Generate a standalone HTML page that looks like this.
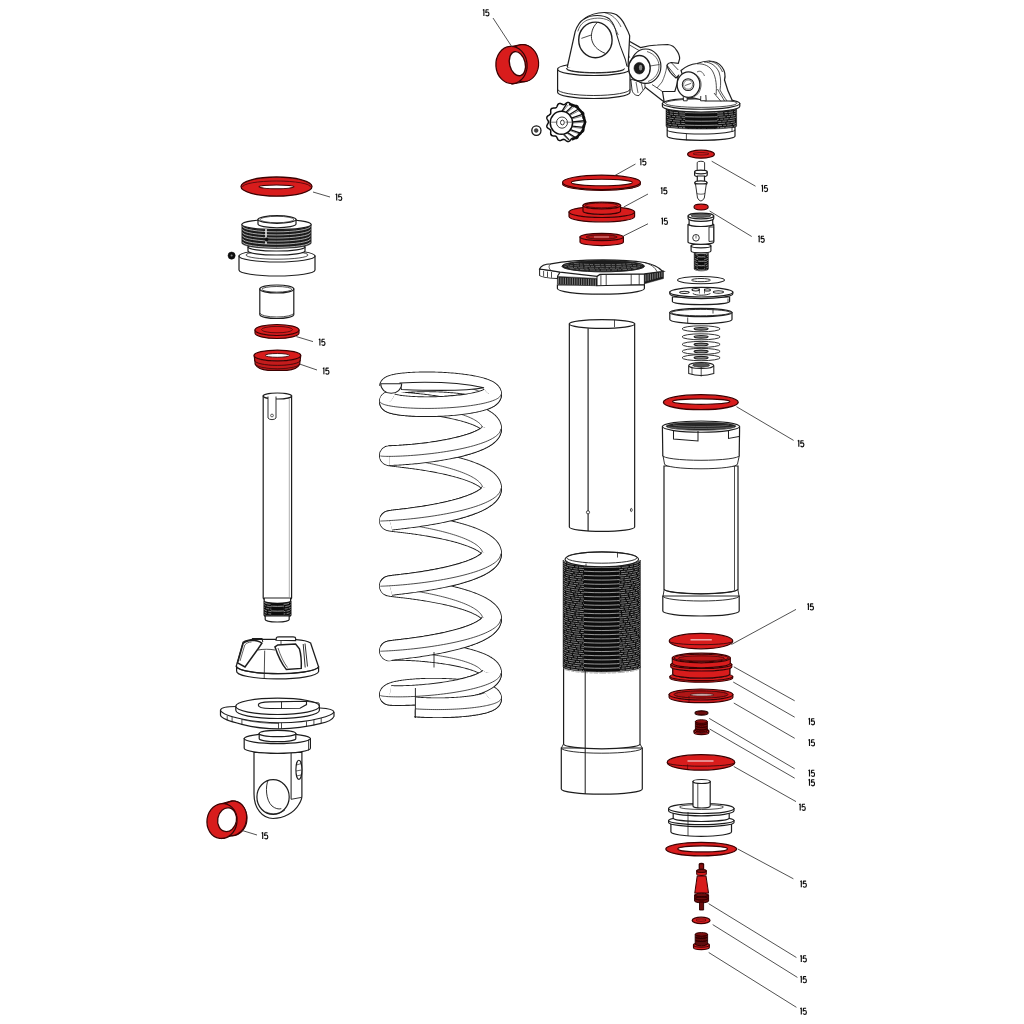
<!DOCTYPE html>
<html><head><meta charset="utf-8"><style>
html,body{margin:0;padding:0;background:#fff;font-family:"Liberation Sans",sans-serif;}
svg{display:block;}
</style></head><body>
<svg width="1024" height="1024" viewBox="0 0 1024 1024">
<defs><filter id="soft" x="0" y="0" width="1" height="1"><feGaussianBlur stdDeviation="0.32"/></filter></defs>
<rect width="1024" height="1024" fill="#fff"/>
<g filter="url(#soft)">
<ellipse cx="276.5" cy="186.6" rx="35.5" ry="9.6" fill="#d81c1f" stroke="#3c0606" stroke-width="1.3" />
<path d="M242.5 187 A34 6 0 0 1 310.5 187" fill="none" stroke="#3c0606" stroke-width="0.78" />
<ellipse cx="276.5" cy="186.8" rx="17.5" ry="1.9" fill="#fff" stroke="#3c0606" stroke-width="1.04" />
<line x1="313" y1="192" x2="330" y2="197" stroke="#333" stroke-width="0.85"/>
<path d="M0.9 1.1 L1.9 0.25 L1.9 6.95 M6.7 0.5 L4.1 0.5 L3.8 3.35 C4.3 2.95 4.8 2.8 5.3 2.8 C6.3 2.8 7.0 3.65 7.0 4.8 C7.0 6.1 6.3 6.9 5.3 6.9 C4.6 6.9 4.0 6.5 3.75 5.85" fill="none" stroke="#111" stroke-width="1.15" stroke-linejoin="round" transform="translate(334.8 193.8) scale(1 0.96)"/>
<path d="M239 256 L239 270 A38 6 0 0 0 315 270 L315 256 Z" fill="#fff" stroke="#1f1f1f" stroke-width="1.21" />
<ellipse cx="277" cy="256" rx="38" ry="6" fill="#fff" stroke="#1f1f1f" stroke-width="1.21" />
<ellipse cx="277" cy="255" rx="31" ry="4.2" fill="none" stroke="#1f1f1f" stroke-width="0.8" />
<path d="M248 247 L248 251 A28.5 4 0 0 0 305 251 L305 247 Z" fill="#fff" stroke="#1f1f1f" stroke-width="1.21" />
<ellipse cx="276.5" cy="247" rx="28.5" ry="4" fill="#fff" stroke="#1f1f1f" stroke-width="1.21" />
<path d="M241.8 224.5 L241.8 243 A34.7 5.5 0 0 0 311.2 243 L311.2 224.5 A34.7 5.5 0 0 1 241.8 224.5 Z" fill="#1a1a1a" stroke="#1a1a1a" stroke-width="0.5" />
<path d="M242.6 226.36 A33.9 5.5 0 0 0 310.4 226.36 M242.6 229.46 A33.9 5.5 0 0 0 310.4 229.46 M242.6 232.56 A33.9 5.5 0 0 0 310.4 232.56 M242.6 235.66 A33.9 5.5 0 0 0 310.4 235.66 M242.6 238.76 A33.9 5.5 0 0 0 310.4 238.76 M242.6 241.86 A33.9 5.5 0 0 0 310.4 241.86" fill="none" stroke="#c4c4c4" stroke-width="0.85" />
<ellipse cx="276.5" cy="224.5" rx="34.7" ry="5" fill="#fff" stroke="#1f1f1f" stroke-width="1.21" />
<path d="M258 219.5 L258 224 A19 3.8 0 0 0 296 224 L296 219.5 Z" fill="#fff" stroke="#1f1f1f" stroke-width="1.21" />
<ellipse cx="277" cy="219.5" rx="19" ry="3.8" fill="#fff" stroke="#1f1f1f" stroke-width="1.21" />
<ellipse cx="277" cy="219.5" rx="17" ry="3.2" fill="#fff" stroke="#1f1f1f" stroke-width="0.8" />
<path d="M266 229 L266 244" fill="none" stroke="#e8e8e8" stroke-width="1.6" />
<ellipse cx="266.5" cy="239.5" rx="1.8" ry="1.8" fill="#111" stroke="#111" stroke-width="0.5" />
<ellipse cx="231.6" cy="255.6" rx="3.6" ry="3.6" fill="#111" stroke="#111" stroke-width="0.5" />
<ellipse cx="231.6" cy="255.6" rx="1" ry="1" fill="#888" stroke="none" stroke-width="0" />
<path d="M259.8 289 L259.8 314.5 A17 4 0 0 0 293.8 314.5 L293.8 289 Z" fill="#fff" stroke="#1f1f1f" stroke-width="1.21" />
<ellipse cx="276.8" cy="289" rx="17" ry="4" fill="#fff" stroke="#1f1f1f" stroke-width="1.21" />
<ellipse cx="276.8" cy="289.3" rx="15" ry="2.8" fill="none" stroke="#1f1f1f" stroke-width="0.8" />
<path d="M259.8 313 A17 4 0 0 0 293.8 313" fill="none" stroke="#1f1f1f" stroke-width="0.8" />
<path d="M255 330 L255 333 A22 5.5 0 0 0 299 333 L299 330 Z" fill="#d81c1f" stroke="#3c0606" stroke-width="1.17" />
<ellipse cx="277" cy="330" rx="22" ry="5.5" fill="#d81c1f" stroke="#3c0606" stroke-width="1.17" />
<ellipse cx="277" cy="329.6" rx="15.5" ry="3.2" fill="none" stroke="#3c0606" stroke-width="0.78" />
<line x1="296.4" y1="336.6" x2="313" y2="341.6" stroke="#333" stroke-width="0.85"/>
<path d="M0.9 1.1 L1.9 0.25 L1.9 6.95 M6.7 0.5 L4.1 0.5 L3.8 3.35 C4.3 2.95 4.8 2.8 5.3 2.8 C6.3 2.8 7.0 3.65 7.0 4.8 C7.0 6.1 6.3 6.9 5.3 6.9 C4.6 6.9 4.0 6.5 3.75 5.85" fill="none" stroke="#111" stroke-width="1.15" stroke-linejoin="round" transform="translate(318 338.8) scale(1 0.96)"/>
<path d="M254.2 356 L255.3 364.5 C257 367.5 262 369.8 268 370.3 L287 370.3 C293 369.8 298 367.5 299.6 364.5 L300.7 356 Z" fill="#c41a1c" stroke="#3c0606" stroke-width="1.17" />
<path d="M254.4 360.2 A23 5.2 0 0 0 300.4 360.2" fill="none" stroke="#3c0606" stroke-width="0.91" />
<path d="M255.1 363.6 A22.3 5.2 0 0 0 299.7 363.6" fill="none" stroke="#3c0606" stroke-width="0.78" />
<ellipse cx="277.4" cy="355.5" rx="23.4" ry="5.4" fill="#d81c1f" stroke="#3c0606" stroke-width="1.17" />
<ellipse cx="277.3" cy="355.4" rx="12.2" ry="1.9" fill="#fff" stroke="#3c0606" stroke-width="0.91" />
<line x1="299.5" y1="364" x2="317" y2="370" stroke="#333" stroke-width="0.85"/>
<path d="M0.9 1.1 L1.9 0.25 L1.9 6.95 M6.7 0.5 L4.1 0.5 L3.8 3.35 C4.3 2.95 4.8 2.8 5.3 2.8 C6.3 2.8 7.0 3.65 7.0 4.8 C7.0 6.1 6.3 6.9 5.3 6.9 C4.6 6.9 4.0 6.5 3.75 5.85" fill="none" stroke="#111" stroke-width="1.15" stroke-linejoin="round" transform="translate(322 367.6) scale(1 0.96)"/>
<path d="M263.2 396 L263.2 598 A14.2 3 0 0 0 291.6 598 L291.6 396 Z" fill="#fff" stroke="#1f1f1f" stroke-width="1.21" />
<ellipse cx="277.4" cy="396" rx="14.2" ry="3" fill="#fff" stroke="#1f1f1f" stroke-width="1.21" />
<path d="M268 396.5 L268 418 A4.5 3 0 0 0 276 418 L276 396.5" fill="#fff" stroke="#1f1f1f" stroke-width="0.92" />
<ellipse cx="272" cy="415.5" rx="1.4" ry="1.4" fill="none" stroke="#1f1f1f" stroke-width="0.69" />
<line x1="289.3" y1="399" x2="289.3" y2="597" stroke="#777" stroke-width="0.6"/>
<path d="M264.2 598 L264.2 601 A13.2 2.4 0 0 0 290.6 601 L290.6 598 Z" fill="#fff" stroke="#1f1f1f" stroke-width="1.21" />
<path d="M263.8 601 L263.8 615.5 A13.7 2.5 0 0 0 291.2 615.5 L291.2 601 A13.7 2.5 0 0 1 263.8 601 Z" fill="#101010" stroke="#101010" stroke-width="0.5" />
<path d="M264.4 602.2 A13.1 2.5 0 0 0 290.6 602.2" fill="none" stroke="#9c9c9c" stroke-width="0.8" stroke-dasharray="4.5 1.2 7 1.5 3 1" stroke-dashoffset="5.83"/>
<path d="M264.4 604.6 A13.1 2.5 0 0 0 290.6 604.6" fill="none" stroke="#9c9c9c" stroke-width="0.8" stroke-dasharray="4.5 1.2 7 1.5 3 1" stroke-dashoffset="2.72"/>
<path d="M264.4 607 A13.1 2.5 0 0 0 290.6 607" fill="none" stroke="#9c9c9c" stroke-width="0.8" stroke-dasharray="4.5 1.2 7 1.5 3 1" stroke-dashoffset="11.72"/>
<path d="M264.4 609.4 A13.1 2.5 0 0 0 290.6 609.4" fill="none" stroke="#9c9c9c" stroke-width="0.8" stroke-dasharray="4.5 1.2 7 1.5 3 1" stroke-dashoffset="1.3"/>
<path d="M264.4 611.8 A13.1 2.5 0 0 0 290.6 611.8" fill="none" stroke="#9c9c9c" stroke-width="0.8" stroke-dasharray="4.5 1.2 7 1.5 3 1" stroke-dashoffset="9.65"/>
<path d="M264.4 614.2 A13.1 2.5 0 0 0 290.6 614.2" fill="none" stroke="#9c9c9c" stroke-width="0.8" stroke-dasharray="4.5 1.2 7 1.5 3 1" stroke-dashoffset="6.58"/>
<clipPath id="thc1"><rect x="271.2" y="601" width="12.6" height="17"/></clipPath>
<rect x="271.2" y="603.5" width="12.6" height="14" fill="#101010" clip-path="url(#thc1)"/>
<path d="M264.4 603.88 A13.1 2.5 0 0 0 290.6 603.88 M264.4 608.68 A13.1 2.5 0 0 0 290.6 608.68 M264.4 613.48 A13.1 2.5 0 0 0 290.6 613.48" fill="none" stroke="#c4c4c4" stroke-width="0.75" clip-path="url(#thc1)"/>
<path d="M265.2 615.8 L265.2 619.5 A12 2.5 0 0 0 289.2 619.5 L289.2 615.8 Z" fill="#fff" stroke="#1f1f1f" stroke-width="1.21" />
<path d="M236.6 665 L236.6 671 A41 7.7 0 0 0 318.6 671.5 L318.6 667 Z" fill="#fff" stroke="#1f1f1f" stroke-width="1.21" />
<path d="M236.6 665 L243.1 642.2 C246 640 250 639.5 255 639.3 L275 639.4 L296 639.6 C303 640 307.5 641 310.6 643 L318.6 667 A41 7.5 0 0 1 236.6 665 Z" fill="#fff" stroke="#1f1f1f" stroke-width="1.26" />
<path d="M236.6 665.5 A41 7.5 0 0 0 318.6 667" fill="none" stroke="#1f1f1f" stroke-width="1.15" />
<path d="M237.6 662.8 L245 667 C250 660 255 653 258.1 648.75 L261.9 643.1 C259 641 255 640.3 251.6 640.3 C247 641 244.5 642 243.1 643.5 Z" fill="#fff" stroke="#1f1f1f" stroke-width="1.49" />
<path d="M240 661 L244.8 645 C246.5 643 249 642 251.5 642" fill="none" stroke="#1f1f1f" stroke-width="0.69" />
<path d="M275 646.9 C278 656 282 664 286.25 669.4 L301.25 668.4 C301.5 661 301 654 299.4 648.75 L295.6 644 L277.8 645 Z" fill="#fff" stroke="#1f1f1f" stroke-width="1.49" />
<path d="M278 648 C280.5 656 284 663 287.5 667.5" fill="none" stroke="#1f1f1f" stroke-width="0.69" />
<path d="M303.2 644 L305.2 667.5 M305 643.5 L307.5 666.5" fill="none" stroke="#1f1f1f" stroke-width="0.92" />
<path d="M276 640.3 L276.5 637.5 C277 636.8 278 636.8 279 636.8 L293 636.8 C294.5 636.8 295.6 637.5 295.6 638.5 L295.6 640.6 Z" fill="#fff" stroke="#1f1f1f" stroke-width="1.15" />
<line x1="281" y1="640.5" x2="281" y2="644.5" stroke="#1f1f1f" stroke-width="0.8"/>
<path d="M251.6 640.3 L252.5 638.6 L262 638.6 L262.8 642" fill="none" stroke="#1f1f1f" stroke-width="1.03" />
<path d="M258 650 C263 649 270 649 275 650" fill="none" stroke="#1f1f1f" stroke-width="0.8" />
<line x1="264.7" y1="650.6" x2="264.2" y2="678.8" stroke="#1f1f1f" stroke-width="0.8"/>
<path d="M254 752.5 L254 794 C254 808.5 262.5 818.5 273 818.5 C284 818.5 294 812.5 298.5 805 C300.5 802 301.9 799 301.9 796 L301.9 752.5 Z" fill="#fff" stroke="#1f1f1f" stroke-width="1.21" />
<line x1="291.1" y1="753" x2="291.1" y2="799.3" stroke="#1f1f1f" stroke-width="1.03"/>
<line x1="291.1" y1="799.3" x2="301.5" y2="797.4" stroke="#1f1f1f" stroke-width="0.92"/>
<ellipse cx="273.05" cy="797" rx="16.15" ry="17.35" fill="#fff" stroke="#1f1f1f" stroke-width="1.21" />
<path d="M268 780.5 C265.5 786 265.5 800 272 806 C275 808.5 278.5 809.5 281.3 808.7" fill="none" stroke="#1f1f1f" stroke-width="0.92" />
<path d="M266 812 C272 815 280 814 285 810" fill="none" stroke="#1f1f1f" stroke-width="0.69" />
<ellipse cx="298.9" cy="769.8" rx="3" ry="9.6" fill="#fff" stroke="#1f1f1f" stroke-width="1.15" />
<path d="M296.5 765 L301.2 763.5 M296 771 L301.5 770 M296.5 776 L301 775" fill="none" stroke="#1f1f1f" stroke-width="0.69" />
<path d="M244.2 738.6 L244.2 748.3 A33.1 5 0 0 0 310.4 748.3 L310.4 738.6 Z" fill="#fff" stroke="#1f1f1f" stroke-width="1.21" />
<ellipse cx="277.3" cy="738.6" rx="33.1" ry="5" fill="#fff" stroke="#1f1f1f" stroke-width="1.21" />
<line x1="308.5" y1="739.5" x2="308.5" y2="750.5" stroke="#1f1f1f" stroke-width="0.8"/>
<path d="M259.2 733.5 L259.2 738.5 A18.3 3.2 0 0 0 295.8 738.5 L295.8 733.5 Z" fill="#fff" stroke="#1f1f1f" stroke-width="1.21" />
<ellipse cx="277.5" cy="733.5" rx="18.3" ry="3.2" fill="#fff" stroke="#1f1f1f" stroke-width="1.21" />
<path d="M220.5 710 C221 707.5 228 706.5 236 706.5 L320 708 C328 708.5 333.5 709.5 334 712 L334 716.4 C333 719 328 722 320 723.7 C305 727.5 292 728.8 279.7 728.8 C265 728.8 252 727 241.9 724.3 C230 721.5 221 718.5 220.5 715.2 Z" fill="#fff" stroke="#1f1f1f" stroke-width="1.21" />
<path d="M220.5 710.5 C222 713.5 230 716.5 241.9 719 C255 721.8 268 722.8 279.7 722.8 C295 722.8 310 721 320 718.3 C328 716.3 333 714.2 334 712" fill="none" stroke="#1f1f1f" stroke-width="1.03" />
<path d="M241.9 719 L241.9 724.3 M278.5 722.8 L278.5 728.8 M281.5 722.8 L281.5 728.8 M306.5 721.3 L306.5 726.8 M313.9 719.8 L313.9 725.5 M321.2 718 L321.2 723.5 M227.2 715.5 L227.2 720.5 M232.1 717 L232.1 722" fill="none" stroke="#1f1f1f" stroke-width="0.8" />
<path d="M241.9 719.5 C255 722.5 268 723.5 278.5 723.5" fill="none" stroke="#1f1f1f" stroke-width="0.69" />
<path d="M235.8 706.3 L235.8 710.3 A41.8 8.2 0 0 0 319.4 710.3 L319.4 706.3 Z" fill="#fff" stroke="#1f1f1f" stroke-width="1.21" />
<ellipse cx="277.6" cy="706.3" rx="41.8" ry="8.2" fill="#fff" stroke="#1f1f1f" stroke-width="1.21" />
<path d="M258.3 705 C258.3 703 262 701.8 270 701.8 L306.5 701.3 L306.5 704.6 L300 708.3 L270 708.5 C262 708.5 258.3 707 258.3 705 Z" fill="#fff" stroke="#1f1f1f" stroke-width="1.15" />
<path d="M281.5 701.8 L281.5 708.4 M306.5 701.3 L319 703 L319.4 706" fill="none" stroke="#1f1f1f" stroke-width="0.92" />
<path d="M222 803.5 L232 800.8 A15 17.5 0 0 1 232 835.8 L222 838.5 Z" fill="#d81c1f" stroke="#3c0606" stroke-width="1.17" />
<ellipse cx="232.5" cy="818.3" rx="14" ry="17.3" fill="#d81c1f" stroke="#3c0606" stroke-width="1.17" transform="rotate(8 232.5 818.3)"/>
<ellipse cx="222" cy="821" rx="15" ry="17.5" fill="#d81c1f" stroke="#3c0606" stroke-width="1.3" transform="rotate(8 222 821)"/>
<ellipse cx="227.1" cy="819.7" rx="9.4" ry="11.9" fill="#fff" stroke="#3c0606" stroke-width="1.3" transform="rotate(10 227.1 819.7)"/>
<line x1="242.5" y1="830.6" x2="257" y2="835" stroke="#333" stroke-width="0.85"/>
<path d="M0.9 1.1 L1.9 0.25 L1.9 6.95 M6.7 0.5 L4.1 0.5 L3.8 3.35 C4.3 2.95 4.8 2.8 5.3 2.8 C6.3 2.8 7.0 3.65 7.0 4.8 C7.0 6.1 6.3 6.9 5.3 6.9 C4.6 6.9 4.0 6.5 3.75 5.85" fill="none" stroke="#111" stroke-width="1.15" stroke-linejoin="round" transform="translate(260.8 832.3) scale(1 0.96)"/>
<path d="M389.3 387 L389.32 386.83 L389.37 386.67 L389.47 386.5 L389.59 386.34 L389.76 386.17 L389.96 386.01 L390.2 385.85 L390.48 385.68 L390.79 385.52 L391.13 385.37 L391.51 385.21 L391.93 385.05 L392.38 384.9 L392.87 384.75 L393.39 384.6 L393.95 384.45 L394.53 384.31 L395.16 384.17 L395.81 384.03 L396.5 383.89 L397.22 383.76 L397.96 383.63 L398.74 383.51 L399.55 383.38 L400.39 383.26 L401.26 383.15 L402.16 383.04 L403.08 382.93 L404.03 382.83 L405.01 382.73 L406.01 382.64 L407.04 382.55 L408.09 382.46 L409.17 382.38 L410.27 382.31 L411.39 382.24 L412.53 382.17 L413.69 382.11 L414.87 382.06 L416.06 382.01 L417.28 381.96 L418.51 381.92 L419.76 381.89 L421.02 381.86 L422.3 381.84 L423.59 381.83 L424.9 381.81 L426.21 381.81 L427.53 381.81 L428.87 381.82 L430.21 381.83 L431.56 381.85 L432.91 381.88 L434.27 381.91 L435.64 381.94 L437.01 381.99 L438.38 382.04 L439.75 382.09 L441.13 382.15 L442.5 382.22 L443.87 382.3 L445.24 382.38 L446.61 382.46 L447.97 382.55 L449.33 382.65 L450.68 382.76 L452.02 382.87 L453.35 382.98 L454.68 383.1 L455.99 383.23 L457.3 383.37 L458.59 383.51 L459.87 383.65 L461.13 383.8 L462.38 383.96 L463.62 384.12 L464.83 384.29 L466.03 384.46 L467.21 384.64 L468.38 384.82 L469.52 385.01 L470.64 385.21 L471.74 385.4 L472.82 385.61 L473.87 385.82 L474.9 386.03 L475.9 386.25 L476.88 386.47 L477.84 386.69 L478.76 386.93 L479.66 387.16 L480.53 387.4 L481.38 387.64 L482.19 387.89 L482.97 388.14 L483.72 388.39 L484.44 388.64 L485.13 388.9 L485.79 389.17 L486.41 389.43 L487.01 389.7 L487.56 389.97 L488.09 390.24 L488.58 390.52 L489.03 390.79 L489.45 391.07 L489.84 391.35 L490.19 391.64 L490.5 391.92 L490.78 392.21 L491.02 392.49 L491.22 392.78 L491.39 393.07 L491.52 393.36 L491.62 393.65 L491.68 393.94 L491.7 394.23 L491.68 394.52 L491.63 394.81 L491.54 395.09 L491.42 395.38 L491.26 395.67 L491.06 395.96 L490.82 396.25 L490.55 396.53 L490.24 396.82 L489.9 397.1 L489.52 397.38 L489.11 397.66 L488.66 397.94 L488.17 398.21 L487.65 398.49 L487.1 398.76 L486.52 399.02 L485.9 399.29 L485.25 399.55 L484.56 399.81 L483.85 400.07 L483.1 400.32 L482.32 400.57 L481.52 400.82 L480.68 401.06 L479.81 401.3 L478.92 401.54 L478 401.77 L477.05 401.99 L476.07 402.22 L475.07 402.43 L474.05 402.65 L473 402.86 L471.92 403.06 L470.83 403.26 L469.71 403.45 L468.57 403.64 L467.41 403.83 L466.23 404.01 L465.04 404.18 L463.82 404.35 L462.59 404.51 L461.35 404.67 L460.08 404.82 L458.81 404.97 L457.52 405.11 L456.22 405.24 L454.9 405.37 L453.58 405.5 L452.25 405.61 L450.91 405.73 L449.56 405.83 L448.2 405.93 L446.84 406.02 L445.48 406.11 L444.11 406.19 L442.74 406.27 L441.36 406.33 L439.99 406.4 L438.62 406.45 L437.24 406.5 L435.87 406.55 L434.51 406.59 L433.15 406.62 L431.79 406.65 L430.44 406.67 L429.09 406.68 L427.76 406.69 L426.43 406.69 L425.12 406.69 L423.81 406.68 L422.52 406.66 L421.24 406.64 L419.98 406.61 L418.72 406.58 L417.49 406.54 L416.27 406.5 L415.07 406.45 L413.89 406.4 L412.72 406.34 L411.58 406.27 L410.46 406.2 L409.35 406.13 L408.27 406.05 L407.22 405.97 L406.19 405.88 L405.18 405.79 L404.2 405.69 L403.24 405.59 L402.31 405.48 L401.41 405.37 L400.54 405.26 L399.7 405.14 L398.88 405.02 L398.09 404.89 L397.34 404.76 L396.62 404.63 L395.93 404.49 L395.27 404.36 L394.64 404.22 L394.04 404.07 L393.48 403.93 L392.96 403.78 L392.46 403.63 L392.01 403.47 L391.58 403.32 L391.19 403.16 L390.84 403 L390.53 402.84 L390.24 402.68 L390 402.52 L389.79 402.36 L389.62 402.19 L389.49 402.03 L389.39 401.86 L389.33 401.69 L389.3 401.53 L389.31 401.5 L389.36 401.51 L389.45 401.51 L389.57 401.51 L389.73 401.52 L389.93 401.52 L390.16 401.53 L390.43 401.54 L390.73 401.54 L391.07 401.55 L391.45 401.57 L391.86 401.58 L392.3 401.6 L392.78 401.61 L393.3 401.63 L393.85 401.65 L394.43 401.68 L395.05 401.71 L395.7 401.74 L396.38 401.77 L397.09 401.81 L397.83 401.84 L398.61 401.89 L399.41 401.93 L400.25 401.98 L401.11 402.04 L402 402.09 L402.92 402.16 L403.87 402.22 L404.84 402.29 L405.84 402.37 L406.86 402.45 L407.91 402.53 L408.98 402.62 L410.08 402.71 L411.19 402.81 L412.33 402.91 L413.49 403.02 L414.66 403.13 L415.86 403.25 L417.07 403.37 L418.3 403.5 L419.55 403.64 L420.81 403.78 L422.08 403.93 L423.37 404.08 L424.67 404.24 L425.98 404.4 L427.31 404.57 L428.64 404.74 L429.98 404.92 L431.33 405.11 L432.68 405.3 L434.04 405.5 L435.41 405.71 L436.78 405.92 L438.15 406.14 L439.52 406.36 L440.89 406.59 L442.27 406.83 L443.64 407.07 L445.01 407.32 L446.38 407.57 L447.74 407.83 L449.1 408.1 L450.45 408.37 L451.79 408.65 L453.13 408.93 L454.45 409.22 L455.77 409.52 L457.08 409.82 L458.37 410.13 L459.65 410.44 L460.92 410.76 L462.17 411.09 L463.41 411.42 L464.63 411.75 L465.83 412.09 L467.01 412.44 L468.18 412.79 L469.33 413.15 L470.45 413.51 L471.55 413.88 L472.63 414.25 L473.69 414.63 L474.73 415.01 L475.74 415.39 L476.72 415.78 L477.68 416.18 L478.61 416.58 L479.51 416.98 L480.39 417.39 L481.23 417.8 L482.05 418.21 L482.84 418.63 L483.6 419.05 L484.32 419.47 L485.02 419.9 L485.68 420.33 L486.31 420.77 L486.91 421.2 L487.47 421.64 L488 422.08 L488.5 422.53 L488.96 422.97 L489.38 423.42 L489.77 423.87 L490.13 424.32 L490.45 424.78 L490.73 425.23 L490.98 425.68 L491.19 426.14 L491.37 426.6 L491.5 427.06 L491.61 427.51 L491.67 427.97 L491.7 428.43 L491.69 428.89 L491.64 429.35 L491.56 429.81 L491.44 430.27 L491.29 430.73 L491.09 431.18 L490.86 431.64 L490.6 432.09 L490.3 432.55 L489.96 433 L489.59 433.45 L489.18 433.9 L488.74 434.34 L488.26 434.79 L487.75 435.23 L487.2 435.67 L486.62 436.11 L486.01 436.55 L485.36 436.98 L484.68 437.41 L483.97 437.83 L483.23 438.26 L482.46 438.68 L481.66 439.09 L480.82 439.5 L479.96 439.91 L479.07 440.32 L478.16 440.72 L477.21 441.12 L476.24 441.51 L475.24 441.9 L474.22 442.28 L473.18 442.66 L472.11 443.03 L471.02 443.4 L469.9 443.77 L468.77 444.13 L467.61 444.48 L466.44 444.83 L465.24 445.17 L464.03 445.51 L462.8 445.85 L461.56 446.17 L460.3 446.49 L459.03 446.81 L457.74 447.12 L456.44 447.43 L455.13 447.73 L453.81 448.02 L452.47 448.31 L451.13 448.59 L449.79 448.86 L448.43 449.13 L447.07 449.4 L445.71 449.65 L444.34 449.9 L442.97 450.15 L441.6 450.39 L440.22 450.62 L438.85 450.85 L437.48 451.07 L436.11 451.28 L434.74 451.49 L433.38 451.69 L432.02 451.89 L430.67 452.08 L429.32 452.26 L427.99 452.44 L426.66 452.62 L425.34 452.78 L424.04 452.94 L422.74 453.1 L421.46 453.25 L420.19 453.39 L418.94 453.53 L417.7 453.66 L416.48 453.79 L415.27 453.91 L414.09 454.02 L412.92 454.13 L411.77 454.24 L410.64 454.34 L409.54 454.44 L408.46 454.53 L407.4 454.61 L406.36 454.69 L405.35 454.77 L404.36 454.84 L403.4 454.91 L402.47 454.97 L401.56 455.03 L400.69 455.09 L399.84 455.14 L399.02 455.19 L398.23 455.23 L397.47 455.28 L396.74 455.31 L396.04 455.35 L395.38 455.38 L394.74 455.41 L394.14 455.43 L393.58 455.46 L393.04 455.48 L392.55 455.5 L392.08 455.51 L391.65 455.53 L391.26 455.54 L390.9 455.55 L390.58 455.56 L390.29 455.57 L390.04 455.57 L389.82 455.58 L389.65 455.58 L389.51 455.59 L389.4 455.59 L389.33 455.6 L389.3 455.6 L389.31 455.63 L389.35 455.68 L389.43 455.73 L389.55 455.79 L389.7 455.84 L389.89 455.89 L390.12 455.94 L390.38 456 L390.68 456.05 L391.01 456.11 L391.38 456.17 L391.79 456.23 L392.23 456.29 L392.7 456.36 L393.21 456.42 L393.75 456.49 L394.33 456.56 L394.94 456.64 L395.58 456.72 L396.26 456.8 L396.97 456.88 L397.71 456.96 L398.48 457.05 L399.27 457.15 L400.1 457.24 L400.96 457.34 L401.85 457.45 L402.76 457.56 L403.71 457.67 L404.68 457.79 L405.67 457.91 L406.69 458.03 L407.73 458.16 L408.8 458.3 L409.89 458.44 L411 458.58 L412.14 458.73 L413.29 458.89 L414.46 459.05 L415.65 459.21 L416.86 459.38 L418.09 459.56 L419.33 459.74 L420.59 459.92 L421.87 460.12 L423.15 460.32 L424.45 460.52 L425.76 460.73 L427.08 460.95 L428.41 461.17 L429.75 461.39 L431.1 461.63 L432.45 461.87 L433.81 462.11 L435.17 462.36 L436.54 462.62 L437.91 462.89 L439.29 463.16 L440.66 463.43 L442.03 463.71 L443.41 464 L444.78 464.3 L446.14 464.6 L447.51 464.9 L448.87 465.22 L450.22 465.54 L451.56 465.86 L452.9 466.19 L454.23 466.53 L455.55 466.87 L456.85 467.22 L458.15 467.57 L459.43 467.93 L460.7 468.3 L461.96 468.67 L463.2 469.05 L464.42 469.43 L465.63 469.82 L466.81 470.21 L467.98 470.61 L469.13 471.01 L470.26 471.42 L471.37 471.83 L472.45 472.25 L473.51 472.67 L474.55 473.1 L475.57 473.53 L476.55 473.97 L477.52 474.41 L478.45 474.86 L479.36 475.31 L480.24 475.76 L481.09 476.22 L481.91 476.68 L482.71 477.14 L483.47 477.61 L484.2 478.08 L484.9 478.56 L485.57 479.04 L486.2 479.52 L486.81 480 L487.38 480.49 L487.91 480.97 L488.41 481.47 L488.88 481.96 L489.31 482.45 L489.71 482.95 L490.07 483.45 L490.4 483.95 L490.69 484.45 L490.94 484.95 L491.16 485.46 L491.34 485.96 L491.48 486.47 L491.59 486.97 L491.66 487.48 L491.7 487.98 L491.69 488.49 L491.65 489 L491.58 489.5 L491.46 490.01 L491.31 490.51 L491.13 491.02 L490.91 491.52 L490.65 492.02 L490.35 492.53 L490.02 493.03 L489.65 493.52 L489.25 494.02 L488.81 494.51 L488.34 495.01 L487.83 495.5 L487.29 495.99 L486.72 496.47 L486.11 496.95 L485.47 497.43 L484.8 497.91 L484.09 498.39 L483.36 498.86 L482.59 499.32 L481.79 499.79 L480.97 500.25 L480.11 500.71 L479.23 501.16 L478.31 501.61 L477.37 502.05 L476.41 502.49 L475.42 502.93 L474.4 503.36 L473.36 503.79 L472.29 504.21 L471.2 504.63 L470.09 505.04 L468.96 505.45 L467.81 505.85 L466.64 506.25 L465.45 506.64 L464.24 507.03 L463.01 507.41 L461.77 507.79 L460.51 508.16 L459.24 508.52 L457.96 508.88 L456.66 509.23 L455.35 509.58 L454.03 509.92 L452.7 510.26 L451.36 510.59 L450.02 510.91 L448.66 511.23 L447.31 511.54 L445.94 511.85 L444.57 512.15 L443.2 512.44 L441.83 512.73 L440.46 513.01 L439.08 513.28 L437.71 513.55 L436.34 513.82 L434.97 514.07 L433.61 514.32 L432.25 514.57 L430.9 514.81 L429.55 515.04 L428.21 515.27 L426.88 515.49 L425.57 515.7 L424.26 515.91 L422.96 516.11 L421.68 516.31 L420.41 516.5 L419.15 516.69 L417.91 516.87 L416.68 517.04 L415.48 517.21 L414.29 517.38 L413.12 517.54 L411.97 517.69 L410.84 517.84 L409.73 517.98 L408.64 518.12 L407.58 518.26 L406.54 518.39 L405.52 518.51 L404.53 518.63 L403.57 518.75 L402.63 518.86 L401.72 518.97 L400.83 519.07 L399.98 519.17 L399.15 519.27 L398.36 519.36 L397.59 519.45 L396.86 519.53 L396.16 519.62 L395.49 519.7 L394.85 519.77 L394.24 519.85 L393.67 519.92 L393.13 519.99 L392.63 520.05 L392.16 520.12 L391.72 520.18 L391.32 520.24 L390.96 520.3 L390.63 520.35 L390.34 520.41 L390.08 520.46 L389.86 520.52 L389.67 520.57 L389.53 520.62 L389.42 520.67 L389.34 520.72 L389.3 520.77 L389.3 520.82 L389.34 520.88 L389.41 520.93 L389.52 520.98 L389.67 521.03 L389.85 521.08 L390.07 521.13 L390.33 521.19 L390.62 521.24 L390.95 521.3 L391.31 521.36 L391.71 521.42 L392.15 521.48 L392.62 521.55 L393.12 521.61 L393.66 521.68 L394.23 521.75 L394.83 521.83 L395.47 521.9 L396.14 521.98 L396.84 522.06 L397.58 522.15 L398.34 522.24 L399.14 522.33 L399.96 522.43 L400.81 522.53 L401.7 522.63 L402.61 522.74 L403.54 522.85 L404.51 522.97 L405.5 523.09 L406.51 523.21 L407.55 523.34 L408.62 523.47 L409.7 523.61 L410.81 523.76 L411.94 523.9 L413.09 524.06 L414.26 524.22 L415.45 524.38 L416.66 524.55 L417.88 524.73 L419.12 524.91 L420.38 525.09 L421.65 525.28 L422.93 525.48 L424.23 525.68 L425.54 525.89 L426.86 526.11 L428.18 526.33 L429.52 526.56 L430.87 526.79 L432.22 527.03 L433.58 527.27 L434.94 527.52 L436.31 527.78 L437.68 528.04 L439.05 528.31 L440.43 528.59 L441.8 528.87 L443.17 529.15 L444.54 529.45 L445.91 529.75 L447.28 530.05 L448.63 530.36 L449.99 530.68 L451.33 531.01 L452.67 531.33 L454 531.67 L455.32 532.01 L456.63 532.36 L457.93 532.71 L459.22 533.07 L460.49 533.44 L461.74 533.81 L462.99 534.18 L464.21 534.56 L465.42 534.95 L466.61 535.34 L467.78 535.74 L468.94 536.14 L470.07 536.55 L471.18 536.96 L472.27 537.38 L473.33 537.8 L474.38 538.23 L475.39 538.66 L476.39 539.1 L477.35 539.54 L478.29 539.98 L479.21 540.43 L480.09 540.88 L480.95 541.34 L481.78 541.8 L482.57 542.27 L483.34 542.73 L484.08 543.2 L484.78 543.68 L485.46 544.15 L486.1 544.64 L486.71 545.12 L487.28 545.6 L487.82 546.09 L488.33 546.58 L488.8 547.07 L489.24 547.57 L489.64 548.07 L490.01 548.56 L490.34 549.06 L490.64 549.56 L490.9 550.07 L491.12 550.57 L491.31 551.07 L491.46 551.58 L491.58 552.09 L491.65 552.59 L491.69 553.1 L491.7 553.6 L491.66 554.11 L491.59 554.62 L491.49 555.12 L491.34 555.63 L491.16 556.13 L490.95 556.64 L490.69 557.14 L490.4 557.64 L490.08 558.14 L489.72 558.64 L489.32 559.14 L488.89 559.63 L488.42 560.12 L487.92 560.61 L487.39 561.1 L486.82 561.59 L486.22 562.07 L485.58 562.55 L484.92 563.03 L484.22 563.51 L483.49 563.98 L482.72 564.45 L481.93 564.91 L481.11 565.37 L480.26 565.83 L479.38 566.28 L478.47 566.73 L477.54 567.18 L476.57 567.62 L475.59 568.06 L474.57 568.49 L473.54 568.92 L472.48 569.34 L471.39 569.76 L470.28 570.17 L469.16 570.58 L468.01 570.98 L466.84 571.38 L465.65 571.77 L464.45 572.16 L463.22 572.55 L461.98 572.92 L460.73 573.29 L459.46 573.66 L458.18 574.02 L456.88 574.37 L455.58 574.72 L454.26 575.06 L452.93 575.4 L451.59 575.73 L450.25 576.06 L448.9 576.38 L447.54 576.69 L446.17 577 L444.81 577.3 L443.44 577.59 L442.06 577.88 L440.69 578.16 L439.32 578.44 L437.94 578.71 L436.57 578.97 L435.2 579.23 L433.84 579.48 L432.48 579.73 L431.13 579.97 L429.78 580.2 L428.44 580.43 L427.11 580.65 L425.79 580.87 L424.48 581.08 L423.18 581.28 L421.89 581.48 L420.62 581.67 L419.36 581.86 L418.12 582.04 L416.89 582.22 L415.68 582.39 L414.49 582.55 L413.31 582.71 L412.16 582.87 L411.03 583.02 L409.91 583.16 L408.82 583.3 L407.76 583.43 L406.71 583.57 L405.69 583.69 L404.7 583.81 L403.73 583.93 L402.78 584.04 L401.87 584.15 L400.98 584.25 L400.12 584.35 L399.29 584.45 L398.49 584.54 L397.72 584.63 L396.98 584.72 L396.27 584.8 L395.6 584.88 L394.95 584.96 L394.34 585.03 L393.77 585.11 L393.22 585.17 L392.71 585.24 L392.24 585.31 L391.79 585.37 L391.39 585.43 L391.02 585.49 L390.68 585.54 L390.38 585.6 L390.12 585.66 L389.89 585.71 L389.7 585.76 L389.55 585.81 L389.43 585.86 L389.35 585.92 L389.31 585.97 L389.3 586.02 L389.33 586.07 L389.4 586.12 L389.5 586.17 L389.64 586.22 L389.82 586.27 L390.03 586.32 L390.28 586.37 L390.57 586.43 L390.89 586.48 L391.25 586.54 L391.64 586.6 L392.07 586.66 L392.53 586.72 L393.03 586.79 L393.56 586.86 L394.13 586.93 L394.73 587 L395.36 587.07 L396.03 587.15 L396.72 587.23 L397.45 587.32 L398.21 587.4 L399 587.49 L399.82 587.59 L400.67 587.69 L401.54 587.79 L402.45 587.9 L403.38 588.01 L404.34 588.12 L405.33 588.24 L406.34 588.36 L407.37 588.49 L408.43 588.62 L409.52 588.76 L410.62 588.9 L411.75 589.05 L412.89 589.2 L414.06 589.36 L415.25 589.52 L416.45 589.69 L417.67 589.86 L418.91 590.04 L420.16 590.22 L421.43 590.41 L422.71 590.61 L424.01 590.81 L425.31 591.02 L426.63 591.23 L427.96 591.45 L429.29 591.67 L430.64 591.9 L431.99 592.14 L433.35 592.38 L434.71 592.63 L436.08 592.89 L437.45 593.15 L438.82 593.41 L440.19 593.69 L441.57 593.97 L442.94 594.25 L444.31 594.54 L445.68 594.84 L447.04 595.15 L448.4 595.46 L449.76 595.77 L451.11 596.09 L452.45 596.42 L453.78 596.75 L455.1 597.09 L456.41 597.44 L457.71 597.79 L459 598.15 L460.27 598.51 L461.53 598.88 L462.78 599.25 L464.01 599.63 L465.22 600.02 L466.41 600.41 L467.59 600.8 L468.74 601.2 L469.88 601.61 L470.99 602.02 L472.08 602.44 L473.15 602.86 L474.2 603.28 L475.22 603.71 L476.22 604.15 L477.19 604.59 L478.14 605.03 L479.05 605.48 L479.94 605.93 L480.81 606.38 L481.64 606.84 L482.44 607.31 L483.21 607.77 L483.96 608.24 L484.67 608.71 L485.35 609.19 L485.99 609.67 L486.61 610.15 L487.19 610.63 L487.73 611.12 L488.25 611.61 L488.73 612.1 L489.17 612.59 L489.58 613.09 L489.95 613.59 L490.29 614.09 L490.59 614.59 L490.86 615.09 L491.09 615.59 L491.28 616.09 L491.44 616.6 L491.56 617.1 L491.64 617.61 L491.69 618.11 L491.7 618.62 L491.67 619.12 L491.61 619.63 L491.51 620.13 L491.37 620.64 L491.2 621.14 L490.99 621.65 L490.74 622.15 L490.46 622.65 L490.14 623.15 L489.78 623.65 L489.39 624.14 L488.97 624.64 L488.51 625.13 L488.01 625.62 L487.48 626.11 L486.92 626.59 L486.32 627.08 L485.69 627.56 L485.03 628.03 L484.34 628.51 L483.61 628.98 L482.86 629.45 L482.07 629.91 L481.25 630.37 L480.41 630.83 L479.53 631.28 L478.63 631.73 L477.7 632.18 L476.74 632.62 L475.76 633.06 L474.75 633.49 L473.71 633.92 L472.66 634.34 L471.58 634.76 L470.47 635.17 L469.35 635.58 L468.2 635.98 L467.04 636.38 L465.86 636.77 L464.65 637.16 L463.43 637.55 L462.2 637.92 L460.94 638.29 L459.68 638.66 L458.4 639.02 L457.1 639.37 L455.8 639.72 L454.48 640.07 L453.16 640.4 L451.82 640.73 L450.48 641.06 L449.13 641.38 L447.77 641.69 L446.41 642 L445.04 642.3 L443.67 642.59 L442.3 642.88 L440.92 643.16 L439.55 643.44 L438.18 643.71 L436.81 643.97 L435.44 644.23 L434.07 644.48 L432.71 644.73 L431.36 644.97 L430.01 645.2 L428.67 645.43 L427.34 645.65 L426.01 645.87 L424.7 646.08 L423.4 646.28 L422.11 646.48 L420.84 646.68 L419.58 646.86 L418.33 647.04 L417.1 647.22 L415.89 647.39 L414.69 647.56 L413.51 647.72 L412.36 647.87 L411.22 648.02 L410.1 648.17 L409.01 648.31 L407.94 648.44 L406.89 648.57 L405.86 648.7 L404.86 648.82 L403.89 648.93 L402.94 649.05 L402.02 649.15 L401.13 649.26 L400.27 649.36 L399.43 649.46 L398.63 649.55 L397.85 649.64 L397.11 649.72 L396.39 649.81 L395.71 649.89 L395.06 649.96 L394.45 650.04 L393.86 650.11 L393.31 650.18 L392.8 650.24 L392.31 650.31 L391.87 650.37 L391.46 650.43 L391.08 650.49 L390.74 650.54 L390.43 650.6 L390.16 650.65 L389.93 650.7 L389.73 650.76 L389.57 650.81 L389.45 650.86 L389.36 650.91 L389.31 650.96 L389.3 650.99 L389.32 650.95 L389.39 650.91 L389.48 650.87 L389.62 650.84 L389.79 650.8 L390 650.76 L390.24 650.72 L390.52 650.69 L390.83 650.65 L391.19 650.62 L391.57 650.59 L392 650.56 L392.45 650.53 L392.95 650.51 L393.47 650.49 L394.03 650.47 L394.62 650.45 L395.25 650.43 L395.91 650.42 L396.6 650.41 L397.32 650.41 L398.08 650.4 L398.86 650.4 L399.68 650.41 L400.52 650.42 L401.39 650.43 L402.29 650.44 L403.22 650.46 L404.18 650.49 L405.16 650.51 L406.16 650.55 L407.2 650.58 L408.25 650.63 L409.33 650.67 L410.43 650.72 L411.55 650.78 L412.7 650.84 L413.86 650.91 L415.04 650.98 L416.24 651.06 L417.46 651.14 L418.7 651.23 L419.95 651.32 L421.21 651.42 L422.49 651.53 L423.79 651.64 L425.09 651.75 L426.41 651.88 L427.73 652 L429.07 652.14 L430.41 652.28 L431.76 652.42 L433.12 652.58 L434.48 652.73 L435.84 652.9 L437.21 653.07 L438.59 653.24 L439.96 653.43 L441.33 653.61 L442.71 653.81 L444.08 654.01 L445.45 654.22 L446.81 654.43 L448.17 654.65 L449.53 654.87 L450.88 655.11 L452.22 655.34 L453.55 655.59 L454.87 655.83 L456.19 656.09 L457.49 656.35 L458.78 656.62 L460.06 656.89 L461.32 657.17 L462.57 657.45 L463.8 657.74 L465.01 658.03 L466.21 658.33 L467.39 658.64 L468.55 658.95 L469.69 659.26 L470.8 659.58 L471.9 659.91 L472.97 660.24 L474.02 660.57 L475.05 660.91 L476.05 661.26 L477.03 661.61 L477.98 661.96 L478.9 662.32 L479.79 662.68 L480.66 663.04 L481.5 663.41 L482.31 663.78 L483.08 664.16 L483.83 664.54 L484.55 664.92 L485.23 665.31 L485.88 665.7 L486.5 666.09 L487.09 666.48 L487.64 666.88 L488.16 667.28 L488.65 667.68 L489.1 668.08 L489.51 668.49 L489.89 668.89 L490.24 669.3 L490.54 669.71 L490.82 670.12 L491.05 670.54 L491.25 670.95 L491.41 671.36 L491.54 671.78 L491.63 672.19 L491.68 672.61 L491.7 673.03 L491.68 673.44 L491.62 673.86 L491.53 674.27 L491.4 674.69 L491.23 675.1 L491.02 675.52 L490.78 675.93 L490.51 676.34 L490.19 676.75 L489.84 677.16 L489.46 677.57 L489.04 677.97 L488.59 678.37 L488.1 678.77 L487.57 679.17 L487.02 679.57 L486.43 679.96 L485.8 680.35 L485.15 680.74 L484.46 681.13 L483.74 681.51 L482.99 681.89 L482.21 682.26 L481.39 682.64 L480.55 683 L479.68 683.37 L478.78 683.73 L477.86 684.09 L476.91 684.44 L475.93 684.79 L474.92 685.13 L473.89 685.47 L472.84 685.8 L471.76 686.13 L470.66 686.46 L469.54 686.78 L468.4 687.09 L467.24 687.4 L466.06 687.71 L464.86 688 L463.64 688.3 L462.41 688.59 L461.16 688.87 L459.89 689.15 L458.62 689.42 L457.33 689.68 L456.02 689.94 L454.71 690.2 L453.38 690.45 L452.05 690.69 L450.71 690.92 L449.36 691.15 L448 691.38 L446.64 691.6 L445.27 691.81 L443.9 692.02 L442.53 692.22 L441.16 692.41 L439.78 692.6 L438.41 692.78 L437.04 692.95 L435.67 693.12 L434.3 693.29 L432.94 693.44 L431.59 693.6 L430.24 693.74 L428.9 693.88 L427.56 694.01 L426.24 694.14 L424.92 694.26 L423.62 694.38 L422.33 694.49 L421.05 694.59 L419.79 694.69 L418.54 694.78 L417.31 694.87 L416.09 694.95 L414.89 695.03 L413.71 695.1 L412.55 695.17 L411.41 695.23 L410.29 695.28 L409.19 695.33 L408.12 695.38 L407.06 695.42 L406.04 695.46 L405.03 695.49 L404.05 695.52 L403.1 695.54 L402.18 695.56 L401.28 695.57 L400.41 695.59 L399.57 695.59 L398.76 695.6 L397.98 695.6 L397.23 695.59 L396.51 695.59 L395.83 695.58 L395.17 695.57 L394.55 695.55 L393.96 695.53 L393.4 695.51 L392.88 695.49 L392.39 695.46 L391.94 695.44 L391.52 695.41 L391.14 695.38 L390.79 695.34 L390.48 695.31 L390.21 695.27 L389.97 695.24 L389.76 695.2 L389.6 695.16 L389.47 695.12 L389.38 695.08 L389.32 695.04 L389.3 695 L389.32 694.81 L389.37 694.61 L389.46 694.41 L389.59 694.21 L389.76 694.02 L389.96 693.82 L390.19 693.63 L390.47 693.43 L390.78 693.24 L391.12 693.05 L391.51 692.86 L391.92 692.67 L392.37 692.49 L392.86 692.3 L393.38 692.12 L393.93 691.94 L394.52 691.77 L395.14 691.59 L395.8 691.42 L396.48 691.26 L397.2 691.09 L397.95 690.93 L398.73 690.77 L399.54 690.62 L400.37 690.47 L401.24 690.32 L402.14 690.18 L403.06 690.04 L404.01 689.9 L404.99 689.77 L405.99 689.65 L407.02 689.53 L408.07 689.41 L409.14 689.3 L410.24 689.19 L411.36 689.09 L412.5 688.99 L413.66 688.9 L414.84 688.81 L416.04 688.73 L417.25 688.65 L418.49 688.58 L419.73 688.52 L421 688.46 L422.27 688.4 L423.56 688.35 L424.87 688.31 L426.18 688.27 L427.5 688.24 L428.84 688.22 L430.18 688.2 L431.53 688.19 L432.88 688.18 L434.25 688.18 L435.61 688.18 L436.98 688.19 L438.35 688.21 L439.72 688.23 L441.1 688.26 L442.47 688.3 L443.84 688.34 L445.21 688.39 L446.58 688.44 L447.94 688.5 L449.3 688.57 L450.65 688.64 L451.99 688.72 L453.32 688.8 L454.65 688.89 L455.96 688.99 L457.27 689.09 L458.56 689.2 L459.84 689.31 L461.1 689.43 L462.35 689.55 L463.59 689.68 L464.81 689.82 L466.01 689.96 L467.19 690.11 L468.35 690.26 L469.49 690.41 L470.62 690.58 L471.72 690.74 L472.79 690.91 L473.85 691.09 L474.88 691.27 L475.88 691.46 L476.86 691.65 L477.82 691.84 L478.74 692.04 L479.64 692.24 L480.51 692.45 L481.36 692.66 L482.17 692.87 L482.95 693.09 L483.71 693.31 L484.43 693.53 L485.12 693.76 L485.78 693.99 L486.4 694.22 L486.99 694.46 L487.55 694.7 L488.08 694.94 L488.57 695.18 L489.02 695.43 L489.44 695.67 L489.83 695.92 L490.18 696.17 L490.49 696.42 L490.77 696.68 L491.01 696.93 L491.22 697.19 L491.39 697.44 L491.52 697.7 L491.62 697.96 L491.68 698.21 L491.7 698.47 L491.69 698.72 L491.63 698.96 L491.55 699.2 L491.42 699.44 L491.26 699.68 L491.06 699.91 L490.83 700.15 L490.56 700.39 L490.25 700.62 L489.91 700.86 L489.53 701.09 L489.12 701.32 L488.67 701.55 L488.18 701.77 L487.67 702 L487.11 702.22 L486.53 702.44 L485.91 702.66 L485.26 702.87 L484.58 703.08 L483.86 703.29 L483.12 703.49 L482.34 703.69 L481.53 703.89 L480.7 704.08 L479.83 704.27 L478.94 704.46 L478.02 704.64 L477.07 704.82 L476.09 704.99 L475.09 705.16 L474.07 705.33 L473.02 705.49 L471.95 705.64 L470.85 705.79 L469.74 705.94 L468.6 706.08 L467.44 706.21 L466.26 706.34 L465.06 706.47 L463.85 706.59 L462.62 706.7 L461.37 706.81 L460.11 706.91 L458.84 707.01 L457.55 707.1 L456.24 707.19 L454.93 707.27 L453.61 707.34 L452.28 707.41 L450.94 707.47 L449.59 707.53 L448.23 707.58 L446.87 707.62 L445.51 707.66 L444.14 707.69 L442.77 707.72 L441.39 707.74 L440.02 707.75 L438.65 707.76 L437.27 707.76 L435.9 707.76 L434.54 707.75 L433.17 707.73 L431.82 707.71 L430.47 707.68 L429.12 707.64 L427.79 707.6 L426.46 707.56 L425.15 707.5 L423.84 707.45 L422.55 707.38 L421.27 707.31 L420 707.24 L418.75 707.15 L417.52 707.07 L416.3 706.98 L415.1 706.88" fill="none" stroke="#1f1f1f" stroke-width="20.6" stroke-linejoin="round" stroke-linecap="butt"/>
<path d="M389.3 387 L389.32 386.83 L389.37 386.67 L389.47 386.5 L389.59 386.34 L389.76 386.17 L389.96 386.01 L390.2 385.85 L390.48 385.68 L390.79 385.52 L391.13 385.37 L391.51 385.21 L391.93 385.05 L392.38 384.9 L392.87 384.75 L393.39 384.6 L393.95 384.45 L394.53 384.31 L395.16 384.17 L395.81 384.03 L396.5 383.89 L397.22 383.76 L397.96 383.63 L398.74 383.51 L399.55 383.38 L400.39 383.26 L401.26 383.15 L402.16 383.04 L403.08 382.93 L404.03 382.83 L405.01 382.73 L406.01 382.64 L407.04 382.55 L408.09 382.46 L409.17 382.38 L410.27 382.31 L411.39 382.24 L412.53 382.17 L413.69 382.11 L414.87 382.06 L416.06 382.01 L417.28 381.96 L418.51 381.92 L419.76 381.89 L421.02 381.86 L422.3 381.84 L423.59 381.83 L424.9 381.81 L426.21 381.81 L427.53 381.81 L428.87 381.82 L430.21 381.83 L431.56 381.85 L432.91 381.88 L434.27 381.91 L435.64 381.94 L437.01 381.99 L438.38 382.04 L439.75 382.09 L441.13 382.15 L442.5 382.22 L443.87 382.3 L445.24 382.38 L446.61 382.46 L447.97 382.55 L449.33 382.65 L450.68 382.76 L452.02 382.87 L453.35 382.98 L454.68 383.1 L455.99 383.23 L457.3 383.37 L458.59 383.51 L459.87 383.65 L461.13 383.8 L462.38 383.96 L463.62 384.12 L464.83 384.29 L466.03 384.46 L467.21 384.64 L468.38 384.82 L469.52 385.01 L470.64 385.21 L471.74 385.4 L472.82 385.61 L473.87 385.82 L474.9 386.03 L475.9 386.25 L476.88 386.47 L477.84 386.69 L478.76 386.93 L479.66 387.16 L480.53 387.4 L481.38 387.64 L482.19 387.89 L482.97 388.14 L483.72 388.39 L484.44 388.64 L485.13 388.9 L485.79 389.17 L486.41 389.43 L487.01 389.7 L487.56 389.97 L488.09 390.24 L488.58 390.52 L489.03 390.79 L489.45 391.07 L489.84 391.35 L490.19 391.64 L490.5 391.92 L490.78 392.21 L491.02 392.49 L491.22 392.78 L491.39 393.07 L491.52 393.36 L491.62 393.65 L491.68 393.94 L491.7 394.23 L491.68 394.52 L491.63 394.81 L491.54 395.09 L491.42 395.38 L491.26 395.67 L491.06 395.96 L490.82 396.25 L490.55 396.53 L490.24 396.82 L489.9 397.1 L489.52 397.38 L489.11 397.66 L488.66 397.94 L488.17 398.21 L487.65 398.49 L487.1 398.76 L486.52 399.02 L485.9 399.29 L485.25 399.55 L484.56 399.81 L483.85 400.07 L483.1 400.32 L482.32 400.57 L481.52 400.82 L480.68 401.06 L479.81 401.3 L478.92 401.54 L478 401.77 L477.05 401.99 L476.07 402.22 L475.07 402.43 L474.05 402.65 L473 402.86 L471.92 403.06 L470.83 403.26 L469.71 403.45 L468.57 403.64 L467.41 403.83 L466.23 404.01 L465.04 404.18 L463.82 404.35 L462.59 404.51 L461.35 404.67 L460.08 404.82 L458.81 404.97 L457.52 405.11 L456.22 405.24 L454.9 405.37 L453.58 405.5 L452.25 405.61 L450.91 405.73 L449.56 405.83 L448.2 405.93 L446.84 406.02 L445.48 406.11 L444.11 406.19 L442.74 406.27 L441.36 406.33 L439.99 406.4 L438.62 406.45 L437.24 406.5 L435.87 406.55 L434.51 406.59 L433.15 406.62 L431.79 406.65 L430.44 406.67 L429.09 406.68 L427.76 406.69 L426.43 406.69 L425.12 406.69 L423.81 406.68 L422.52 406.66 L421.24 406.64 L419.98 406.61 L418.72 406.58 L417.49 406.54 L416.27 406.5 L415.07 406.45 L413.89 406.4 L412.72 406.34 L411.58 406.27 L410.46 406.2 L409.35 406.13 L408.27 406.05 L407.22 405.97 L406.19 405.88 L405.18 405.79 L404.2 405.69 L403.24 405.59 L402.31 405.48 L401.41 405.37 L400.54 405.26 L399.7 405.14 L398.88 405.02 L398.09 404.89 L397.34 404.76 L396.62 404.63 L395.93 404.49 L395.27 404.36 L394.64 404.22 L394.04 404.07 L393.48 403.93 L392.96 403.78 L392.46 403.63 L392.01 403.47 L391.58 403.32 L391.19 403.16 L390.84 403 L390.53 402.84 L390.24 402.68 L390 402.52 L389.79 402.36 L389.62 402.19 L389.49 402.03 L389.39 401.86 L389.33 401.69 L389.3 401.53 L389.31 401.5 L389.36 401.51 L389.45 401.51 L389.57 401.51 L389.73 401.52 L389.93 401.52 L390.16 401.53 L390.43 401.54 L390.73 401.54 L391.07 401.55 L391.45 401.57 L391.86 401.58 L392.3 401.6 L392.78 401.61 L393.3 401.63 L393.85 401.65 L394.43 401.68 L395.05 401.71 L395.7 401.74 L396.38 401.77 L397.09 401.81 L397.83 401.84 L398.61 401.89 L399.41 401.93 L400.25 401.98 L401.11 402.04 L402 402.09 L402.92 402.16 L403.87 402.22 L404.84 402.29 L405.84 402.37 L406.86 402.45 L407.91 402.53 L408.98 402.62 L410.08 402.71 L411.19 402.81 L412.33 402.91 L413.49 403.02 L414.66 403.13 L415.86 403.25 L417.07 403.37 L418.3 403.5 L419.55 403.64 L420.81 403.78 L422.08 403.93 L423.37 404.08 L424.67 404.24 L425.98 404.4 L427.31 404.57 L428.64 404.74 L429.98 404.92 L431.33 405.11 L432.68 405.3 L434.04 405.5 L435.41 405.71 L436.78 405.92 L438.15 406.14 L439.52 406.36 L440.89 406.59 L442.27 406.83 L443.64 407.07 L445.01 407.32 L446.38 407.57 L447.74 407.83 L449.1 408.1 L450.45 408.37 L451.79 408.65 L453.13 408.93 L454.45 409.22 L455.77 409.52 L457.08 409.82 L458.37 410.13 L459.65 410.44 L460.92 410.76 L462.17 411.09 L463.41 411.42 L464.63 411.75 L465.83 412.09 L467.01 412.44 L468.18 412.79 L469.33 413.15 L470.45 413.51 L471.55 413.88 L472.63 414.25 L473.69 414.63 L474.73 415.01 L475.74 415.39 L476.72 415.78 L477.68 416.18 L478.61 416.58 L479.51 416.98 L480.39 417.39 L481.23 417.8 L482.05 418.21 L482.84 418.63 L483.6 419.05 L484.32 419.47 L485.02 419.9 L485.68 420.33 L486.31 420.77 L486.91 421.2 L487.47 421.64 L488 422.08 L488.5 422.53 L488.96 422.97 L489.38 423.42 L489.77 423.87 L490.13 424.32 L490.45 424.78 L490.73 425.23 L490.98 425.68 L491.19 426.14 L491.37 426.6 L491.5 427.06 L491.61 427.51 L491.67 427.97 L491.7 428.43 L491.69 428.89 L491.64 429.35 L491.56 429.81 L491.44 430.27 L491.29 430.73 L491.09 431.18 L490.86 431.64 L490.6 432.09 L490.3 432.55 L489.96 433 L489.59 433.45 L489.18 433.9 L488.74 434.34 L488.26 434.79 L487.75 435.23 L487.2 435.67 L486.62 436.11 L486.01 436.55 L485.36 436.98 L484.68 437.41 L483.97 437.83 L483.23 438.26 L482.46 438.68 L481.66 439.09 L480.82 439.5 L479.96 439.91 L479.07 440.32 L478.16 440.72 L477.21 441.12 L476.24 441.51 L475.24 441.9 L474.22 442.28 L473.18 442.66 L472.11 443.03 L471.02 443.4 L469.9 443.77 L468.77 444.13 L467.61 444.48 L466.44 444.83 L465.24 445.17 L464.03 445.51 L462.8 445.85 L461.56 446.17 L460.3 446.49 L459.03 446.81 L457.74 447.12 L456.44 447.43 L455.13 447.73 L453.81 448.02 L452.47 448.31 L451.13 448.59 L449.79 448.86 L448.43 449.13 L447.07 449.4 L445.71 449.65 L444.34 449.9 L442.97 450.15 L441.6 450.39 L440.22 450.62 L438.85 450.85 L437.48 451.07 L436.11 451.28 L434.74 451.49 L433.38 451.69 L432.02 451.89 L430.67 452.08 L429.32 452.26 L427.99 452.44 L426.66 452.62 L425.34 452.78 L424.04 452.94 L422.74 453.1 L421.46 453.25 L420.19 453.39 L418.94 453.53 L417.7 453.66 L416.48 453.79 L415.27 453.91 L414.09 454.02 L412.92 454.13 L411.77 454.24 L410.64 454.34 L409.54 454.44 L408.46 454.53 L407.4 454.61 L406.36 454.69 L405.35 454.77 L404.36 454.84 L403.4 454.91 L402.47 454.97 L401.56 455.03 L400.69 455.09 L399.84 455.14 L399.02 455.19 L398.23 455.23 L397.47 455.28 L396.74 455.31 L396.04 455.35 L395.38 455.38 L394.74 455.41 L394.14 455.43 L393.58 455.46 L393.04 455.48 L392.55 455.5 L392.08 455.51 L391.65 455.53 L391.26 455.54 L390.9 455.55 L390.58 455.56 L390.29 455.57 L390.04 455.57 L389.82 455.58 L389.65 455.58 L389.51 455.59 L389.4 455.59 L389.33 455.6 L389.3 455.6 L389.31 455.63 L389.35 455.68 L389.43 455.73 L389.55 455.79 L389.7 455.84 L389.89 455.89 L390.12 455.94 L390.38 456 L390.68 456.05 L391.01 456.11 L391.38 456.17 L391.79 456.23 L392.23 456.29 L392.7 456.36 L393.21 456.42 L393.75 456.49 L394.33 456.56 L394.94 456.64 L395.58 456.72 L396.26 456.8 L396.97 456.88 L397.71 456.96 L398.48 457.05 L399.27 457.15 L400.1 457.24 L400.96 457.34 L401.85 457.45 L402.76 457.56 L403.71 457.67 L404.68 457.79 L405.67 457.91 L406.69 458.03 L407.73 458.16 L408.8 458.3 L409.89 458.44 L411 458.58 L412.14 458.73 L413.29 458.89 L414.46 459.05 L415.65 459.21 L416.86 459.38 L418.09 459.56 L419.33 459.74 L420.59 459.92 L421.87 460.12 L423.15 460.32 L424.45 460.52 L425.76 460.73 L427.08 460.95 L428.41 461.17 L429.75 461.39 L431.1 461.63 L432.45 461.87 L433.81 462.11 L435.17 462.36 L436.54 462.62 L437.91 462.89 L439.29 463.16 L440.66 463.43 L442.03 463.71 L443.41 464 L444.78 464.3 L446.14 464.6 L447.51 464.9 L448.87 465.22 L450.22 465.54 L451.56 465.86 L452.9 466.19 L454.23 466.53 L455.55 466.87 L456.85 467.22 L458.15 467.57 L459.43 467.93 L460.7 468.3 L461.96 468.67 L463.2 469.05 L464.42 469.43 L465.63 469.82 L466.81 470.21 L467.98 470.61 L469.13 471.01 L470.26 471.42 L471.37 471.83 L472.45 472.25 L473.51 472.67 L474.55 473.1 L475.57 473.53 L476.55 473.97 L477.52 474.41 L478.45 474.86 L479.36 475.31 L480.24 475.76 L481.09 476.22 L481.91 476.68 L482.71 477.14 L483.47 477.61 L484.2 478.08 L484.9 478.56 L485.57 479.04 L486.2 479.52 L486.81 480 L487.38 480.49 L487.91 480.97 L488.41 481.47 L488.88 481.96 L489.31 482.45 L489.71 482.95 L490.07 483.45 L490.4 483.95 L490.69 484.45 L490.94 484.95 L491.16 485.46 L491.34 485.96 L491.48 486.47 L491.59 486.97 L491.66 487.48 L491.7 487.98 L491.69 488.49 L491.65 489 L491.58 489.5 L491.46 490.01 L491.31 490.51 L491.13 491.02 L490.91 491.52 L490.65 492.02 L490.35 492.53 L490.02 493.03 L489.65 493.52 L489.25 494.02 L488.81 494.51 L488.34 495.01 L487.83 495.5 L487.29 495.99 L486.72 496.47 L486.11 496.95 L485.47 497.43 L484.8 497.91 L484.09 498.39 L483.36 498.86 L482.59 499.32 L481.79 499.79 L480.97 500.25 L480.11 500.71 L479.23 501.16 L478.31 501.61 L477.37 502.05 L476.41 502.49 L475.42 502.93 L474.4 503.36 L473.36 503.79 L472.29 504.21 L471.2 504.63 L470.09 505.04 L468.96 505.45 L467.81 505.85 L466.64 506.25 L465.45 506.64 L464.24 507.03 L463.01 507.41 L461.77 507.79 L460.51 508.16 L459.24 508.52 L457.96 508.88 L456.66 509.23 L455.35 509.58 L454.03 509.92 L452.7 510.26 L451.36 510.59 L450.02 510.91 L448.66 511.23 L447.31 511.54 L445.94 511.85 L444.57 512.15 L443.2 512.44 L441.83 512.73 L440.46 513.01 L439.08 513.28 L437.71 513.55 L436.34 513.82 L434.97 514.07 L433.61 514.32 L432.25 514.57 L430.9 514.81 L429.55 515.04 L428.21 515.27 L426.88 515.49 L425.57 515.7 L424.26 515.91 L422.96 516.11 L421.68 516.31 L420.41 516.5 L419.15 516.69 L417.91 516.87 L416.68 517.04 L415.48 517.21 L414.29 517.38 L413.12 517.54 L411.97 517.69 L410.84 517.84 L409.73 517.98 L408.64 518.12 L407.58 518.26 L406.54 518.39 L405.52 518.51 L404.53 518.63 L403.57 518.75 L402.63 518.86 L401.72 518.97 L400.83 519.07 L399.98 519.17 L399.15 519.27 L398.36 519.36 L397.59 519.45 L396.86 519.53 L396.16 519.62 L395.49 519.7 L394.85 519.77 L394.24 519.85 L393.67 519.92 L393.13 519.99 L392.63 520.05 L392.16 520.12 L391.72 520.18 L391.32 520.24 L390.96 520.3 L390.63 520.35 L390.34 520.41 L390.08 520.46 L389.86 520.52 L389.67 520.57 L389.53 520.62 L389.42 520.67 L389.34 520.72 L389.3 520.77 L389.3 520.82 L389.34 520.88 L389.41 520.93 L389.52 520.98 L389.67 521.03 L389.85 521.08 L390.07 521.13 L390.33 521.19 L390.62 521.24 L390.95 521.3 L391.31 521.36 L391.71 521.42 L392.15 521.48 L392.62 521.55 L393.12 521.61 L393.66 521.68 L394.23 521.75 L394.83 521.83 L395.47 521.9 L396.14 521.98 L396.84 522.06 L397.58 522.15 L398.34 522.24 L399.14 522.33 L399.96 522.43 L400.81 522.53 L401.7 522.63 L402.61 522.74 L403.54 522.85 L404.51 522.97 L405.5 523.09 L406.51 523.21 L407.55 523.34 L408.62 523.47 L409.7 523.61 L410.81 523.76 L411.94 523.9 L413.09 524.06 L414.26 524.22 L415.45 524.38 L416.66 524.55 L417.88 524.73 L419.12 524.91 L420.38 525.09 L421.65 525.28 L422.93 525.48 L424.23 525.68 L425.54 525.89 L426.86 526.11 L428.18 526.33 L429.52 526.56 L430.87 526.79 L432.22 527.03 L433.58 527.27 L434.94 527.52 L436.31 527.78 L437.68 528.04 L439.05 528.31 L440.43 528.59 L441.8 528.87 L443.17 529.15 L444.54 529.45 L445.91 529.75 L447.28 530.05 L448.63 530.36 L449.99 530.68 L451.33 531.01 L452.67 531.33 L454 531.67 L455.32 532.01 L456.63 532.36 L457.93 532.71 L459.22 533.07 L460.49 533.44 L461.74 533.81 L462.99 534.18 L464.21 534.56 L465.42 534.95 L466.61 535.34 L467.78 535.74 L468.94 536.14 L470.07 536.55 L471.18 536.96 L472.27 537.38 L473.33 537.8 L474.38 538.23 L475.39 538.66 L476.39 539.1 L477.35 539.54 L478.29 539.98 L479.21 540.43 L480.09 540.88 L480.95 541.34 L481.78 541.8 L482.57 542.27 L483.34 542.73 L484.08 543.2 L484.78 543.68 L485.46 544.15 L486.1 544.64 L486.71 545.12 L487.28 545.6 L487.82 546.09 L488.33 546.58 L488.8 547.07 L489.24 547.57 L489.64 548.07 L490.01 548.56 L490.34 549.06 L490.64 549.56 L490.9 550.07 L491.12 550.57 L491.31 551.07 L491.46 551.58 L491.58 552.09 L491.65 552.59 L491.69 553.1 L491.7 553.6 L491.66 554.11 L491.59 554.62 L491.49 555.12 L491.34 555.63 L491.16 556.13 L490.95 556.64 L490.69 557.14 L490.4 557.64 L490.08 558.14 L489.72 558.64 L489.32 559.14 L488.89 559.63 L488.42 560.12 L487.92 560.61 L487.39 561.1 L486.82 561.59 L486.22 562.07 L485.58 562.55 L484.92 563.03 L484.22 563.51 L483.49 563.98 L482.72 564.45 L481.93 564.91 L481.11 565.37 L480.26 565.83 L479.38 566.28 L478.47 566.73 L477.54 567.18 L476.57 567.62 L475.59 568.06 L474.57 568.49 L473.54 568.92 L472.48 569.34 L471.39 569.76 L470.28 570.17 L469.16 570.58 L468.01 570.98 L466.84 571.38 L465.65 571.77 L464.45 572.16 L463.22 572.55 L461.98 572.92 L460.73 573.29 L459.46 573.66 L458.18 574.02 L456.88 574.37 L455.58 574.72 L454.26 575.06 L452.93 575.4 L451.59 575.73 L450.25 576.06 L448.9 576.38 L447.54 576.69 L446.17 577 L444.81 577.3 L443.44 577.59 L442.06 577.88 L440.69 578.16 L439.32 578.44 L437.94 578.71 L436.57 578.97 L435.2 579.23 L433.84 579.48 L432.48 579.73 L431.13 579.97 L429.78 580.2 L428.44 580.43 L427.11 580.65 L425.79 580.87 L424.48 581.08 L423.18 581.28 L421.89 581.48 L420.62 581.67 L419.36 581.86 L418.12 582.04 L416.89 582.22 L415.68 582.39 L414.49 582.55 L413.31 582.71 L412.16 582.87 L411.03 583.02 L409.91 583.16 L408.82 583.3 L407.76 583.43 L406.71 583.57 L405.69 583.69 L404.7 583.81 L403.73 583.93 L402.78 584.04 L401.87 584.15 L400.98 584.25 L400.12 584.35 L399.29 584.45 L398.49 584.54 L397.72 584.63 L396.98 584.72 L396.27 584.8 L395.6 584.88 L394.95 584.96 L394.34 585.03 L393.77 585.11 L393.22 585.17 L392.71 585.24 L392.24 585.31 L391.79 585.37 L391.39 585.43 L391.02 585.49 L390.68 585.54 L390.38 585.6 L390.12 585.66 L389.89 585.71 L389.7 585.76 L389.55 585.81 L389.43 585.86 L389.35 585.92 L389.31 585.97 L389.3 586.02 L389.33 586.07 L389.4 586.12 L389.5 586.17 L389.64 586.22 L389.82 586.27 L390.03 586.32 L390.28 586.37 L390.57 586.43 L390.89 586.48 L391.25 586.54 L391.64 586.6 L392.07 586.66 L392.53 586.72 L393.03 586.79 L393.56 586.86 L394.13 586.93 L394.73 587 L395.36 587.07 L396.03 587.15 L396.72 587.23 L397.45 587.32 L398.21 587.4 L399 587.49 L399.82 587.59 L400.67 587.69 L401.54 587.79 L402.45 587.9 L403.38 588.01 L404.34 588.12 L405.33 588.24 L406.34 588.36 L407.37 588.49 L408.43 588.62 L409.52 588.76 L410.62 588.9 L411.75 589.05 L412.89 589.2 L414.06 589.36 L415.25 589.52 L416.45 589.69 L417.67 589.86 L418.91 590.04 L420.16 590.22 L421.43 590.41 L422.71 590.61 L424.01 590.81 L425.31 591.02 L426.63 591.23 L427.96 591.45 L429.29 591.67 L430.64 591.9 L431.99 592.14 L433.35 592.38 L434.71 592.63 L436.08 592.89 L437.45 593.15 L438.82 593.41 L440.19 593.69 L441.57 593.97 L442.94 594.25 L444.31 594.54 L445.68 594.84 L447.04 595.15 L448.4 595.46 L449.76 595.77 L451.11 596.09 L452.45 596.42 L453.78 596.75 L455.1 597.09 L456.41 597.44 L457.71 597.79 L459 598.15 L460.27 598.51 L461.53 598.88 L462.78 599.25 L464.01 599.63 L465.22 600.02 L466.41 600.41 L467.59 600.8 L468.74 601.2 L469.88 601.61 L470.99 602.02 L472.08 602.44 L473.15 602.86 L474.2 603.28 L475.22 603.71 L476.22 604.15 L477.19 604.59 L478.14 605.03 L479.05 605.48 L479.94 605.93 L480.81 606.38 L481.64 606.84 L482.44 607.31 L483.21 607.77 L483.96 608.24 L484.67 608.71 L485.35 609.19 L485.99 609.67 L486.61 610.15 L487.19 610.63 L487.73 611.12 L488.25 611.61 L488.73 612.1 L489.17 612.59 L489.58 613.09 L489.95 613.59 L490.29 614.09 L490.59 614.59 L490.86 615.09 L491.09 615.59 L491.28 616.09 L491.44 616.6 L491.56 617.1 L491.64 617.61 L491.69 618.11 L491.7 618.62 L491.67 619.12 L491.61 619.63 L491.51 620.13 L491.37 620.64 L491.2 621.14 L490.99 621.65 L490.74 622.15 L490.46 622.65 L490.14 623.15 L489.78 623.65 L489.39 624.14 L488.97 624.64 L488.51 625.13 L488.01 625.62 L487.48 626.11 L486.92 626.59 L486.32 627.08 L485.69 627.56 L485.03 628.03 L484.34 628.51 L483.61 628.98 L482.86 629.45 L482.07 629.91 L481.25 630.37 L480.41 630.83 L479.53 631.28 L478.63 631.73 L477.7 632.18 L476.74 632.62 L475.76 633.06 L474.75 633.49 L473.71 633.92 L472.66 634.34 L471.58 634.76 L470.47 635.17 L469.35 635.58 L468.2 635.98 L467.04 636.38 L465.86 636.77 L464.65 637.16 L463.43 637.55 L462.2 637.92 L460.94 638.29 L459.68 638.66 L458.4 639.02 L457.1 639.37 L455.8 639.72 L454.48 640.07 L453.16 640.4 L451.82 640.73 L450.48 641.06 L449.13 641.38 L447.77 641.69 L446.41 642 L445.04 642.3 L443.67 642.59 L442.3 642.88 L440.92 643.16 L439.55 643.44 L438.18 643.71 L436.81 643.97 L435.44 644.23 L434.07 644.48 L432.71 644.73 L431.36 644.97 L430.01 645.2 L428.67 645.43 L427.34 645.65 L426.01 645.87 L424.7 646.08 L423.4 646.28 L422.11 646.48 L420.84 646.68 L419.58 646.86 L418.33 647.04 L417.1 647.22 L415.89 647.39 L414.69 647.56 L413.51 647.72 L412.36 647.87 L411.22 648.02 L410.1 648.17 L409.01 648.31 L407.94 648.44 L406.89 648.57 L405.86 648.7 L404.86 648.82 L403.89 648.93 L402.94 649.05 L402.02 649.15 L401.13 649.26 L400.27 649.36 L399.43 649.46 L398.63 649.55 L397.85 649.64 L397.11 649.72 L396.39 649.81 L395.71 649.89 L395.06 649.96 L394.45 650.04 L393.86 650.11 L393.31 650.18 L392.8 650.24 L392.31 650.31 L391.87 650.37 L391.46 650.43 L391.08 650.49 L390.74 650.54 L390.43 650.6 L390.16 650.65 L389.93 650.7 L389.73 650.76 L389.57 650.81 L389.45 650.86 L389.36 650.91 L389.31 650.96 L389.3 650.99 L389.32 650.95 L389.39 650.91 L389.48 650.87 L389.62 650.84 L389.79 650.8 L390 650.76 L390.24 650.72 L390.52 650.69 L390.83 650.65 L391.19 650.62 L391.57 650.59 L392 650.56 L392.45 650.53 L392.95 650.51 L393.47 650.49 L394.03 650.47 L394.62 650.45 L395.25 650.43 L395.91 650.42 L396.6 650.41 L397.32 650.41 L398.08 650.4 L398.86 650.4 L399.68 650.41 L400.52 650.42 L401.39 650.43 L402.29 650.44 L403.22 650.46 L404.18 650.49 L405.16 650.51 L406.16 650.55 L407.2 650.58 L408.25 650.63 L409.33 650.67 L410.43 650.72 L411.55 650.78 L412.7 650.84 L413.86 650.91 L415.04 650.98 L416.24 651.06 L417.46 651.14 L418.7 651.23 L419.95 651.32 L421.21 651.42 L422.49 651.53 L423.79 651.64 L425.09 651.75 L426.41 651.88 L427.73 652 L429.07 652.14 L430.41 652.28 L431.76 652.42 L433.12 652.58 L434.48 652.73 L435.84 652.9 L437.21 653.07 L438.59 653.24 L439.96 653.43 L441.33 653.61 L442.71 653.81 L444.08 654.01 L445.45 654.22 L446.81 654.43 L448.17 654.65 L449.53 654.87 L450.88 655.11 L452.22 655.34 L453.55 655.59 L454.87 655.83 L456.19 656.09 L457.49 656.35 L458.78 656.62 L460.06 656.89 L461.32 657.17 L462.57 657.45 L463.8 657.74 L465.01 658.03 L466.21 658.33 L467.39 658.64 L468.55 658.95 L469.69 659.26 L470.8 659.58 L471.9 659.91 L472.97 660.24 L474.02 660.57 L475.05 660.91 L476.05 661.26 L477.03 661.61 L477.98 661.96 L478.9 662.32 L479.79 662.68 L480.66 663.04 L481.5 663.41 L482.31 663.78 L483.08 664.16 L483.83 664.54 L484.55 664.92 L485.23 665.31 L485.88 665.7 L486.5 666.09 L487.09 666.48 L487.64 666.88 L488.16 667.28 L488.65 667.68 L489.1 668.08 L489.51 668.49 L489.89 668.89 L490.24 669.3 L490.54 669.71 L490.82 670.12 L491.05 670.54 L491.25 670.95 L491.41 671.36 L491.54 671.78 L491.63 672.19 L491.68 672.61 L491.7 673.03 L491.68 673.44 L491.62 673.86 L491.53 674.27 L491.4 674.69 L491.23 675.1 L491.02 675.52 L490.78 675.93 L490.51 676.34 L490.19 676.75 L489.84 677.16 L489.46 677.57 L489.04 677.97 L488.59 678.37 L488.1 678.77 L487.57 679.17 L487.02 679.57 L486.43 679.96 L485.8 680.35 L485.15 680.74 L484.46 681.13 L483.74 681.51 L482.99 681.89 L482.21 682.26 L481.39 682.64 L480.55 683 L479.68 683.37 L478.78 683.73 L477.86 684.09 L476.91 684.44 L475.93 684.79 L474.92 685.13 L473.89 685.47 L472.84 685.8 L471.76 686.13 L470.66 686.46 L469.54 686.78 L468.4 687.09 L467.24 687.4 L466.06 687.71 L464.86 688 L463.64 688.3 L462.41 688.59 L461.16 688.87 L459.89 689.15 L458.62 689.42 L457.33 689.68 L456.02 689.94 L454.71 690.2 L453.38 690.45 L452.05 690.69 L450.71 690.92 L449.36 691.15 L448 691.38 L446.64 691.6 L445.27 691.81 L443.9 692.02 L442.53 692.22 L441.16 692.41 L439.78 692.6 L438.41 692.78 L437.04 692.95 L435.67 693.12 L434.3 693.29 L432.94 693.44 L431.59 693.6 L430.24 693.74 L428.9 693.88 L427.56 694.01 L426.24 694.14 L424.92 694.26 L423.62 694.38 L422.33 694.49 L421.05 694.59 L419.79 694.69 L418.54 694.78 L417.31 694.87 L416.09 694.95 L414.89 695.03 L413.71 695.1 L412.55 695.17 L411.41 695.23 L410.29 695.28 L409.19 695.33 L408.12 695.38 L407.06 695.42 L406.04 695.46 L405.03 695.49 L404.05 695.52 L403.1 695.54 L402.18 695.56 L401.28 695.57 L400.41 695.59 L399.57 695.59 L398.76 695.6 L397.98 695.6 L397.23 695.59 L396.51 695.59 L395.83 695.58 L395.17 695.57 L394.55 695.55 L393.96 695.53 L393.4 695.51 L392.88 695.49 L392.39 695.46 L391.94 695.44 L391.52 695.41 L391.14 695.38 L390.79 695.34 L390.48 695.31 L390.21 695.27 L389.97 695.24 L389.76 695.2 L389.6 695.16 L389.47 695.12 L389.38 695.08 L389.32 695.04 L389.3 695 L389.32 694.81 L389.37 694.61 L389.46 694.41 L389.59 694.21 L389.76 694.02 L389.96 693.82 L390.19 693.63 L390.47 693.43 L390.78 693.24 L391.12 693.05 L391.51 692.86 L391.92 692.67 L392.37 692.49 L392.86 692.3 L393.38 692.12 L393.93 691.94 L394.52 691.77 L395.14 691.59 L395.8 691.42 L396.48 691.26 L397.2 691.09 L397.95 690.93 L398.73 690.77 L399.54 690.62 L400.37 690.47 L401.24 690.32 L402.14 690.18 L403.06 690.04 L404.01 689.9 L404.99 689.77 L405.99 689.65 L407.02 689.53 L408.07 689.41 L409.14 689.3 L410.24 689.19 L411.36 689.09 L412.5 688.99 L413.66 688.9 L414.84 688.81 L416.04 688.73 L417.25 688.65 L418.49 688.58 L419.73 688.52 L421 688.46 L422.27 688.4 L423.56 688.35 L424.87 688.31 L426.18 688.27 L427.5 688.24 L428.84 688.22 L430.18 688.2 L431.53 688.19 L432.88 688.18 L434.25 688.18 L435.61 688.18 L436.98 688.19 L438.35 688.21 L439.72 688.23 L441.1 688.26 L442.47 688.3 L443.84 688.34 L445.21 688.39 L446.58 688.44 L447.94 688.5 L449.3 688.57 L450.65 688.64 L451.99 688.72 L453.32 688.8 L454.65 688.89 L455.96 688.99 L457.27 689.09 L458.56 689.2 L459.84 689.31 L461.1 689.43 L462.35 689.55 L463.59 689.68 L464.81 689.82 L466.01 689.96 L467.19 690.11 L468.35 690.26 L469.49 690.41 L470.62 690.58 L471.72 690.74 L472.79 690.91 L473.85 691.09 L474.88 691.27 L475.88 691.46 L476.86 691.65 L477.82 691.84 L478.74 692.04 L479.64 692.24 L480.51 692.45 L481.36 692.66 L482.17 692.87 L482.95 693.09 L483.71 693.31 L484.43 693.53 L485.12 693.76 L485.78 693.99 L486.4 694.22 L486.99 694.46 L487.55 694.7 L488.08 694.94 L488.57 695.18 L489.02 695.43 L489.44 695.67 L489.83 695.92 L490.18 696.17 L490.49 696.42 L490.77 696.68 L491.01 696.93 L491.22 697.19 L491.39 697.44 L491.52 697.7 L491.62 697.96 L491.68 698.21 L491.7 698.47 L491.69 698.72 L491.63 698.96 L491.55 699.2 L491.42 699.44 L491.26 699.68 L491.06 699.91 L490.83 700.15 L490.56 700.39 L490.25 700.62 L489.91 700.86 L489.53 701.09 L489.12 701.32 L488.67 701.55 L488.18 701.77 L487.67 702 L487.11 702.22 L486.53 702.44 L485.91 702.66 L485.26 702.87 L484.58 703.08 L483.86 703.29 L483.12 703.49 L482.34 703.69 L481.53 703.89 L480.7 704.08 L479.83 704.27 L478.94 704.46 L478.02 704.64 L477.07 704.82 L476.09 704.99 L475.09 705.16 L474.07 705.33 L473.02 705.49 L471.95 705.64 L470.85 705.79 L469.74 705.94 L468.6 706.08 L467.44 706.21 L466.26 706.34 L465.06 706.47 L463.85 706.59 L462.62 706.7 L461.37 706.81 L460.11 706.91 L458.84 707.01 L457.55 707.1 L456.24 707.19 L454.93 707.27 L453.61 707.34 L452.28 707.41 L450.94 707.47 L449.59 707.53 L448.23 707.58 L446.87 707.62 L445.51 707.66 L444.14 707.69 L442.77 707.72 L441.39 707.74 L440.02 707.75 L438.65 707.76 L437.27 707.76 L435.9 707.76 L434.54 707.75 L433.17 707.73 L431.82 707.71 L430.47 707.68 L429.12 707.64 L427.79 707.6 L426.46 707.56 L425.15 707.5 L423.84 707.45 L422.55 707.38 L421.27 707.31 L420 707.24 L418.75 707.15 L417.52 707.07 L416.3 706.98 L415.1 706.88" fill="none" stroke="#fff" stroke-width="18.8" stroke-linejoin="round" stroke-linecap="butt"/>
<path d="M398.1 388 L398.16 387.75 L398.33 387.51 L398.62 387.26 L399.03 387.02 L399.54 386.78 L400.18 386.55 L400.92 386.32 L401.77 386.1 L402.72 385.89 L403.78 385.69 L404.94 385.5 L406.2 385.31 L407.55 385.14 L408.99 384.98 L410.52 384.84 L412.13 384.7 L413.82 384.58 L415.58 384.48 L417.41 384.39 L419.3 384.32 L421.25 384.27 L423.25 384.23 L425.31 384.21 L427.4 384.21 L429.53 384.22 L431.68 384.26 L433.87 384.31 L436.07 384.38 L438.28 384.47 L440.5 384.59 L442.72 384.72 L444.93 384.87 L447.13 385.04 L449.32 385.22 L451.47 385.43 L453.6 385.66 L455.69 385.9 L457.75 386.16 L459.75 386.44 L461.7 386.74 L463.59 387.05 L465.42 387.38 L467.18 387.73 L468.87 388.09 L470.48 388.46 L472.01 388.85 L473.45 389.25 L474.8 389.66 L476.06 390.09 L477.22 390.52 L478.28 390.97 L479.23 391.42 L480.08 391.88 L480.82 392.35 L481.46 392.82 L481.97 393.3 L482.38 393.79 L482.67 394.27 L482.84 394.76 L482.9 395.25" fill="none" stroke="#2a2a2a" stroke-width="0.8"/>
<path d="M398.1 402.5 L398.16 402.58 L398.33 402.67 L398.62 402.75 L399.03 402.84 L399.54 402.93 L400.18 403.03 L400.92 403.13 L401.77 403.24 L402.72 403.36 L403.78 403.49 L404.94 403.63 L406.2 403.77 L407.55 403.93 L408.99 404.1 L410.52 404.29 L412.13 404.48 L413.82 404.69 L415.58 404.92 L417.41 405.16 L419.3 405.42 L421.25 405.7 L423.25 405.99 L425.31 406.3 L427.4 406.63 L429.53 406.97 L431.68 407.34 L433.87 407.72 L436.07 408.12 L438.28 408.54 L440.5 408.99 L442.72 409.45 L444.93 409.93 L447.13 410.43 L449.32 410.94 L451.47 411.48 L453.6 412.04 L455.69 412.61 L457.75 413.2 L459.75 413.81 L461.7 414.44 L463.59 415.08 L465.42 415.74 L467.18 416.42 L468.87 417.11 L470.48 417.81 L472.01 418.53 L473.45 419.26 L474.8 420 L476.06 420.76 L477.22 421.52 L478.28 422.3 L479.23 423.08 L480.08 423.87 L480.82 424.67 L481.46 425.47 L481.97 426.28 L482.38 427.1 L482.67 427.91 L482.84 428.73 L482.9 429.55" fill="none" stroke="#2a2a2a" stroke-width="0.8"/>
<path d="M398.1 456.6 L398.16 456.77 L398.33 456.95 L398.62 457.13 L399.03 457.31 L399.54 457.49 L400.18 457.68 L400.92 457.88 L401.77 458.08 L402.72 458.29 L403.78 458.51 L404.94 458.74 L406.2 458.98 L407.55 459.23 L408.99 459.5 L410.52 459.77 L412.13 460.06 L413.82 460.37 L415.58 460.69 L417.41 461.02 L419.3 461.37 L421.25 461.74 L423.25 462.12 L425.31 462.53 L427.4 462.95 L429.53 463.38 L431.68 463.84 L433.87 464.32 L436.07 464.81 L438.28 465.33 L440.5 465.86 L442.72 466.41 L444.93 466.99 L447.13 467.58 L449.32 468.19 L451.47 468.82 L453.6 469.47 L455.69 470.13 L457.75 470.82 L459.75 471.52 L461.7 472.24 L463.59 472.97 L465.42 473.73 L467.18 474.49 L468.87 475.28 L470.48 476.07 L472.01 476.88 L473.45 477.71 L474.8 478.54 L476.06 479.39 L477.22 480.25 L478.28 481.11 L479.23 481.99 L480.08 482.87 L480.82 483.76 L481.46 484.66 L481.97 485.56 L482.38 486.47 L482.67 487.38 L482.84 488.29 L482.9 489.2" fill="none" stroke="#2a2a2a" stroke-width="0.8"/>
<path d="M398.1 521.8 L398.16 521.97 L398.33 522.15 L398.62 522.33 L399.03 522.51 L399.54 522.69 L400.18 522.88 L400.92 523.08 L401.77 523.28 L402.72 523.49 L403.78 523.71 L404.94 523.94 L406.2 524.18 L407.55 524.43 L408.99 524.7 L410.52 524.97 L412.13 525.26 L413.82 525.57 L415.58 525.89 L417.41 526.22 L419.3 526.57 L421.25 526.94 L423.25 527.32 L425.31 527.73 L427.4 528.15 L429.53 528.58 L431.68 529.04 L433.87 529.52 L436.07 530.01 L438.28 530.53 L440.5 531.06 L442.72 531.61 L444.93 532.19 L447.13 532.78 L449.32 533.39 L451.47 534.02 L453.6 534.67 L455.69 535.33 L457.75 536.02 L459.75 536.72 L461.7 537.44 L463.59 538.17 L465.42 538.93 L467.18 539.69 L468.87 540.48 L470.48 541.27 L472.01 542.08 L473.45 542.91 L474.8 543.74 L476.06 544.59 L477.22 545.45 L478.28 546.31 L479.23 547.19 L480.08 548.07 L480.82 548.96 L481.46 549.86 L481.97 550.76 L482.38 551.67 L482.67 552.58 L482.84 553.49 L482.9 554.4" fill="none" stroke="#2a2a2a" stroke-width="0.8"/>
<path d="M398.1 587 L398.16 587.17 L398.33 587.35 L398.62 587.52 L399.03 587.7 L399.54 587.89 L400.18 588.07 L400.92 588.27 L401.77 588.47 L402.72 588.68 L403.78 588.9 L404.94 589.12 L406.2 589.36 L407.55 589.61 L408.99 589.87 L410.52 590.15 L412.13 590.44 L413.82 590.74 L415.58 591.06 L417.41 591.39 L419.3 591.74 L421.25 592.1 L423.25 592.49 L425.31 592.89 L427.4 593.31 L429.53 593.74 L431.68 594.2 L433.87 594.67 L436.07 595.17 L438.28 595.68 L440.5 596.21 L442.72 596.76 L444.93 597.33 L447.13 597.92 L449.32 598.53 L451.47 599.16 L453.6 599.81 L455.69 600.47 L457.75 601.15 L459.75 601.85 L461.7 602.57 L463.59 603.3 L465.42 604.06 L467.18 604.82 L468.87 605.6 L470.48 606.4 L472.01 607.21 L473.45 608.03 L474.8 608.86 L476.06 609.71 L477.22 610.56 L478.28 611.43 L479.23 612.3 L480.08 613.19 L480.82 614.07 L481.46 614.97 L481.97 615.87 L482.38 616.77 L482.67 617.68 L482.84 618.59 L482.9 619.5" fill="none" stroke="#2a2a2a" stroke-width="0.8"/>
<path d="M398.1 652 L398.16 652 L398.33 652 L398.62 652 L399.03 652 L399.54 652.01 L400.18 652.02 L400.92 652.04 L401.77 652.07 L402.72 652.1 L403.78 652.15 L404.94 652.2 L406.2 652.26 L407.55 652.34 L408.99 652.42 L410.52 652.52 L412.13 652.64 L413.82 652.76 L415.58 652.91 L417.41 653.06 L419.3 653.24 L421.25 653.43 L423.25 653.64 L425.31 653.86 L427.4 654.11 L429.53 654.37 L431.68 654.65 L433.87 654.95 L436.07 655.27 L438.28 655.6 L440.5 655.96 L442.72 656.34 L444.93 656.73 L447.13 657.15 L449.32 657.58 L451.47 658.03 L453.6 658.51 L455.69 659 L457.75 659.5 L459.75 660.03 L461.7 660.57 L463.59 661.13 L465.42 661.71 L467.18 662.3 L468.87 662.9 L470.48 663.52 L472.01 664.16 L473.45 664.8 L474.8 665.46 L476.06 666.13 L477.22 666.81 L478.28 667.5 L479.23 668.2 L480.08 668.91 L480.82 669.62 L481.46 670.34 L481.97 671.07 L482.38 671.8 L482.67 672.53 L482.84 673.26 L482.9 674" fill="none" stroke="#2a2a2a" stroke-width="0.8"/>
<path d="M398.1 696 L398.16 695.69 L398.33 695.38 L398.62 695.07 L399.03 694.77 L399.54 694.47 L400.18 694.17 L400.92 693.89 L401.77 693.6 L402.72 693.33 L403.78 693.06 L404.94 692.81 L406.2 692.56 L407.55 692.33 L408.99 692.11 L410.52 691.9 L412.13 691.7 L413.82 691.52 L415.58 691.36 L417.41 691.2 L419.3 691.07 L421.25 690.95 L423.25 690.85 L425.31 690.77 L427.4 690.71 L429.53 690.66 L431.68 690.63 L433.87 690.62 L436.07 690.63 L438.28 690.66 L440.5 690.71 L442.72 690.78 L444.93 690.87 L447.13 690.97 L449.32 691.1 L451.47 691.24 L453.6 691.41 L455.69 691.59 L457.75 691.79 L459.75 692 L461.7 692.24 L463.59 692.49 L465.42 692.76 L467.18 693.04 L468.87 693.34 L470.48 693.65 L472.01 693.97 L473.45 694.31 L474.8 694.66 L476.06 695.02 L477.22 695.4 L478.28 695.78 L479.23 696.17 L480.08 696.57 L480.82 696.97 L481.46 697.39 L481.97 697.8 L482.38 698.22 L482.67 698.65 L482.84 699.07 L482.9 699.5" fill="none" stroke="#2a2a2a" stroke-width="0.8"/>
<path d="M491.7 394.25 L491.66 394.67 L491.54 395.1 L491.35 395.52 L491.07 395.94 L490.72 396.36 L490.29 396.78 L489.78 397.19 L489.19 397.6 L488.54 398.01 L487.8 398.41 L487 398.81 L486.12 399.2 L485.17 399.58 L484.16 399.96 L483.07 400.33 L481.92 400.7 L480.71 401.05 L479.43 401.4 L478.1 401.74 L476.7 402.07 L475.25 402.39 L473.75 402.71 L472.2 403.01 L470.59 403.3 L468.95 403.58 L467.25 403.85 L465.52 404.11 L463.74 404.36 L461.94 404.6 L460.09 404.82 L458.22 405.03 L456.32 405.23 L454.4 405.42 L452.45 405.6 L450.49 405.76 L448.51 405.91 L446.52 406.04 L444.52 406.17 L442.51 406.28 L440.5 406.38 L438.49 406.46 L436.48 406.53 L434.48 406.59 L432.49 406.63 L430.51 406.66 L428.55 406.68 L426.6 406.69 L424.68 406.68 L422.78 406.67 L420.91 406.63 L419.06 406.59 L417.26 406.54 L415.48 406.47 L413.75 406.39 L412.05 406.3 L410.41 406.2 L408.8 406.09 L407.25 405.97 L405.75 405.84 L404.3 405.7 L402.9 405.55 L401.57 405.39 L400.29 405.22 L399.08 405.05 L397.93 404.86 L396.84 404.67 L395.83 404.48 L394.88 404.27 L394 404.06 L393.2 403.85 L392.46 403.63 L391.81 403.4 L391.22 403.17 L390.71 402.94 L390.28 402.71 L389.93 402.47 L389.65 402.23 L389.46 401.99 L389.34 401.74 L389.3 401.5" fill="none" stroke="#1f1f1f" stroke-width="20.6" stroke-linejoin="round" stroke-linecap="butt"/>
<path d="M491.54 393.39 L491.66 393.83 L491.7 394.28 L491.65 394.72 L491.51 395.17 L491.29 395.61 L490.98 396.05 L490.59 396.49 L490.11 396.93 L489.54 397.36 L488.89 397.79 L488.16 398.22 L487.35 398.64 L486.46 399.05 L485.49 399.46 L484.44 399.86 L483.32 400.25 L482.12 400.63 L480.86 401.01 L479.52 401.38 L478.12 401.74 L476.66 402.08 L475.13 402.42 L473.55 402.75 L471.9 403.06 L470.21 403.37 L468.46 403.66 L466.67 403.94 L464.83 404.21 L462.95 404.47 L461.04 404.71 L459.08 404.94 L457.1 405.15 L455.09 405.36 L453.05 405.54 L450.99 405.72 L448.91 405.88 L446.82 406.02 L444.72 406.16 L442.61 406.27 L440.5 406.38 L438.39 406.46 L436.28 406.54 L434.18 406.6 L432.09 406.64 L430.01 406.67 L427.95 406.69 L425.91 406.69 L423.9 406.68 L421.92 406.65 L419.96 406.61 L418.05 406.56 L416.17 406.5 L414.33 406.42 L412.54 406.33 L410.79 406.23 L409.1 406.11 L407.45 405.99 L405.87 405.85 L404.34 405.7 L402.88 405.55 L401.48 405.38 L400.14 405.2 L398.88 405.02 L397.68 404.82 L396.56 404.62 L395.51 404.41 L394.54 404.19 L393.65 403.97 L392.84 403.74 L392.11 403.51 L391.46 403.27 L390.89 403.03 L390.41 402.78 L390.02 402.53 L389.71 402.28 L389.49 402.03 L389.35 401.77 L389.3 401.52 L389.34 401.5 L389.46 401.51" fill="none" stroke="#fff" stroke-width="18.8" stroke-linejoin="round" stroke-linecap="butt"/>
<path d="M500.7 394.55 L500.62 395.19 L500.37 395.84 L499.96 396.48 L499.38 397.11 L498.65 397.74 L497.75 398.36 L496.7 398.98 L495.5 399.58 L494.14 400.17 L492.63 400.76 L490.99 401.32 L489.2 401.87 L487.28 402.41 L485.24 402.93 L483.07 403.43 L480.78 403.91 L478.39 404.37 L475.88 404.81 L473.29 405.23 L470.6 405.62 L467.83 405.99 L464.99 406.34 L462.07 406.66 L459.1 406.95 L456.08 407.22 L453.02 407.47 L449.92 407.68 L446.79 407.87 L443.65 408.03 L440.5 408.17 L437.35 408.28 L434.21 408.36 L431.08 408.41 L427.98 408.43 L424.92 408.43 L421.9 408.4 L418.93 408.35 L416.01 408.27 L413.17 408.17 L410.4 408.04 L407.71 407.89 L405.12 407.71 L402.61 407.51 L400.22 407.29 L397.93 407.05 L395.76 406.8 L393.72 406.52 L391.8 406.22 L390.01 405.91 L388.37 405.59 L386.86 405.25 L385.5 404.9 L384.3 404.54 L383.25 404.16 L382.35 403.78 L381.62 403.39 L381.04 403 L380.63 402.6 L380.38 402.2 L380.3 401.8" fill="none" stroke="#2a2a2a" stroke-width="0.85"/>
<path d="M491.7 428.55 L491.66 429.22 L491.54 429.89 L491.35 430.56 L491.07 431.23 L490.72 431.9 L490.29 432.56 L489.78 433.22 L489.19 433.88 L488.54 434.54 L487.8 435.18 L487 435.83 L486.12 436.47 L485.17 437.1 L484.16 437.72 L483.07 438.34 L481.92 438.96 L480.71 439.56 L479.43 440.16 L478.1 440.74 L476.7 441.32 L475.25 441.89 L473.75 442.45 L472.2 443 L470.59 443.54 L468.95 444.07 L467.25 444.59 L465.52 445.1 L463.74 445.59 L461.94 446.07 L460.09 446.55 L458.22 447.01 L456.32 447.45 L454.4 447.89 L452.45 448.31 L450.49 448.72 L448.51 449.12 L446.52 449.5 L444.52 449.87 L442.51 450.23 L440.5 450.58 L438.49 450.91 L436.48 451.23 L434.48 451.53 L432.49 451.82 L430.51 452.1 L428.55 452.37 L426.6 452.62 L424.68 452.86 L422.78 453.09 L420.91 453.31 L419.06 453.51 L417.26 453.71 L415.48 453.89 L413.75 454.06 L412.05 454.21 L410.41 454.36 L408.8 454.5 L407.25 454.62 L405.75 454.74 L404.3 454.85 L402.9 454.95 L401.57 455.03 L400.29 455.11 L399.08 455.19 L397.93 455.25 L396.84 455.31 L395.83 455.36 L394.88 455.4 L394 455.44 L393.2 455.47 L392.46 455.5 L391.81 455.52 L391.22 455.54 L390.71 455.56 L390.28 455.57 L389.93 455.58 L389.65 455.58 L389.46 455.59 L389.34 455.6 L389.3 455.6" fill="none" stroke="#1f1f1f" stroke-width="20.6" stroke-linejoin="round" stroke-linecap="butt"/>
<path d="M491.54 427.18 L491.66 427.89 L491.7 428.59 L491.65 429.3 L491.51 430 L491.29 430.71 L490.98 431.41 L490.59 432.11 L490.11 432.81 L489.54 433.5 L488.89 434.19 L488.16 434.88 L487.35 435.55 L486.46 436.23 L485.49 436.89 L484.44 437.55 L483.32 438.21 L482.12 438.85 L480.86 439.49 L479.52 440.12 L478.12 440.73 L476.66 441.34 L475.13 441.94 L473.55 442.53 L471.9 443.1 L470.21 443.67 L468.46 444.22 L466.67 444.76 L464.83 445.29 L462.95 445.81 L461.04 446.31 L459.08 446.8 L457.1 447.27 L455.09 447.74 L453.05 448.18 L450.99 448.62 L448.91 449.04 L446.82 449.44 L444.72 449.84 L442.61 450.21 L440.5 450.58 L438.39 450.92 L436.28 451.26 L434.18 451.58 L432.09 451.88 L430.01 452.17 L427.95 452.45 L425.91 452.71 L423.9 452.96 L421.92 453.19 L419.96 453.41 L418.05 453.62 L416.17 453.82 L414.33 454 L412.54 454.17 L410.79 454.33 L409.1 454.47 L407.45 454.61 L405.87 454.73 L404.34 454.84 L402.88 454.95 L401.48 455.04 L400.14 455.12 L398.88 455.2 L397.68 455.26 L396.56 455.32 L395.51 455.37 L394.54 455.42 L393.65 455.45 L392.84 455.49 L392.11 455.51 L391.46 455.53 L390.89 455.55 L390.41 455.56 L390.02 455.57 L389.71 455.58 L389.49 455.59 L389.35 455.6 L389.3 455.6 L389.34 455.67 L389.46 455.75" fill="none" stroke="#fff" stroke-width="18.8" stroke-linejoin="round" stroke-linecap="butt"/>
<path d="M500.7 428.85 L500.62 429.82 L500.37 430.8 L499.96 431.77 L499.38 432.73 L498.65 433.69 L497.75 434.64 L496.7 435.59 L495.5 436.52 L494.14 437.44 L492.63 438.36 L490.99 439.25 L489.2 440.13 L487.28 441 L485.24 441.85 L483.07 442.68 L480.78 443.49 L478.39 444.28 L475.88 445.05 L473.29 445.8 L470.6 446.52 L467.83 447.22 L464.99 447.9 L462.07 448.55 L459.1 449.17 L456.08 449.77 L453.02 450.35 L449.92 450.89 L446.79 451.41 L443.65 451.9 L440.5 452.37 L437.35 452.81 L434.21 453.22 L431.08 453.6 L427.98 453.95 L424.92 454.28 L421.9 454.58 L418.93 454.86 L416.01 455.11 L413.17 455.34 L410.4 455.54 L407.71 455.72 L405.12 455.87 L402.61 456 L400.22 456.11 L397.93 456.2 L395.76 456.28 L393.72 456.33 L391.8 456.36 L390.01 456.38 L388.37 456.39 L386.86 456.38 L385.5 456.36 L384.3 456.33 L383.25 456.28 L382.35 456.23 L381.62 456.17 L381.04 456.11 L380.63 456.04 L380.38 455.97 L380.3 455.9" fill="none" stroke="#2a2a2a" stroke-width="0.85"/>
<path d="M491.7 488.2 L491.66 488.94 L491.54 489.68 L491.35 490.42 L491.07 491.16 L490.72 491.9 L490.29 492.63 L489.78 493.36 L489.19 494.09 L488.54 494.81 L487.8 495.53 L487 496.24 L486.12 496.95 L485.17 497.65 L484.16 498.35 L483.07 499.03 L481.92 499.72 L480.71 500.39 L479.43 501.06 L478.1 501.71 L476.7 502.36 L475.25 503 L473.75 503.63 L472.2 504.25 L470.59 504.86 L468.95 505.45 L467.25 506.04 L465.52 506.62 L463.74 507.18 L461.94 507.74 L460.09 508.28 L458.22 508.81 L456.32 509.32 L454.4 509.83 L452.45 510.32 L450.49 510.8 L448.51 511.27 L446.52 511.72 L444.52 512.16 L442.51 512.59 L440.5 513 L438.49 513.4 L436.48 513.79 L434.48 514.16 L432.49 514.53 L430.51 514.87 L428.55 515.21 L426.6 515.53 L424.68 515.84 L422.78 516.14 L420.91 516.43 L419.06 516.7 L417.26 516.96 L415.48 517.21 L413.75 517.45 L412.05 517.68 L410.41 517.9 L408.8 518.1 L407.25 518.3 L405.75 518.48 L404.3 518.66 L402.9 518.83 L401.57 518.99 L400.29 519.13 L399.08 519.28 L397.93 519.41 L396.84 519.54 L395.83 519.66 L394.88 519.77 L394 519.88 L393.2 519.98 L392.46 520.07 L391.81 520.17 L391.22 520.25 L390.71 520.34 L390.28 520.42 L389.93 520.5 L389.65 520.58 L389.46 520.65 L389.34 520.73 L389.3 520.8" fill="none" stroke="#1f1f1f" stroke-width="20.6" stroke-linejoin="round" stroke-linecap="butt"/>
<path d="M491.54 486.69 L491.66 487.47 L491.7 488.25 L491.65 489.03 L491.51 489.81 L491.29 490.58 L490.98 491.36 L490.59 492.13 L490.11 492.9 L489.54 493.67 L488.89 494.43 L488.16 495.19 L487.35 495.94 L486.46 496.68 L485.49 497.42 L484.44 498.16 L483.32 498.88 L482.12 499.6 L480.86 500.31 L479.52 501.01 L478.12 501.7 L476.66 502.38 L475.13 503.05 L473.55 503.71 L471.9 504.36 L470.21 505 L468.46 505.62 L466.67 506.24 L464.83 506.84 L462.95 507.43 L461.04 508 L459.08 508.57 L457.1 509.11 L455.09 509.65 L453.05 510.17 L450.99 510.68 L448.91 511.17 L446.82 511.65 L444.72 512.11 L442.61 512.56 L440.5 513 L438.39 513.42 L436.28 513.83 L434.18 514.22 L432.09 514.6 L430.01 514.96 L427.95 515.31 L425.91 515.65 L423.9 515.97 L421.92 516.27 L419.96 516.57 L418.05 516.85 L416.17 517.12 L414.33 517.37 L412.54 517.62 L410.79 517.85 L409.1 518.07 L407.45 518.27 L405.87 518.47 L404.34 518.65 L402.88 518.83 L401.48 519 L400.14 519.15 L398.88 519.3 L397.68 519.44 L396.56 519.57 L395.51 519.69 L394.54 519.81 L393.65 519.92 L392.84 520.02 L392.11 520.12 L391.46 520.22 L390.89 520.31 L390.41 520.4 L390.02 520.48 L389.71 520.56 L389.49 520.64 L389.35 520.72 L389.3 520.8 L389.34 520.87 L389.46 520.95" fill="none" stroke="#fff" stroke-width="18.8" stroke-linejoin="round" stroke-linecap="butt"/>
<path d="M500.7 488.5 L500.62 489.57 L500.37 490.63 L499.96 491.69 L499.38 492.75 L498.65 493.8 L497.75 494.85 L496.7 495.88 L495.5 496.91 L494.14 497.93 L492.63 498.93 L490.99 499.92 L489.2 500.89 L487.28 501.85 L485.24 502.79 L483.07 503.72 L480.78 504.62 L478.39 505.5 L475.88 506.37 L473.29 507.21 L470.6 508.02 L467.83 508.81 L464.99 509.58 L462.07 510.33 L459.1 511.04 L456.08 511.74 L453.02 512.4 L449.92 513.04 L446.79 513.65 L443.65 514.24 L440.5 514.79 L437.35 515.32 L434.21 515.83 L431.08 516.3 L427.98 516.75 L424.92 517.17 L421.9 517.56 L418.93 517.93 L416.01 518.28 L413.17 518.59 L410.4 518.89 L407.71 519.16 L405.12 519.41 L402.61 519.63 L400.22 519.83 L397.93 520.02 L395.76 520.18 L393.72 520.33 L391.8 520.45 L390.01 520.57 L388.37 520.66 L386.86 520.75 L385.5 520.82 L384.3 520.88 L383.25 520.93 L382.35 520.97 L381.62 521 L381.04 521.03 L380.63 521.06 L380.38 521.08 L380.3 521.1" fill="none" stroke="#2a2a2a" stroke-width="0.85"/>
<path d="M491.7 553.4 L491.66 554.14 L491.54 554.88 L491.35 555.62 L491.07 556.36 L490.72 557.1 L490.29 557.83 L489.78 558.56 L489.19 559.29 L488.54 560.01 L487.8 560.73 L487 561.44 L486.12 562.15 L485.17 562.85 L484.16 563.55 L483.07 564.23 L481.92 564.92 L480.71 565.59 L479.43 566.26 L478.1 566.91 L476.7 567.56 L475.25 568.2 L473.75 568.83 L472.2 569.45 L470.59 570.06 L468.95 570.65 L467.25 571.24 L465.52 571.82 L463.74 572.38 L461.94 572.94 L460.09 573.48 L458.22 574.01 L456.32 574.52 L454.4 575.03 L452.45 575.52 L450.49 576 L448.51 576.47 L446.52 576.92 L444.52 577.36 L442.51 577.79 L440.5 578.2 L438.49 578.6 L436.48 578.99 L434.48 579.36 L432.49 579.73 L430.51 580.07 L428.55 580.41 L426.6 580.73 L424.68 581.04 L422.78 581.34 L420.91 581.63 L419.06 581.9 L417.26 582.16 L415.48 582.41 L413.75 582.65 L412.05 582.88 L410.41 583.1 L408.8 583.3 L407.25 583.5 L405.75 583.68 L404.3 583.86 L402.9 584.03 L401.57 584.19 L400.29 584.33 L399.08 584.48 L397.93 584.61 L396.84 584.74 L395.83 584.86 L394.88 584.97 L394 585.08 L393.2 585.18 L392.46 585.27 L391.81 585.37 L391.22 585.45 L390.71 585.54 L390.28 585.62 L389.93 585.7 L389.65 585.78 L389.46 585.85 L389.34 585.93 L389.3 586" fill="none" stroke="#1f1f1f" stroke-width="20.6" stroke-linejoin="round" stroke-linecap="butt"/>
<path d="M491.54 551.89 L491.66 552.67 L491.7 553.45 L491.65 554.23 L491.51 555.01 L491.29 555.78 L490.98 556.56 L490.59 557.33 L490.11 558.1 L489.54 558.87 L488.89 559.63 L488.16 560.39 L487.35 561.14 L486.46 561.88 L485.49 562.62 L484.44 563.36 L483.32 564.08 L482.12 564.8 L480.86 565.51 L479.52 566.21 L478.12 566.9 L476.66 567.58 L475.13 568.25 L473.55 568.91 L471.9 569.56 L470.21 570.2 L468.46 570.82 L466.67 571.44 L464.83 572.04 L462.95 572.63 L461.04 573.2 L459.08 573.77 L457.1 574.31 L455.09 574.85 L453.05 575.37 L450.99 575.88 L448.91 576.37 L446.82 576.85 L444.72 577.31 L442.61 577.76 L440.5 578.2 L438.39 578.62 L436.28 579.03 L434.18 579.42 L432.09 579.8 L430.01 580.16 L427.95 580.51 L425.91 580.85 L423.9 581.17 L421.92 581.47 L419.96 581.77 L418.05 582.05 L416.17 582.32 L414.33 582.57 L412.54 582.82 L410.79 583.05 L409.1 583.27 L407.45 583.47 L405.87 583.67 L404.34 583.85 L402.88 584.03 L401.48 584.2 L400.14 584.35 L398.88 584.5 L397.68 584.64 L396.56 584.77 L395.51 584.89 L394.54 585.01 L393.65 585.12 L392.84 585.22 L392.11 585.32 L391.46 585.42 L390.89 585.51 L390.41 585.6 L390.02 585.68 L389.71 585.76 L389.49 585.84 L389.35 585.92 L389.3 586 L389.34 586.07 L389.46 586.15" fill="none" stroke="#fff" stroke-width="18.8" stroke-linejoin="round" stroke-linecap="butt"/>
<path d="M500.7 553.7 L500.62 554.77 L500.37 555.83 L499.96 556.89 L499.38 557.95 L498.65 559 L497.75 560.05 L496.7 561.08 L495.5 562.11 L494.14 563.13 L492.63 564.13 L490.99 565.12 L489.2 566.09 L487.28 567.05 L485.24 567.99 L483.07 568.92 L480.78 569.82 L478.39 570.7 L475.88 571.57 L473.29 572.41 L470.6 573.22 L467.83 574.01 L464.99 574.78 L462.07 575.53 L459.1 576.24 L456.08 576.94 L453.02 577.6 L449.92 578.24 L446.79 578.85 L443.65 579.44 L440.5 579.99 L437.35 580.52 L434.21 581.03 L431.08 581.5 L427.98 581.95 L424.92 582.37 L421.9 582.76 L418.93 583.13 L416.01 583.48 L413.17 583.79 L410.4 584.09 L407.71 584.36 L405.12 584.61 L402.61 584.83 L400.22 585.03 L397.93 585.22 L395.76 585.38 L393.72 585.53 L391.8 585.65 L390.01 585.77 L388.37 585.86 L386.86 585.95 L385.5 586.02 L384.3 586.08 L383.25 586.13 L382.35 586.17 L381.62 586.2 L381.04 586.23 L380.63 586.26 L380.38 586.28 L380.3 586.3" fill="none" stroke="#2a2a2a" stroke-width="0.85"/>
<path d="M491.7 618.5 L491.66 619.24 L491.54 619.98 L491.35 620.72 L491.07 621.45 L490.72 622.19 L490.29 622.92 L489.78 623.65 L489.19 624.38 L488.54 625.1 L487.8 625.82 L487 626.53 L486.12 627.23 L485.17 627.93 L484.16 628.63 L483.07 629.32 L481.92 630 L480.71 630.67 L479.43 631.33 L478.1 631.99 L476.7 632.64 L475.25 633.27 L473.75 633.9 L472.2 634.52 L470.59 635.13 L468.95 635.72 L467.25 636.31 L465.52 636.88 L463.74 637.45 L461.94 638 L460.09 638.54 L458.22 639.07 L456.32 639.58 L454.4 640.09 L452.45 640.58 L450.49 641.06 L448.51 641.52 L446.52 641.97 L444.52 642.41 L442.51 642.84 L440.5 643.25 L438.49 643.65 L436.48 644.04 L434.48 644.41 L432.49 644.77 L430.51 645.12 L428.55 645.45 L426.6 645.77 L424.68 646.08 L422.78 646.38 L420.91 646.67 L419.06 646.94 L417.26 647.2 L415.48 647.45 L413.75 647.68 L412.05 647.91 L410.41 648.13 L408.8 648.33 L407.25 648.53 L405.75 648.71 L404.3 648.89 L402.9 649.05 L401.57 649.21 L400.29 649.36 L399.08 649.5 L397.93 649.63 L396.84 649.75 L395.83 649.87 L394.88 649.98 L394 650.09 L393.2 650.19 L392.46 650.29 L391.81 650.38 L391.22 650.46 L390.71 650.55 L390.28 650.63 L389.93 650.7 L389.65 650.78 L389.46 650.85 L389.34 650.93 L389.3 651" fill="none" stroke="#1f1f1f" stroke-width="20.6" stroke-linejoin="round" stroke-linecap="butt"/>
<path d="M491.54 616.99 L491.66 617.77 L491.7 618.55 L491.65 619.33 L491.51 620.1 L491.29 620.88 L490.98 621.65 L490.59 622.42 L490.11 623.19 L489.54 623.96 L488.89 624.72 L488.16 625.47 L487.35 626.22 L486.46 626.97 L485.49 627.71 L484.44 628.44 L483.32 629.16 L482.12 629.88 L480.86 630.59 L479.52 631.29 L478.12 631.98 L476.66 632.66 L475.13 633.33 L473.55 633.98 L471.9 634.63 L470.21 635.27 L468.46 635.89 L466.67 636.51 L464.83 637.11 L462.95 637.69 L461.04 638.27 L459.08 638.83 L457.1 639.38 L455.09 639.91 L453.05 640.43 L450.99 640.93 L448.91 641.43 L446.82 641.9 L444.72 642.37 L442.61 642.82 L440.5 643.25 L438.39 643.67 L436.28 644.07 L434.18 644.47 L432.09 644.84 L430.01 645.2 L427.95 645.55 L425.91 645.89 L423.9 646.21 L421.92 646.51 L419.96 646.81 L418.05 647.09 L416.17 647.35 L414.33 647.61 L412.54 647.85 L410.79 648.08 L409.1 648.29 L407.45 648.5 L405.87 648.7 L404.34 648.88 L402.88 649.05 L401.48 649.22 L400.14 649.37 L398.88 649.52 L397.68 649.66 L396.56 649.79 L395.51 649.91 L394.54 650.02 L393.65 650.13 L392.84 650.24 L392.11 650.33 L391.46 650.43 L390.89 650.52 L390.41 650.6 L390.02 650.68 L389.71 650.76 L389.49 650.84 L389.35 650.92 L389.3 651 L389.34 650.94 L389.46 650.88" fill="none" stroke="#fff" stroke-width="18.8" stroke-linejoin="round" stroke-linecap="butt"/>
<path d="M500.7 618.8 L500.62 619.86 L500.37 620.93 L499.96 621.99 L499.38 623.04 L498.65 624.1 L497.75 625.14 L496.7 626.17 L495.5 627.2 L494.14 628.21 L492.63 629.21 L490.99 630.2 L489.2 631.17 L487.28 632.13 L485.24 633.07 L483.07 633.99 L480.78 634.89 L478.39 635.78 L475.88 636.64 L473.29 637.47 L470.6 638.29 L467.83 639.08 L464.99 639.85 L462.07 640.59 L459.1 641.3 L456.08 642 L453.02 642.66 L449.92 643.3 L446.79 643.91 L443.65 644.49 L440.5 645.04 L437.35 645.57 L434.21 646.07 L431.08 646.55 L427.98 646.99 L424.92 647.41 L421.9 647.8 L418.93 648.17 L416.01 648.51 L413.17 648.83 L410.4 649.12 L407.71 649.39 L405.12 649.64 L402.61 649.86 L400.22 650.06 L397.93 650.24 L395.76 650.4 L393.72 650.55 L391.8 650.67 L390.01 650.78 L388.37 650.88 L386.86 650.96 L385.5 651.03 L384.3 651.09 L383.25 651.14 L382.35 651.18 L381.62 651.21 L381.04 651.24 L380.63 651.26 L380.38 651.28 L380.3 651.3" fill="none" stroke="#2a2a2a" stroke-width="0.85"/>
<path d="M491.7 673 L491.66 673.61 L491.54 674.22 L491.35 674.82 L491.07 675.43 L490.72 676.03 L490.29 676.63 L489.78 677.23 L489.19 677.83 L488.54 678.42 L487.8 679 L487 679.58 L486.12 680.16 L485.17 680.73 L484.16 681.29 L483.07 681.85 L481.92 682.4 L480.71 682.94 L479.43 683.47 L478.1 683.99 L476.7 684.51 L475.25 685.02 L473.75 685.51 L472.2 686 L470.59 686.48 L468.95 686.94 L467.25 687.4 L465.52 687.84 L463.74 688.27 L461.94 688.69 L460.09 689.1 L458.22 689.5 L456.32 689.88 L454.4 690.26 L452.45 690.62 L450.49 690.96 L448.51 691.3 L446.52 691.62 L444.52 691.92 L442.51 692.22 L440.5 692.5 L438.49 692.77 L436.48 693.02 L434.48 693.27 L432.49 693.5 L430.51 693.71 L428.55 693.92 L426.6 694.11 L424.68 694.28 L422.78 694.45 L420.91 694.6 L419.06 694.74 L417.26 694.87 L415.48 694.99 L413.75 695.1 L412.05 695.19 L410.41 695.28 L408.8 695.35 L407.25 695.41 L405.75 695.47 L404.3 695.51 L402.9 695.54 L401.57 695.57 L400.29 695.59 L399.08 695.6 L397.93 695.6 L396.84 695.59 L395.83 695.58 L394.88 695.56 L394 695.53 L393.2 695.5 L392.46 695.47 L391.81 695.43 L391.22 695.38 L390.71 695.33 L390.28 695.28 L389.93 695.23 L389.65 695.17 L389.46 695.12 L389.34 695.06 L389.3 695" fill="none" stroke="#1f1f1f" stroke-width="20.6" stroke-linejoin="round" stroke-linecap="butt"/>
<path d="M491.54 671.76 L491.66 672.4 L491.7 673.04 L491.65 673.68 L491.51 674.32 L491.29 674.96 L490.98 675.59 L490.59 676.23 L490.11 676.86 L489.54 677.48 L488.89 678.11 L488.16 678.72 L487.35 679.34 L486.46 679.94 L485.49 680.54 L484.44 681.14 L483.32 681.72 L482.12 682.3 L480.86 682.87 L479.52 683.43 L478.12 683.99 L476.66 684.53 L475.13 685.06 L473.55 685.58 L471.9 686.09 L470.21 686.59 L468.46 687.07 L466.67 687.55 L464.83 688.01 L462.95 688.46 L461.04 688.9 L459.08 689.32 L457.1 689.73 L455.09 690.12 L453.05 690.51 L450.99 690.87 L448.91 691.23 L446.82 691.57 L444.72 691.89 L442.61 692.2 L440.5 692.5 L438.39 692.78 L436.28 693.05 L434.18 693.3 L432.09 693.54 L430.01 693.76 L427.95 693.97 L425.91 694.17 L423.9 694.35 L421.92 694.52 L419.96 694.68 L418.05 694.82 L416.17 694.95 L414.33 695.06 L412.54 695.17 L410.79 695.26 L409.1 695.34 L407.45 695.41 L405.87 695.46 L404.34 695.51 L402.88 695.55 L401.48 695.57 L400.14 695.59 L398.88 695.6 L397.68 695.6 L396.56 695.59 L395.51 695.57 L394.54 695.55 L393.65 695.52 L392.84 695.49 L392.11 695.45 L391.46 695.4 L390.89 695.35 L390.41 695.3 L390.02 695.24 L389.71 695.19 L389.49 695.13 L389.35 695.07 L389.3 695 L389.34 694.71 L389.46 694.41" fill="none" stroke="#fff" stroke-width="18.8" stroke-linejoin="round" stroke-linecap="butt"/>
<path d="M500.7 673.3 L500.62 674.19 L500.37 675.08 L499.96 675.96 L499.38 676.84 L498.65 677.72 L497.75 678.59 L496.7 679.45 L495.5 680.3 L494.14 681.14 L492.63 681.96 L490.99 682.78 L489.2 683.57 L487.28 684.36 L485.24 685.12 L483.07 685.87 L480.78 686.59 L478.39 687.3 L475.88 687.99 L473.29 688.65 L470.6 689.29 L467.83 689.9 L464.99 690.5 L462.07 691.06 L459.1 691.6 L456.08 692.12 L453.02 692.61 L449.92 693.07 L446.79 693.51 L443.65 693.91 L440.5 694.29 L437.35 694.65 L434.21 694.97 L431.08 695.27 L427.98 695.54 L424.92 695.79 L421.9 696 L418.93 696.2 L416.01 696.36 L413.17 696.5 L410.4 696.62 L407.71 696.72 L405.12 696.79 L402.61 696.83 L400.22 696.86 L397.93 696.87 L395.76 696.85 L393.72 696.82 L391.8 696.77 L390.01 696.71 L388.37 696.63 L386.86 696.54 L385.5 696.43 L384.3 696.31 L383.25 696.19 L382.35 696.05 L381.62 695.91 L381.04 695.76 L380.63 695.61 L380.38 695.46 L380.3 695.3" fill="none" stroke="#2a2a2a" stroke-width="0.85"/>
<path d="M491.7 698.5 L491.68 698.73 L491.63 698.97 L491.54 699.2 L491.42 699.44 L491.26 699.67 L491.07 699.9 L490.85 700.13 L490.59 700.36 L490.29 700.59 L489.96 700.82 L489.6 701.05 L489.2 701.27 L488.78 701.49 L488.31 701.71 L487.82 701.93 L487.29 702.15 L486.73 702.36 L486.14 702.58 L485.52 702.79 L484.87 702.99 L484.19 703.19 L483.47 703.4 L482.73 703.59 L481.96 703.79 L481.16 703.98 L480.34 704.16 L479.48 704.35 L478.6 704.53 L477.7 704.7 L476.76 704.87 L475.81 705.04 L474.83 705.21 L473.82 705.37 L472.8 705.52 L471.75 705.67 L470.68 705.82 L469.59 705.96 L468.48 706.09 L467.35 706.22 L466.2 706.35 L465.03 706.47 L463.85 706.59 L462.65 706.7 L461.44 706.81 L460.21 706.91 L458.97 707 L457.72 707.09 L456.45 707.18 L455.17 707.25 L453.89 707.33 L452.59 707.4 L451.29 707.46 L449.98 707.51 L448.66 707.56 L447.34 707.61 L446.01 707.65 L444.68 707.68 L443.34 707.71 L442.01 707.73 L440.67 707.75 L439.33 707.76 L437.99 707.76 L436.66 707.76 L435.33 707.75 L434 707.74 L432.67 707.72 L431.35 707.7 L430.04 707.67 L428.74 707.63 L427.44 707.59 L426.15 707.54 L424.87 707.49 L423.6 707.43 L422.35 707.37 L421.1 707.3 L419.87 707.23 L418.65 707.15 L417.45 707.06 L416.26 706.97 L415.1 706.88" fill="none" stroke="#1f1f1f" stroke-width="20.6" stroke-linejoin="round" stroke-linecap="butt"/>
<path d="M491.54 697.73 L491.63 697.99 L491.68 698.25 L491.7 698.51 L491.68 698.76 L491.62 699 L491.52 699.24 L491.39 699.48 L491.22 699.73 L491.01 699.97 L490.77 700.21 L490.48 700.45 L490.16 700.68 L489.81 700.92 L489.42 701.15 L488.99 701.39 L488.53 701.62 L488.03 701.84 L487.49 702.07 L486.92 702.29 L486.32 702.51 L485.68 702.73 L485.01 702.95 L484.31 703.16 L483.58 703.37 L482.81 703.57 L482.01 703.77 L481.19 703.97 L480.33 704.17 L479.44 704.36 L478.52 704.54 L477.58 704.72 L476.61 704.9 L475.61 705.08 L474.59 705.24 L473.54 705.41 L472.47 705.57 L471.37 705.72 L470.25 705.87 L469.11 706.02 L467.95 706.16 L466.77 706.29 L465.56 706.42 L464.34 706.54 L463.11 706.66 L461.85 706.77 L460.58 706.88 L459.3 706.98 L458 707.07 L456.69 707.16 L455.36 707.24 L454.03 707.32 L452.69 707.39 L451.33 707.46 L449.97 707.51 L448.6 707.57 L447.23 707.61 L445.85 707.65 L444.47 707.69 L443.08 707.72 L441.69 707.74 L440.3 707.75 L438.92 707.76 L437.53 707.76 L436.14 707.76 L434.76 707.75 L433.38 707.73 L432.01 707.71 L430.64 707.68 L429.29 707.65 L427.93 707.61 L426.59 707.56 L425.26 707.51 L423.94 707.45 L422.63 707.39 L421.34 707.32 L420.06 707.24 L418.79 707.16 L417.54 707.07 L416.31 706.98 L415.1 706.88" fill="none" stroke="#fff" stroke-width="18.8" stroke-linejoin="round" stroke-linecap="butt"/>
<path d="M500.7 698.8 L500.67 699.15 L500.57 699.5 L500.4 699.85 L500.17 700.19 L499.87 700.54 L499.5 700.88 L499.07 701.22 L498.57 701.56 L498.01 701.9 L497.39 702.23 L496.7 702.56 L495.95 702.88 L495.14 703.2 L494.26 703.52 L493.33 703.83 L492.34 704.14 L491.29 704.44 L490.19 704.73 L489.02 705.02 L487.81 705.3 L486.54 705.57 L485.23 705.84 L483.86 706.1 L482.44 706.35 L480.98 706.6 L479.47 706.83 L477.92 707.06 L476.33 707.28 L474.7 707.49 L473.03 707.69 L471.32 707.88 L469.58 708.06 L467.81 708.23 L466 708.39 L464.17 708.55 L462.31 708.69 L460.43 708.82 L458.53 708.94 L456.6 709.05 L454.66 709.15 L452.7 709.24 L450.73 709.32 L448.75 709.38 L446.76 709.44 L444.76 709.49 L442.75 709.52 L440.75 709.54 L438.74 709.55 L436.74 709.55 L434.74 709.54 L432.74 709.52 L430.76 709.49 L428.78 709.45 L426.82 709.39 L424.88 709.33 L422.95 709.25 L421.04 709.16 L419.15 709.07 L417.29 708.96 L415.45 708.84" fill="none" stroke="#2a2a2a" stroke-width="0.85"/>
<path d="M400 383 C430 381.5 462 383 484 387.8 C470 390.5 440 391 401.5 389.5 Z" fill="#fff" stroke="#1f1f1f" stroke-width="1.03" />
<path d="M380.7 383.8 A10.5 9.5 0 0 0 401.7 383.8 Z" fill="#fff" stroke="#1f1f1f" stroke-width="1.03" />
<line x1="415.4" y1="688" x2="415.4" y2="718" stroke="#222" stroke-width="0.95"/>
<line x1="434" y1="652" x2="434" y2="667.5" stroke="#222" stroke-width="0.9"/>
<ellipse cx="601.5" cy="184" rx="39" ry="6.5" fill="#b01414" stroke="#3c0606" stroke-width="1.04" />
<ellipse cx="601.5" cy="182.3" rx="39" ry="7.2" fill="#d81c1f" stroke="#3c0606" stroke-width="1.17" />
<ellipse cx="601.8" cy="182.5" rx="30.5" ry="3.2" fill="#fff" stroke="#3c0606" stroke-width="1.04" />
<line x1="614.4" y1="175.8" x2="635.5" y2="164" stroke="#333" stroke-width="0.85"/>
<path d="M0.9 1.1 L1.9 0.25 L1.9 6.95 M6.7 0.5 L4.1 0.5 L3.8 3.35 C4.3 2.95 4.8 2.8 5.3 2.8 C6.3 2.8 7.0 3.65 7.0 4.8 C7.0 6.1 6.3 6.9 5.3 6.9 C4.6 6.9 4.0 6.5 3.75 5.85" fill="none" stroke="#111" stroke-width="1.15" stroke-linejoin="round" transform="translate(639 158.5) scale(1 0.96)"/>
<path d="M569 212 L569 216.5 A32.8 5.5 0 0 0 634.6 216.5 L634.6 212 Z" fill="#d81c1f" stroke="#3c0606" stroke-width="1.17" />
<ellipse cx="601.8" cy="212" rx="32.8" ry="5.5" fill="#d81c1f" stroke="#3c0606" stroke-width="1.17" />
<path d="M583 205.5 L583 211 A18.8 3.3 0 0 0 620.6 211 L620.6 205.5 Z" fill="#d81c1f" stroke="#3c0606" stroke-width="1.17" />
<ellipse cx="601.8" cy="205.5" rx="18.8" ry="3.3" fill="#d81c1f" stroke="#3c0606" stroke-width="1.17" />
<ellipse cx="601.5" cy="205.4" rx="16" ry="2.4" fill="none" stroke="#3c0606" stroke-width="0.78" />
<line x1="623.75" y1="207" x2="648" y2="194" stroke="#333" stroke-width="0.85"/>
<path d="M0.9 1.1 L1.9 0.25 L1.9 6.95 M6.7 0.5 L4.1 0.5 L3.8 3.35 C4.3 2.95 4.8 2.8 5.3 2.8 C6.3 2.8 7.0 3.65 7.0 4.8 C7.0 6.1 6.3 6.9 5.3 6.9 C4.6 6.9 4.0 6.5 3.75 5.85" fill="none" stroke="#111" stroke-width="1.15" stroke-linejoin="round" transform="translate(660 187.4) scale(1 0.96)"/>
<path d="M580 237 L580 241.9 A21.7 3.7 0 0 0 623.4 241.9 L623.4 237 Z" fill="#d81c1f" stroke="#3c0606" stroke-width="1.17" />
<ellipse cx="601.7" cy="237" rx="21.7" ry="3.7" fill="#d81c1f" stroke="#3c0606" stroke-width="1.17" />
<ellipse cx="601.7" cy="237" rx="15.5" ry="2.2" fill="#a81414" stroke="#3c0606" stroke-width="0.78" />
<line x1="594" y1="237" x2="609" y2="237" stroke="#e8a8a8" stroke-width="0.9"/>
<line x1="623.4" y1="236" x2="648" y2="223.75" stroke="#333" stroke-width="0.85"/>
<path d="M0.9 1.1 L1.9 0.25 L1.9 6.95 M6.7 0.5 L4.1 0.5 L3.8 3.35 C4.3 2.95 4.8 2.8 5.3 2.8 C6.3 2.8 7.0 3.65 7.0 4.8 C7.0 6.1 6.3 6.9 5.3 6.9 C4.6 6.9 4.0 6.5 3.75 5.85" fill="none" stroke="#111" stroke-width="1.15" stroke-linejoin="round" transform="translate(660.5 217.8) scale(1 0.96)"/>
<path d="M557.4 285 L557.4 288.5 A43.5 5.7 0 0 0 644.4 288.5 L644.4 285 Z" fill="#fff" stroke="#1f1f1f" stroke-width="1.21" />
<path d="M557.4 276.4 L597 278.4 L597 285.8 L557.4 284.3 Z" fill="#1c1c1c" stroke="#1c1c1c" stroke-width="0.5" />
<line x1="558.6" y1="277.46" x2="558.6" y2="283.86" stroke="#9a9a9a" stroke-width="0.8"/>
<line x1="560.9" y1="277.57" x2="560.9" y2="283.97" stroke="#9a9a9a" stroke-width="0.8"/>
<line x1="563.2" y1="277.69" x2="563.2" y2="284.09" stroke="#9a9a9a" stroke-width="0.8"/>
<line x1="565.5" y1="277.8" x2="565.5" y2="284.2" stroke="#9a9a9a" stroke-width="0.8"/>
<line x1="567.8" y1="277.92" x2="567.8" y2="284.32" stroke="#9a9a9a" stroke-width="0.8"/>
<line x1="570.1" y1="278.03" x2="570.1" y2="284.43" stroke="#9a9a9a" stroke-width="0.8"/>
<line x1="572.4" y1="278.15" x2="572.4" y2="284.55" stroke="#9a9a9a" stroke-width="0.8"/>
<line x1="574.7" y1="278.26" x2="574.7" y2="284.66" stroke="#9a9a9a" stroke-width="0.8"/>
<line x1="577" y1="278.38" x2="577" y2="284.78" stroke="#9a9a9a" stroke-width="0.8"/>
<line x1="579.3" y1="278.5" x2="579.3" y2="284.89" stroke="#9a9a9a" stroke-width="0.8"/>
<line x1="581.6" y1="278.61" x2="581.6" y2="285.01" stroke="#9a9a9a" stroke-width="0.8"/>
<line x1="583.9" y1="278.72" x2="583.9" y2="285.12" stroke="#9a9a9a" stroke-width="0.8"/>
<line x1="586.2" y1="278.84" x2="586.2" y2="285.24" stroke="#9a9a9a" stroke-width="0.8"/>
<line x1="588.5" y1="278.95" x2="588.5" y2="285.35" stroke="#9a9a9a" stroke-width="0.8"/>
<line x1="590.8" y1="279.07" x2="590.8" y2="285.47" stroke="#9a9a9a" stroke-width="0.8"/>
<line x1="593.1" y1="279.19" x2="593.1" y2="285.58" stroke="#9a9a9a" stroke-width="0.8"/>
<line x1="595.4" y1="279.3" x2="595.4" y2="285.7" stroke="#9a9a9a" stroke-width="0.8"/>
<path d="M644.4 273.8 L663.5 271 L663.5 278.5 L644.4 283.8 Z" fill="#1c1c1c" stroke="#1c1c1c" stroke-width="0.5" />
<line x1="645.8" y1="274.39" x2="645.8" y2="281.41" stroke="#9a9a9a" stroke-width="0.8"/>
<line x1="648.1" y1="274.05" x2="648.1" y2="280.76" stroke="#9a9a9a" stroke-width="0.8"/>
<line x1="650.4" y1="273.7" x2="650.4" y2="280.12" stroke="#9a9a9a" stroke-width="0.8"/>
<line x1="652.7" y1="273.36" x2="652.7" y2="279.48" stroke="#9a9a9a" stroke-width="0.8"/>
<line x1="655" y1="273.01" x2="655" y2="278.83" stroke="#9a9a9a" stroke-width="0.8"/>
<line x1="657.3" y1="272.67" x2="657.3" y2="278.19" stroke="#9a9a9a" stroke-width="0.8"/>
<line x1="659.6" y1="272.32" x2="659.6" y2="277.54" stroke="#9a9a9a" stroke-width="0.8"/>
<line x1="661.9" y1="271.98" x2="661.9" y2="276.9" stroke="#9a9a9a" stroke-width="0.8"/>
<path d="M597 274.4 L644.4 273.8 L644.4 284.6 L597 285.8 Z" fill="#fff" stroke="#1f1f1f" stroke-width="1.03" />
<path d="M600.9 274.4 L600.9 285.7 M606.2 274.3 L606.2 285.6 M631.2 274 L631.2 285 M639.2 273.9 L639.2 284.8" fill="none" stroke="#1f1f1f" stroke-width="0.8" />
<path d="M539.6 269 L539.6 275.5 C541 277 548 278 557.4 278.6 L557.6 276 C558.5 274.5 559.5 273.5 560 272 L551 270.5 Z" fill="#fff" stroke="#1f1f1f" stroke-width="1.03" />
<path d="M543.6 271 L543.6 276.5 M547.5 271.5 L547.5 277.2 M551.5 272 L551.5 277.8" fill="none" stroke="#1f1f1f" stroke-width="0.8" />
<path d="M539.6 269 C541 265.5 546 264 550.8 263.9 C565 261 585 259.8 603 259.8 C622 259.8 636 261 644.4 262.5 C652 264 658 266.5 661.6 270.5 L663.5 271.3 L644.4 273.8 L600 274.4 L597 276.3 L560 272.2 L551 270.6 Z" fill="#fff" stroke="#1f1f1f" stroke-width="1.21" />
<path d="M550.8 263.9 C548 266 549 268.5 551 270.6 M644.4 262.5 C651 264.5 655 267 657 271.8" fill="none" stroke="#1f1f1f" stroke-width="0.8" />
<ellipse cx="603.2" cy="266.2" rx="41.2" ry="5.6" fill="#1e1e1e" stroke="#1e1e1e" stroke-width="0.5" />
<path d="M570.2 262.2 A33 2.5 0 0 0 636.2 262.2" fill="none" stroke="#7a7a7a" stroke-width="0.8" stroke-dasharray="3 1.5 5 1" stroke-dashoffset="0.52"/>
<path d="M564.2 264 A39 2.5 0 0 0 642.2 264" fill="none" stroke="#7a7a7a" stroke-width="0.8" stroke-dasharray="3 1.5 5 1" stroke-dashoffset="4.57"/>
<path d="M564.2 265.8 A39 2.5 0 0 0 642.2 265.8" fill="none" stroke="#7a7a7a" stroke-width="0.8" stroke-dasharray="3 1.5 5 1" stroke-dashoffset="0.34"/>
<path d="M569.2 267.6 A34 2.5 0 0 0 637.2 267.6" fill="none" stroke="#7a7a7a" stroke-width="0.8" stroke-dasharray="3 1.5 5 1" stroke-dashoffset="3.9"/>
<ellipse cx="603.2" cy="266.2" rx="41.2" ry="5.6" fill="none" stroke="#1f1f1f" stroke-width="0.92" />
<path d="M569.35 324 L569.35 527 A32.65 4.4 0 0 0 634.65 527 L634.65 324 Z" fill="#fff" stroke="#1f1f1f" stroke-width="1.21" />
<ellipse cx="602" cy="324" rx="32.65" ry="4.4" fill="#fff" stroke="#1f1f1f" stroke-width="1.26" />
<line x1="588.1" y1="328.3" x2="588.1" y2="531" stroke="#1f1f1f" stroke-width="1.15"/>
<line x1="614.5" y1="319.8" x2="614.5" y2="327.2" stroke="#1f1f1f" stroke-width="0.8"/>
<ellipse cx="588" cy="512.3" rx="1.6" ry="1.6" fill="#fff" stroke="#1f1f1f" stroke-width="0.8" />
<ellipse cx="631.3" cy="510" rx="0.9" ry="1.6" fill="#fff" stroke="#1f1f1f" stroke-width="0.8" />
<path d="M561.3 748 L561.3 789 A40.5 5.2 0 0 0 642.3 789 L642.3 748 Z" fill="#fff" stroke="#1f1f1f" stroke-width="1.21" />
<path d="M561.3 748 A40.5 5.2 0 0 0 642.3 748" fill="none" stroke="#1f1f1f" stroke-width="0.92" />
<path d="M563.5 744 L561.4 748 M640 744 L642.2 748" fill="none" stroke="#1f1f1f" stroke-width="0.92" />
<path d="M563.6 667 L563.6 744 A38.2 4.8 0 0 0 640 744 L640 667 Z" fill="#fff" stroke="#1f1f1f" stroke-width="1.21" />
<path d="M563.1 560 L563.1 667 A38.65 5 0 0 0 640.4 667 L640.4 560 A38.65 5 0 0 1 563.1 560 Z" fill="#101010" stroke="#101010" stroke-width="0.5" />
<path d="M563.7 561.05 A38.05 5 0 0 0 639.8 561.05" fill="none" stroke="#9c9c9c" stroke-width="0.8" stroke-dasharray="4.5 1.2 7 1.5 3 1" stroke-dashoffset="1.26"/>
<path d="M563.7 563.15 A38.05 5 0 0 0 639.8 563.15" fill="none" stroke="#9c9c9c" stroke-width="0.8" stroke-dasharray="4.5 1.2 7 1.5 3 1" stroke-dashoffset="1.63"/>
<path d="M563.7 565.25 A38.05 5 0 0 0 639.8 565.25" fill="none" stroke="#9c9c9c" stroke-width="0.8" stroke-dasharray="4.5 1.2 7 1.5 3 1" stroke-dashoffset="7.64"/>
<path d="M563.7 567.35 A38.05 5 0 0 0 639.8 567.35" fill="none" stroke="#9c9c9c" stroke-width="0.8" stroke-dasharray="4.5 1.2 7 1.5 3 1" stroke-dashoffset="14.88"/>
<path d="M563.7 569.45 A38.05 5 0 0 0 639.8 569.45" fill="none" stroke="#9c9c9c" stroke-width="0.8" stroke-dasharray="4.5 1.2 7 1.5 3 1" stroke-dashoffset="2.23"/>
<path d="M563.7 571.55 A38.05 5 0 0 0 639.8 571.55" fill="none" stroke="#9c9c9c" stroke-width="0.8" stroke-dasharray="4.5 1.2 7 1.5 3 1" stroke-dashoffset="4.02"/>
<path d="M563.7 573.65 A38.05 5 0 0 0 639.8 573.65" fill="none" stroke="#9c9c9c" stroke-width="0.8" stroke-dasharray="4.5 1.2 7 1.5 3 1" stroke-dashoffset="11.29"/>
<path d="M563.7 575.75 A38.05 5 0 0 0 639.8 575.75" fill="none" stroke="#9c9c9c" stroke-width="0.8" stroke-dasharray="4.5 1.2 7 1.5 3 1" stroke-dashoffset="17.06"/>
<path d="M563.7 577.85 A38.05 5 0 0 0 639.8 577.85" fill="none" stroke="#9c9c9c" stroke-width="0.8" stroke-dasharray="4.5 1.2 7 1.5 3 1" stroke-dashoffset="10.39"/>
<path d="M563.7 579.95 A38.05 5 0 0 0 639.8 579.95" fill="none" stroke="#9c9c9c" stroke-width="0.8" stroke-dasharray="4.5 1.2 7 1.5 3 1" stroke-dashoffset="7.14"/>
<path d="M563.7 582.05 A38.05 5 0 0 0 639.8 582.05" fill="none" stroke="#9c9c9c" stroke-width="0.8" stroke-dasharray="4.5 1.2 7 1.5 3 1" stroke-dashoffset="17.57"/>
<path d="M563.7 584.15 A38.05 5 0 0 0 639.8 584.15" fill="none" stroke="#9c9c9c" stroke-width="0.8" stroke-dasharray="4.5 1.2 7 1.5 3 1" stroke-dashoffset="0.84"/>
<path d="M563.7 586.25 A38.05 5 0 0 0 639.8 586.25" fill="none" stroke="#9c9c9c" stroke-width="0.8" stroke-dasharray="4.5 1.2 7 1.5 3 1" stroke-dashoffset="15.45"/>
<path d="M563.7 588.35 A38.05 5 0 0 0 639.8 588.35" fill="none" stroke="#9c9c9c" stroke-width="0.8" stroke-dasharray="4.5 1.2 7 1.5 3 1" stroke-dashoffset="5.21"/>
<path d="M563.7 590.45 A38.05 5 0 0 0 639.8 590.45" fill="none" stroke="#9c9c9c" stroke-width="0.8" stroke-dasharray="4.5 1.2 7 1.5 3 1" stroke-dashoffset="2.6"/>
<path d="M563.7 592.55 A38.05 5 0 0 0 639.8 592.55" fill="none" stroke="#9c9c9c" stroke-width="0.8" stroke-dasharray="4.5 1.2 7 1.5 3 1" stroke-dashoffset="2.12"/>
<path d="M563.7 594.65 A38.05 5 0 0 0 639.8 594.65" fill="none" stroke="#9c9c9c" stroke-width="0.8" stroke-dasharray="4.5 1.2 7 1.5 3 1" stroke-dashoffset="5.55"/>
<path d="M563.7 596.75 A38.05 5 0 0 0 639.8 596.75" fill="none" stroke="#9c9c9c" stroke-width="0.8" stroke-dasharray="4.5 1.2 7 1.5 3 1" stroke-dashoffset="14.69"/>
<path d="M563.7 598.85 A38.05 5 0 0 0 639.8 598.85" fill="none" stroke="#9c9c9c" stroke-width="0.8" stroke-dasharray="4.5 1.2 7 1.5 3 1" stroke-dashoffset="3.25"/>
<path d="M563.7 600.95 A38.05 5 0 0 0 639.8 600.95" fill="none" stroke="#9c9c9c" stroke-width="0.8" stroke-dasharray="4.5 1.2 7 1.5 3 1" stroke-dashoffset="10.47"/>
<path d="M563.7 603.05 A38.05 5 0 0 0 639.8 603.05" fill="none" stroke="#9c9c9c" stroke-width="0.8" stroke-dasharray="4.5 1.2 7 1.5 3 1" stroke-dashoffset="11.5"/>
<path d="M563.7 605.15 A38.05 5 0 0 0 639.8 605.15" fill="none" stroke="#9c9c9c" stroke-width="0.8" stroke-dasharray="4.5 1.2 7 1.5 3 1" stroke-dashoffset="6.7"/>
<path d="M563.7 607.25 A38.05 5 0 0 0 639.8 607.25" fill="none" stroke="#9c9c9c" stroke-width="0.8" stroke-dasharray="4.5 1.2 7 1.5 3 1" stroke-dashoffset="9.86"/>
<path d="M563.7 609.35 A38.05 5 0 0 0 639.8 609.35" fill="none" stroke="#9c9c9c" stroke-width="0.8" stroke-dasharray="4.5 1.2 7 1.5 3 1" stroke-dashoffset="1.13"/>
<path d="M563.7 611.45 A38.05 5 0 0 0 639.8 611.45" fill="none" stroke="#9c9c9c" stroke-width="0.8" stroke-dasharray="4.5 1.2 7 1.5 3 1" stroke-dashoffset="1.07"/>
<path d="M563.7 613.55 A38.05 5 0 0 0 639.8 613.55" fill="none" stroke="#9c9c9c" stroke-width="0.8" stroke-dasharray="4.5 1.2 7 1.5 3 1" stroke-dashoffset="3.71"/>
<path d="M563.7 615.65 A38.05 5 0 0 0 639.8 615.65" fill="none" stroke="#9c9c9c" stroke-width="0.8" stroke-dasharray="4.5 1.2 7 1.5 3 1" stroke-dashoffset="12.25"/>
<path d="M563.7 617.75 A38.05 5 0 0 0 639.8 617.75" fill="none" stroke="#9c9c9c" stroke-width="0.8" stroke-dasharray="4.5 1.2 7 1.5 3 1" stroke-dashoffset="7.7"/>
<path d="M563.7 619.85 A38.05 5 0 0 0 639.8 619.85" fill="none" stroke="#9c9c9c" stroke-width="0.8" stroke-dasharray="4.5 1.2 7 1.5 3 1" stroke-dashoffset="5.65"/>
<path d="M563.7 621.95 A38.05 5 0 0 0 639.8 621.95" fill="none" stroke="#9c9c9c" stroke-width="0.8" stroke-dasharray="4.5 1.2 7 1.5 3 1" stroke-dashoffset="10.54"/>
<path d="M563.7 624.05 A38.05 5 0 0 0 639.8 624.05" fill="none" stroke="#9c9c9c" stroke-width="0.8" stroke-dasharray="4.5 1.2 7 1.5 3 1" stroke-dashoffset="8.16"/>
<path d="M563.7 626.15 A38.05 5 0 0 0 639.8 626.15" fill="none" stroke="#9c9c9c" stroke-width="0.8" stroke-dasharray="4.5 1.2 7 1.5 3 1" stroke-dashoffset="5.4"/>
<path d="M563.7 628.25 A38.05 5 0 0 0 639.8 628.25" fill="none" stroke="#9c9c9c" stroke-width="0.8" stroke-dasharray="4.5 1.2 7 1.5 3 1" stroke-dashoffset="14.3"/>
<path d="M563.7 630.35 A38.05 5 0 0 0 639.8 630.35" fill="none" stroke="#9c9c9c" stroke-width="0.8" stroke-dasharray="4.5 1.2 7 1.5 3 1" stroke-dashoffset="12.58"/>
<path d="M563.7 632.45 A38.05 5 0 0 0 639.8 632.45" fill="none" stroke="#9c9c9c" stroke-width="0.8" stroke-dasharray="4.5 1.2 7 1.5 3 1" stroke-dashoffset="4.39"/>
<path d="M563.7 634.55 A38.05 5 0 0 0 639.8 634.55" fill="none" stroke="#9c9c9c" stroke-width="0.8" stroke-dasharray="4.5 1.2 7 1.5 3 1" stroke-dashoffset="10.34"/>
<path d="M563.7 636.65 A38.05 5 0 0 0 639.8 636.65" fill="none" stroke="#9c9c9c" stroke-width="0.8" stroke-dasharray="4.5 1.2 7 1.5 3 1" stroke-dashoffset="9.45"/>
<path d="M563.7 638.75 A38.05 5 0 0 0 639.8 638.75" fill="none" stroke="#9c9c9c" stroke-width="0.8" stroke-dasharray="4.5 1.2 7 1.5 3 1" stroke-dashoffset="15.75"/>
<path d="M563.7 640.85 A38.05 5 0 0 0 639.8 640.85" fill="none" stroke="#9c9c9c" stroke-width="0.8" stroke-dasharray="4.5 1.2 7 1.5 3 1" stroke-dashoffset="13.13"/>
<path d="M563.7 642.95 A38.05 5 0 0 0 639.8 642.95" fill="none" stroke="#9c9c9c" stroke-width="0.8" stroke-dasharray="4.5 1.2 7 1.5 3 1" stroke-dashoffset="5.18"/>
<path d="M563.7 645.05 A38.05 5 0 0 0 639.8 645.05" fill="none" stroke="#9c9c9c" stroke-width="0.8" stroke-dasharray="4.5 1.2 7 1.5 3 1" stroke-dashoffset="17.64"/>
<path d="M563.7 647.15 A38.05 5 0 0 0 639.8 647.15" fill="none" stroke="#9c9c9c" stroke-width="0.8" stroke-dasharray="4.5 1.2 7 1.5 3 1" stroke-dashoffset="2.13"/>
<path d="M563.7 649.25 A38.05 5 0 0 0 639.8 649.25" fill="none" stroke="#9c9c9c" stroke-width="0.8" stroke-dasharray="4.5 1.2 7 1.5 3 1" stroke-dashoffset="7.53"/>
<path d="M563.7 651.35 A38.05 5 0 0 0 639.8 651.35" fill="none" stroke="#9c9c9c" stroke-width="0.8" stroke-dasharray="4.5 1.2 7 1.5 3 1" stroke-dashoffset="13.63"/>
<path d="M563.7 653.45 A38.05 5 0 0 0 639.8 653.45" fill="none" stroke="#9c9c9c" stroke-width="0.8" stroke-dasharray="4.5 1.2 7 1.5 3 1" stroke-dashoffset="2.74"/>
<path d="M563.7 655.55 A38.05 5 0 0 0 639.8 655.55" fill="none" stroke="#9c9c9c" stroke-width="0.8" stroke-dasharray="4.5 1.2 7 1.5 3 1" stroke-dashoffset="8.8"/>
<path d="M563.7 657.65 A38.05 5 0 0 0 639.8 657.65" fill="none" stroke="#9c9c9c" stroke-width="0.8" stroke-dasharray="4.5 1.2 7 1.5 3 1" stroke-dashoffset="0.71"/>
<path d="M563.7 659.75 A38.05 5 0 0 0 639.8 659.75" fill="none" stroke="#9c9c9c" stroke-width="0.8" stroke-dasharray="4.5 1.2 7 1.5 3 1" stroke-dashoffset="12.03"/>
<path d="M563.7 661.85 A38.05 5 0 0 0 639.8 661.85" fill="none" stroke="#9c9c9c" stroke-width="0.8" stroke-dasharray="4.5 1.2 7 1.5 3 1" stroke-dashoffset="13.76"/>
<path d="M563.7 663.95 A38.05 5 0 0 0 639.8 663.95" fill="none" stroke="#9c9c9c" stroke-width="0.8" stroke-dasharray="4.5 1.2 7 1.5 3 1" stroke-dashoffset="10.31"/>
<path d="M563.7 666.05 A38.05 5 0 0 0 639.8 666.05" fill="none" stroke="#9c9c9c" stroke-width="0.8" stroke-dasharray="4.5 1.2 7 1.5 3 1" stroke-dashoffset="15.76"/>
<path d="M563.7 668.15 A38.05 5 0 0 0 639.8 668.15" fill="none" stroke="#9c9c9c" stroke-width="0.8" stroke-dasharray="4.5 1.2 7 1.5 3 1" stroke-dashoffset="5.65"/>
<clipPath id="thc2"><rect x="583.97" y="560" width="35.56" height="112"/></clipPath>
<rect x="583.97" y="565" width="35.56" height="106.5" fill="#101010" clip-path="url(#thc2)"/>
<path d="M563.7 562.52 A38.05 5 0 0 0 639.8 562.52 M563.7 566.72 A38.05 5 0 0 0 639.8 566.72 M563.7 570.92 A38.05 5 0 0 0 639.8 570.92 M563.7 575.12 A38.05 5 0 0 0 639.8 575.12 M563.7 579.32 A38.05 5 0 0 0 639.8 579.32 M563.7 583.52 A38.05 5 0 0 0 639.8 583.52 M563.7 587.72 A38.05 5 0 0 0 639.8 587.72 M563.7 591.92 A38.05 5 0 0 0 639.8 591.92 M563.7 596.12 A38.05 5 0 0 0 639.8 596.12 M563.7 600.32 A38.05 5 0 0 0 639.8 600.32 M563.7 604.52 A38.05 5 0 0 0 639.8 604.52 M563.7 608.72 A38.05 5 0 0 0 639.8 608.72 M563.7 612.92 A38.05 5 0 0 0 639.8 612.92 M563.7 617.12 A38.05 5 0 0 0 639.8 617.12 M563.7 621.32 A38.05 5 0 0 0 639.8 621.32 M563.7 625.52 A38.05 5 0 0 0 639.8 625.52 M563.7 629.72 A38.05 5 0 0 0 639.8 629.72 M563.7 633.92 A38.05 5 0 0 0 639.8 633.92 M563.7 638.12 A38.05 5 0 0 0 639.8 638.12 M563.7 642.32 A38.05 5 0 0 0 639.8 642.32 M563.7 646.52 A38.05 5 0 0 0 639.8 646.52 M563.7 650.72 A38.05 5 0 0 0 639.8 650.72 M563.7 654.92 A38.05 5 0 0 0 639.8 654.92 M563.7 659.12 A38.05 5 0 0 0 639.8 659.12 M563.7 663.32 A38.05 5 0 0 0 639.8 663.32 M563.7 667.52 A38.05 5 0 0 0 639.8 667.52" fill="none" stroke="#c4c4c4" stroke-width="0.75" clip-path="url(#thc2)"/>
<ellipse cx="601.8" cy="559.3" rx="36.8" ry="7.5" fill="#fff" stroke="#1f1f1f" stroke-width="1.15" />
<ellipse cx="601.8" cy="557.6" rx="35.2" ry="5.6" fill="none" stroke="#1f1f1f" stroke-width="0.92" />
<line x1="585.2" y1="669.5" x2="585.2" y2="794" stroke="#1f1f1f" stroke-width="1.03"/>
<line x1="586" y1="563.5" x2="586" y2="566.5" stroke="#1f1f1f" stroke-width="0.8"/>
<line x1="617.5" y1="551.8" x2="617.5" y2="557.5" stroke="#1f1f1f" stroke-width="0.8"/>
<path d="M509 47 L521 44.6 A15.5 18.3 0 0 1 523 82 L512 84 Z" fill="#d81c1f" stroke="#3c0606" stroke-width="1.17" />
<ellipse cx="523" cy="63.2" rx="15.6" ry="18.5" fill="#d81c1f" stroke="#3c0606" stroke-width="1.17" transform="rotate(-4 523 63.2)"/>
<ellipse cx="511.5" cy="65" rx="15.6" ry="18.6" fill="#d81c1f" stroke="#3c0606" stroke-width="1.3" transform="rotate(-4 511.5 65)"/>
<ellipse cx="517.4" cy="63.7" rx="7.8" ry="12.3" fill="#fff" stroke="#3c0606" stroke-width="1.43" transform="rotate(-14 517.4 63.7)"/>
<line x1="493" y1="18" x2="512" y2="47" stroke="#333" stroke-width="0.85"/>
<path d="M0.9 1.1 L1.9 0.25 L1.9 6.95 M6.7 0.5 L4.1 0.5 L3.8 3.35 C4.3 2.95 4.8 2.8 5.3 2.8 C6.3 2.8 7.0 3.65 7.0 4.8 C7.0 6.1 6.3 6.9 5.3 6.9 C4.6 6.9 4.0 6.5 3.75 5.85" fill="none" stroke="#111" stroke-width="1.15" stroke-linejoin="round" transform="translate(482 9.3) scale(1 0.96)"/>
<path d="M667.2 127 L667.2 136.3 A33.9 4 0 0 0 735 136.3 L735 127 Z" fill="#fff" stroke="#1f1f1f" stroke-width="1.21" />
<path d="M667.1 129.8 A34 4.2 0 0 0 735.1 129.8" fill="none" stroke="#1f1f1f" stroke-width="1.03" />
<line x1="686.4" y1="133.8" x2="686.4" y2="140.3" stroke="#1f1f1f" stroke-width="0.8"/>
<line x1="732" y1="127" x2="732" y2="131.5" stroke="#1f1f1f" stroke-width="0.8"/>
<path d="M666 107.5 L666 126.3 A35.3 2.8 0 0 0 736.6 126.3 L736.6 107.5 A35.3 2.8 0 0 1 666 107.5 Z" fill="#101010" stroke="#101010" stroke-width="0.5" />
<path d="M666.6 108.55 A34.7 2.8 0 0 0 736 108.55" fill="none" stroke="#9c9c9c" stroke-width="0.8" stroke-dasharray="4.5 1.2 7 1.5 3 1" stroke-dashoffset="12.52"/>
<path d="M666.6 110.65 A34.7 2.8 0 0 0 736 110.65" fill="none" stroke="#9c9c9c" stroke-width="0.8" stroke-dasharray="4.5 1.2 7 1.5 3 1" stroke-dashoffset="10.7"/>
<path d="M666.6 112.75 A34.7 2.8 0 0 0 736 112.75" fill="none" stroke="#9c9c9c" stroke-width="0.8" stroke-dasharray="4.5 1.2 7 1.5 3 1" stroke-dashoffset="10.44"/>
<path d="M666.6 114.85 A34.7 2.8 0 0 0 736 114.85" fill="none" stroke="#9c9c9c" stroke-width="0.8" stroke-dasharray="4.5 1.2 7 1.5 3 1" stroke-dashoffset="8.21"/>
<path d="M666.6 116.95 A34.7 2.8 0 0 0 736 116.95" fill="none" stroke="#9c9c9c" stroke-width="0.8" stroke-dasharray="4.5 1.2 7 1.5 3 1" stroke-dashoffset="15.12"/>
<path d="M666.6 119.05 A34.7 2.8 0 0 0 736 119.05" fill="none" stroke="#9c9c9c" stroke-width="0.8" stroke-dasharray="4.5 1.2 7 1.5 3 1" stroke-dashoffset="17"/>
<path d="M666.6 121.15 A34.7 2.8 0 0 0 736 121.15" fill="none" stroke="#9c9c9c" stroke-width="0.8" stroke-dasharray="4.5 1.2 7 1.5 3 1" stroke-dashoffset="8.53"/>
<path d="M666.6 123.25 A34.7 2.8 0 0 0 736 123.25" fill="none" stroke="#9c9c9c" stroke-width="0.8" stroke-dasharray="4.5 1.2 7 1.5 3 1" stroke-dashoffset="11.95"/>
<path d="M666.6 125.35 A34.7 2.8 0 0 0 736 125.35" fill="none" stroke="#9c9c9c" stroke-width="0.8" stroke-dasharray="4.5 1.2 7 1.5 3 1" stroke-dashoffset="1.09"/>
<clipPath id="thc3"><rect x="685.06" y="107.5" width="32.48" height="21.6"/></clipPath>
<rect x="685.06" y="110.3" width="32.48" height="18.3" fill="#101010" clip-path="url(#thc3)"/>
<path d="M666.6 110.02 A34.7 2.8 0 0 0 736 110.02 M666.6 114.22 A34.7 2.8 0 0 0 736 114.22 M666.6 118.42 A34.7 2.8 0 0 0 736 118.42 M666.6 122.62 A34.7 2.8 0 0 0 736 122.62 M666.6 126.82 A34.7 2.8 0 0 0 736 126.82" fill="none" stroke="#c4c4c4" stroke-width="0.75" clip-path="url(#thc3)"/>
<path d="M662.4 103.6 L662.4 106.2 A38.7 5.8 0 0 0 739.8 106.2 L739.8 103.6 Z" fill="#fff" stroke="#1f1f1f" stroke-width="1.21" />
<ellipse cx="701.1" cy="103.6" rx="38.7" ry="5.6" fill="#fff" stroke="#1f1f1f" stroke-width="1.15" />
<ellipse cx="701.1" cy="103.2" rx="35.8" ry="4.2" fill="none" stroke="#1f1f1f" stroke-width="0.8" />
<path d="M681 70.5 C686 66 692 64 697 63.5 C701 62 705 61 709 61 C714 61 719 63 722 67 C725 71 725.5 76 724.5 80 C726 86 729 94 732.5 101 L706 101 L690 97 Z" fill="#fff" stroke="#1f1f1f" stroke-width="1.21" />
<path d="M697 63.8 C704 63.5 710 66 713 72 C716 78 717 86 716 95" fill="none" stroke="#1f1f1f" stroke-width="0.8" />
<path d="M704 62 C711 62 716 66 719 72 C721 78 721 84 720 90 C722 94 725 98 727 101" fill="none" stroke="#1f1f1f" stroke-width="0.8" />
<path d="M709 61.2 C716 62 720 66 722.5 72 M717.5 89 C720 94 723 98 724.5 101 M714 93 C717 97 720 100 721 101.5" fill="none" stroke="#1f1f1f" stroke-width="0.8" />
<path d="M697 72 C700 70 703 72 704.5 76" fill="none" stroke="#1f1f1f" stroke-width="0.69" />
<path d="M683.2 95.5 L683.5 100.8 L687.2 100.8 L687 96.5" fill="#fff" stroke="#1f1f1f" stroke-width="0.92" />
<path d="M700.8 96 L700.6 100.8 L706.2 100.8 L705.8 95" fill="#fff" stroke="#1f1f1f" stroke-width="0.92" />
<ellipse cx="688.5" cy="84.6" rx="11.4" ry="12.8" fill="#fff" stroke="#1f1f1f" stroke-width="1.26" />
<path d="M694 73.8 C699.5 76 701.5 81 701 86 C700.6 91 698 95 694 96.6" fill="none" stroke="#1f1f1f" stroke-width="0.69" />
<ellipse cx="688.1" cy="84.6" rx="5.8" ry="5.9" fill="#fff" stroke="#1f1f1f" stroke-width="1.03" />
<ellipse cx="688.1" cy="84.6" rx="4.5" ry="4.6" fill="none" stroke="#1f1f1f" stroke-width="0.57" />
<line x1="685" y1="85.5" x2="691" y2="83.4" stroke="#1f1f1f" stroke-width="0.69"/>
<path d="M616.5 34 L640.5 47.6 C648 45.5 653 45 657.2 45 L667.7 44.5 C672 45 675 47.5 676.5 50.2 C678.5 53 679.8 56 679.6 59 L678.3 63.4 L671.2 62.5 C669 62.8 667.5 63.8 666.9 65.2 C668 70 672 75 676 78 L678.3 75.7 L676.5 86 L674.8 91.5 L662.5 91.5 L664.2 102 L644 86.2 L630 80 L625 66 L620 45.4 Z" fill="#fff" stroke="#1f1f1f" stroke-width="1.21" />
<path d="M652 84.5 L662.5 91.5 M666.9 65.2 L676 76.5 M671.2 62.5 L678.3 70" fill="none" stroke="#1f1f1f" stroke-width="0.8" />
<path d="M657 88 L662 82 C664 78 666 72 666.9 66" fill="none" stroke="#1f1f1f" stroke-width="0.69" />
<path d="M618.3 38.4 L639 50.5 M615.6 34.9 L625.3 61.2 M618.3 34.5 L629.7 57.7" fill="none" stroke="#1f1f1f" stroke-width="0.8" />
<path d="M557.6 69.2 L557.6 92.2 A36.2 6.3 0 0 0 630 92.2 L630 69.2 Z" fill="#fff" stroke="#1f1f1f" stroke-width="1.21" />
<ellipse cx="593.8" cy="69.2" rx="36.2" ry="6.3" fill="#fff" stroke="#1f1f1f" stroke-width="1.21" />
<path d="M557.6 89.2 A36.2 6.3 0 0 0 630 89.2" fill="none" stroke="#1f1f1f" stroke-width="0.92" />
<ellipse cx="595.5" cy="68.8" rx="29" ry="4.2" fill="none" stroke="#1f1f1f" stroke-width="0.92" />
<path d="M567.3 67 L575.2 31.4 C577.5 25 581 20.8 584 19 C590 14.5 598 12.5 604.2 12.5 C610 12.5 614 13.5 616.5 14.7 C620 17.5 623 21 624.4 24.3 L628 31.4 L629.7 35.8 L628 68 C620 71 580 71 567.3 67 Z" fill="#fff" stroke="none" stroke-width="0" />
<path d="M567.3 67 L575.2 31.4 C577.5 25 581 20.8 584 19 C590 14.5 598 12.5 604.2 12.5 C610 12.5 614 13.5 616.5 14.7 C620 17.5 623 21 624.4 24.3 L628 31.4 L629.7 35.8 L628 67" fill="none" stroke="#1f1f1f" stroke-width="1.21" />
<path d="M584 19 C588 16.5 593 15.5 597.2 15.5 C603 15.5 607 17 609.5 19 C613 22.5 615.5 28 616.5 34 L620 45.4 L625.3 59.5 L627 66.5" fill="none" stroke="#1f1f1f" stroke-width="1.03" />
<path d="M577.8 31.4 C580 24 584 21.8 587 20.2 C592 18.3 597 18 600 18.2 C605 18.6 609 20 611.3 22.6 C614 26 616 30 618.3 35" fill="none" stroke="#1f1f1f" stroke-width="0.69" />
<path d="M604.2 12.5 C612 14 618 20 621 27" fill="none" stroke="#1f1f1f" stroke-width="0.69" />
<ellipse cx="595.4" cy="39.9" rx="16.7" ry="17.8" fill="#fff" stroke="#1f1f1f" stroke-width="1.38" />
<path d="M597.2 22.6 C592.5 27 591 33 591.5 38.4 C592.5 45 597 50 605 53.3" fill="none" stroke="#1f1f1f" stroke-width="0.92" />
<line x1="581.4" y1="38.4" x2="591.5" y2="34.9" stroke="#1f1f1f" stroke-width="0.8"/>
<path d="M566.5 68.4 A29 4.2 0 0 0 624.5 68.4" fill="none" stroke="#1f1f1f" stroke-width="0.92" />
<path d="M630.8 79.2 L632 90 C633 94 636 96 639 95.5 L645 88 L644.9 83 Z" fill="#fff" stroke="#1f1f1f" stroke-width="0.92" />
<path d="M636 82 L638 93 M641 82.5 L643 90" fill="none" stroke="#1f1f1f" stroke-width="0.69" />
<ellipse cx="645.7" cy="66.2" rx="15.2" ry="17.2" fill="#fff" stroke="#1f1f1f" stroke-width="1.15" />
<path d="M647 51.5 C655 54 659 60 659 66 C659 73 655 79 648 81.5" fill="none" stroke="#1f1f1f" stroke-width="0.69" />
<line x1="650" y1="66" x2="659.5" y2="64.5" stroke="#1f1f1f" stroke-width="0.69"/>
<ellipse cx="639.4" cy="68.2" rx="10.8" ry="12.7" fill="#fff" stroke="#1f1f1f" stroke-width="1.38" />
<ellipse cx="639.3" cy="68.2" rx="5.3" ry="5.8" fill="#1a1a1a" stroke="#111" stroke-width="0.6" />
<ellipse cx="640.6" cy="67.6" rx="1.7" ry="2.8" fill="#8a8a8a" stroke="none" stroke-width="0" />
<path d="M585.7 122 L585.63 122.51 L585.43 123.02 L585.12 123.5 L584.73 123.97 L584.3 124.41 L583.88 124.83 L583.5 125.24 L583.21 125.66 L583.02 126.09 L582.94 126.54 L582.96 127.03 L583.07 127.55 L583.24 128.1 L583.42 128.69 L583.57 129.28 L583.66 129.86 L583.66 130.42 L583.54 130.94 L583.3 131.39 L582.93 131.78 L582.47 132.09 L581.93 132.34 L581.35 132.55 L580.77 132.73 L580.23 132.92 L579.74 133.12 L579.33 133.39 L579.01 133.71 L578.77 134.12 L578.6 134.6 L578.48 135.15 L578.37 135.74 L578.25 136.34 L578.08 136.92 L577.85 137.45 L577.55 137.89 L577.16 138.23 L576.69 138.46 L576.16 138.57 L575.58 138.58 L574.97 138.52 L574.37 138.42 L573.78 138.31 L573.23 138.25 L572.73 138.25 L572.27 138.34 L571.86 138.54 L571.47 138.84 L571.11 139.24 L570.74 139.69 L570.36 140.17 L569.96 140.63 L569.53 141.03 L569.06 141.34 L568.57 141.52 L568.06 141.57 L567.53 141.48 L567.01 141.27 L566.5 140.96 L566 140.6 L565.52 140.23 L565.06 139.88 L564.61 139.61 L564.17 139.43 L563.71 139.36 L563.24 139.4 L562.75 139.54 L562.23 139.76 L561.68 140 L561.11 140.24 L560.54 140.43 L559.98 140.54 L559.44 140.53 L558.94 140.39 L558.49 140.12 L558.1 139.74 L557.77 139.26 L557.48 138.73 L557.22 138.17 L556.98 137.63 L556.72 137.15 L556.43 136.74 L556.09 136.42 L555.68 136.2 L555.21 136.06 L554.67 135.99 L554.09 135.95 L553.48 135.91 L552.87 135.84 L552.3 135.7 L551.79 135.49 L551.36 135.18 L551.04 134.77 L550.83 134.29 L550.71 133.73 L550.68 133.13 L550.69 132.52 L550.73 131.92 L550.75 131.35 L550.72 130.82 L550.6 130.36 L550.4 129.95 L550.08 129.59 L549.68 129.27 L549.2 128.96 L548.69 128.65 L548.17 128.31 L547.7 127.95 L547.3 127.54 L547.01 127.09 L546.85 126.6 L546.82 126.08 L546.93 125.53 L547.14 124.99 L547.42 124.45 L547.73 123.92 L548.03 123.41 L548.28 122.93 L548.44 122.46 L548.5 122 L548.44 121.54 L548.28 121.07 L548.03 120.59 L547.73 120.08 L547.42 119.55 L547.14 119.01 L546.93 118.47 L546.82 117.92 L546.85 117.4 L547.01 116.91 L547.3 116.46 L547.7 116.05 L548.17 115.69 L548.69 115.35 L549.2 115.04 L549.68 114.73 L550.08 114.41 L550.4 114.05 L550.6 113.64 L550.72 113.18 L550.75 112.65 L550.73 112.08 L550.69 111.48 L550.68 110.87 L550.71 110.27 L550.83 109.71 L551.04 109.23 L551.36 108.82 L551.79 108.51 L552.3 108.3 L552.87 108.16 L553.48 108.09 L554.09 108.05 L554.67 108.01 L555.21 107.94 L555.68 107.8 L556.09 107.58 L556.43 107.26 L556.72 106.85 L556.98 106.37 L557.22 105.83 L557.48 105.27 L557.77 104.74 L558.1 104.26 L558.49 103.88 L558.94 103.61 L559.44 103.47 L559.98 103.46 L560.54 103.57 L561.11 103.76 L561.68 104 L562.23 104.24 L562.75 104.46 L563.24 104.6 L563.71 104.64 L564.17 104.57 L564.61 104.39 L565.06 104.12 L565.52 103.77 L566 103.4 L566.5 103.04 L567.01 102.73 L567.53 102.52 L568.06 102.43 L568.57 102.48 L569.06 102.66 L569.53 102.97 L569.96 103.37 L570.36 103.83 L570.74 104.31 L571.11 104.76 L571.47 105.16 L571.86 105.46 L572.27 105.66 L572.73 105.75 L573.23 105.75 L573.78 105.69 L574.37 105.58 L574.97 105.48 L575.58 105.42 L576.16 105.43 L576.69 105.54 L577.16 105.77 L577.55 106.11 L577.85 106.55 L578.08 107.08 L578.25 107.66 L578.37 108.26 L578.48 108.85 L578.6 109.4 L578.77 109.88 L579.01 110.29 L579.33 110.61 L579.74 110.88 L580.23 111.08 L580.77 111.27 L581.35 111.45 L581.93 111.66 L582.47 111.91 L582.93 112.22 L583.3 112.61 L583.54 113.06 L583.66 113.58 L583.66 114.14 L583.57 114.72 L583.42 115.31 L583.24 115.9 L583.07 116.45 L582.96 116.97 L582.94 117.46 L583.02 117.91 L583.21 118.34 L583.5 118.76 L583.88 119.17 L584.3 119.59 L584.73 120.03 L585.12 120.5 L585.43 120.98 L585.63 121.49 L585.7 122 Z" fill="#fff" stroke="#111" stroke-width="1.5" />
<line x1="561.79" y1="111.61" x2="566.63" y2="103.91" stroke="#111" stroke-width="1.3"/>
<line x1="562.76" y1="111.68" x2="568.08" y2="105.03" stroke="#555" stroke-width="0.7"/>
<line x1="565.78" y1="112.49" x2="573.07" y2="105.34" stroke="#111" stroke-width="1.3"/>
<line x1="566.66" y1="112.91" x2="574.03" y2="106.9" stroke="#555" stroke-width="0.7"/>
<line x1="569.18" y1="114.74" x2="578.57" y2="108.98" stroke="#111" stroke-width="1.3"/>
<line x1="569.85" y1="115.45" x2="578.91" y2="110.78" stroke="#555" stroke-width="0.7"/>
<line x1="571.55" y1="118.07" x2="582.4" y2="114.35" stroke="#111" stroke-width="1.3"/>
<line x1="571.92" y1="118.97" x2="582.07" y2="116.15" stroke="#555" stroke-width="0.7"/>
<line x1="572.57" y1="122.02" x2="584.06" y2="120.74" stroke="#111" stroke-width="1.3"/>
<line x1="572.6" y1="123" x2="583.1" y2="122.3" stroke="#555" stroke-width="0.7"/>
<line x1="572.11" y1="126.07" x2="583.31" y2="127.29" stroke="#111" stroke-width="1.3"/>
<line x1="571.78" y1="127" x2="581.85" y2="128.41" stroke="#555" stroke-width="0.7"/>
<line x1="570.23" y1="129.7" x2="580.26" y2="133.14" stroke="#111" stroke-width="1.3"/>
<line x1="569.59" y1="130.44" x2="578.51" y2="133.66" stroke="#555" stroke-width="0.7"/>
<line x1="567.17" y1="132.4" x2="575.32" y2="137.51" stroke="#111" stroke-width="1.3"/>
<line x1="566.31" y1="132.87" x2="573.5" y2="137.37" stroke="#555" stroke-width="0.7"/>
<line x1="563.34" y1="133.83" x2="569.14" y2="139.83" stroke="#111" stroke-width="1.3"/>
<line x1="562.38" y1="133.96" x2="567.49" y2="139.03" stroke="#555" stroke-width="0.7"/>
<path d="M569 104 A18.6 18.6 0 0 1 584.6 124 A18.6 18.6 0 0 1 572 139.5" fill="none" stroke="#111" stroke-width="2.4" />
<ellipse cx="561.4" cy="122.8" rx="11.2" ry="11.5" fill="#fff" stroke="#111" stroke-width="1.5" />
<ellipse cx="562" cy="122.6" rx="5.5" ry="5.6" fill="#fff" stroke="#222" stroke-width="0.9" />
<ellipse cx="562.4" cy="122.5" rx="1.9" ry="2.4" fill="#fff" stroke="#222" stroke-width="0.9" />
<line x1="550.8" y1="122.2" x2="557.5" y2="122.2" stroke="#444" stroke-width="0.7"/>
<line x1="565.5" y1="122.2" x2="572.3" y2="122.2" stroke="#444" stroke-width="0.7"/>
<ellipse cx="536.4" cy="130.6" rx="4.6" ry="4.8" fill="#fff" stroke="#111" stroke-width="1.3" />
<ellipse cx="536.2" cy="130.5" rx="1.9" ry="1.9" fill="#444" stroke="#222" stroke-width="0.5" />
<ellipse cx="701" cy="154.2" rx="13.4" ry="4" fill="#d81c1f" stroke="#3c0606" stroke-width="1.17" />
<ellipse cx="701" cy="153.8" rx="8" ry="1.2" fill="none" stroke="#3c0606" stroke-width="0.65" />
<line x1="711.7" y1="161.2" x2="755.5" y2="186.2" stroke="#333" stroke-width="0.85"/>
<path d="M0.9 1.1 L1.9 0.25 L1.9 6.95 M6.7 0.5 L4.1 0.5 L3.8 3.35 C4.3 2.95 4.8 2.8 5.3 2.8 C6.3 2.8 7.0 3.65 7.0 4.8 C7.0 6.1 6.3 6.9 5.3 6.9 C4.6 6.9 4.0 6.5 3.75 5.85" fill="none" stroke="#111" stroke-width="1.15" stroke-linejoin="round" transform="translate(760.6 185) scale(1 0.96)"/>
<path d="M697.2 170.5 L697.2 162.5 A3.8 1.6 0 0 1 704.6 162.5 L704.6 170.5 Z" fill="#fff" stroke="#1f1f1f" stroke-width="0.92" />
<path d="M694.6 172 L694.6 175 A6.3 1.8 0 0 0 707.2 175 L707.2 172 Z" fill="#fff" stroke="#1f1f1f" stroke-width="1.21" />
<ellipse cx="700.9" cy="172" rx="6.3" ry="1.8" fill="#fff" stroke="#1f1f1f" stroke-width="1.21" />
<path d="M697.3 176 L697.3 181 A3.6 1.2 0 0 0 704.5 181 L704.5 176 Z" fill="#fff" stroke="#1f1f1f" stroke-width="1.21" />
<path d="M694.9 182.5 L694.9 183.5 A6 1.6 0 0 0 706.9 183.5 L706.9 182.5 Z" fill="#fff" stroke="#1f1f1f" stroke-width="1.21" />
<ellipse cx="700.9" cy="182.5" rx="6" ry="1.6" fill="#fff" stroke="#1f1f1f" stroke-width="1.21" />
<path d="M695.5 184 L697.5 198 Q700.9 204 704.3 198 L706.3 184 Z" fill="#fff" stroke="#1f1f1f" stroke-width="0.92" />
<path d="M696.7 193 A4.2 1.2 0 0 0 705.1 193" fill="none" stroke="#1f1f1f" stroke-width="0.69" />
<ellipse cx="701.1" cy="207.1" rx="7.1" ry="2.9" fill="#d81c1f" stroke="#3c0606" stroke-width="1.17" />
<line x1="709.6" y1="211" x2="751.7" y2="236.5" stroke="#333" stroke-width="0.85"/>
<path d="M0.9 1.1 L1.9 0.25 L1.9 6.95 M6.7 0.5 L4.1 0.5 L3.8 3.35 C4.3 2.95 4.8 2.8 5.3 2.8 C6.3 2.8 7.0 3.65 7.0 4.8 C7.0 6.1 6.3 6.9 5.3 6.9 C4.6 6.9 4.0 6.5 3.75 5.85" fill="none" stroke="#111" stroke-width="1.15" stroke-linejoin="round" transform="translate(757.3 235.7) scale(1 0.96)"/>
<path d="M694.2 252.5 L694.2 269 A7.1 1.8 0 0 0 708.4 269 L708.4 252.5 A7.1 1.8 0 0 1 694.2 252.5 Z" fill="#101010" stroke="#101010" stroke-width="0.5" />
<path d="M694.8 253.6 A6.5 1.8 0 0 0 707.8 253.6" fill="none" stroke="#9c9c9c" stroke-width="0.8" stroke-dasharray="4.5 1.2 7 1.5 3 1" stroke-dashoffset="12.63"/>
<path d="M694.8 255.8 A6.5 1.8 0 0 0 707.8 255.8" fill="none" stroke="#9c9c9c" stroke-width="0.8" stroke-dasharray="4.5 1.2 7 1.5 3 1" stroke-dashoffset="11.65"/>
<path d="M694.8 258 A6.5 1.8 0 0 0 707.8 258" fill="none" stroke="#9c9c9c" stroke-width="0.8" stroke-dasharray="4.5 1.2 7 1.5 3 1" stroke-dashoffset="17.88"/>
<path d="M694.8 260.2 A6.5 1.8 0 0 0 707.8 260.2" fill="none" stroke="#9c9c9c" stroke-width="0.8" stroke-dasharray="4.5 1.2 7 1.5 3 1" stroke-dashoffset="14.79"/>
<path d="M694.8 262.4 A6.5 1.8 0 0 0 707.8 262.4" fill="none" stroke="#9c9c9c" stroke-width="0.8" stroke-dasharray="4.5 1.2 7 1.5 3 1" stroke-dashoffset="5.12"/>
<path d="M694.8 264.6 A6.5 1.8 0 0 0 707.8 264.6" fill="none" stroke="#9c9c9c" stroke-width="0.8" stroke-dasharray="4.5 1.2 7 1.5 3 1" stroke-dashoffset="6.94"/>
<path d="M694.8 266.8 A6.5 1.8 0 0 0 707.8 266.8" fill="none" stroke="#9c9c9c" stroke-width="0.8" stroke-dasharray="4.5 1.2 7 1.5 3 1" stroke-dashoffset="12.04"/>
<path d="M694.8 269 A6.5 1.8 0 0 0 707.8 269" fill="none" stroke="#9c9c9c" stroke-width="0.8" stroke-dasharray="4.5 1.2 7 1.5 3 1" stroke-dashoffset="0.41"/>
<clipPath id="thc4"><rect x="698.03" y="252.5" width="6.53" height="18.3"/></clipPath>
<rect x="698.03" y="254.3" width="6.53" height="16" fill="#101010" clip-path="url(#thc4)"/>
<path d="M694.8 255.14 A6.5 1.8 0 0 0 707.8 255.14 M694.8 259.54 A6.5 1.8 0 0 0 707.8 259.54 M694.8 263.94 A6.5 1.8 0 0 0 707.8 263.94 M694.8 268.34 A6.5 1.8 0 0 0 707.8 268.34" fill="none" stroke="#c4c4c4" stroke-width="0.75" clip-path="url(#thc4)"/>
<path d="M691.1 246 L691.1 251 A9.9 1.8 0 0 0 710.9 251 L710.9 246 Z" fill="#fff" stroke="#1f1f1f" stroke-width="1.21" />
<ellipse cx="701" cy="246" rx="9.9" ry="1.8" fill="#fff" stroke="#1f1f1f" stroke-width="1.21" />
<path d="M688 225 L688 242 A12.9 2.4 0 0 0 713.8 242 L713.8 225 Z" fill="#fff" stroke="#1f1f1f" stroke-width="1.21" />
<path d="M688 225 A12.9 2.4 0 0 1 713.8 225" fill="none" stroke="#1f1f1f" stroke-width="1.21" />
<path d="M709 227 L713.6 227 L713.6 241 L709 241.5 Z" fill="#fff" stroke="#1f1f1f" stroke-width="0.92" />
<ellipse cx="696" cy="237.8" rx="3.3" ry="3.3" fill="#fff" stroke="#1f1f1f" stroke-width="0.92" />
<line x1="696" y1="235.5" x2="696" y2="238.5" stroke="#1f1f1f" stroke-width="0.69"/>
<path d="M689.1 218.5 L689.1 224.5 A11.8 2 0 0 0 712.7 224.5 L712.7 218.5 Z" fill="#fff" stroke="#1f1f1f" stroke-width="1.21" />
<path d="M688.1 216 L688.1 218.5 A12.8 2.8 0 0 0 713.7 218.5 L713.7 216 Z" fill="#fff" stroke="#1f1f1f" stroke-width="1.21" />
<ellipse cx="700.9" cy="216" rx="12.8" ry="2.8" fill="#fff" stroke="#1f1f1f" stroke-width="1.21" />
<ellipse cx="700.9" cy="215.6" rx="10" ry="1.8" fill="#666" stroke="#1f1f1f" stroke-width="0.69" />
<ellipse cx="701" cy="280.1" rx="23.5" ry="3.7" fill="#fff" stroke="#1f1f1f" stroke-width="1.03" />
<ellipse cx="701" cy="280.1" rx="9.4" ry="1.6" fill="#fff" stroke="#1f1f1f" stroke-width="0.92" />
<path d="M672.4 297 L672.4 301.5 A28.6 3.1 0 0 0 729.6 301.5 L729.6 297 Z" fill="#fff" stroke="#1f1f1f" stroke-width="1.21" />
<line x1="728" y1="298.5" x2="728" y2="302.5" stroke="#1f1f1f" stroke-width="0.8"/>
<path d="M669.8 292.2 L669.8 293.8 A31.5 4.8 0 0 0 732.8 293.8 L732.8 292.2 Z" fill="#fff" stroke="#1f1f1f" stroke-width="1.21" />
<ellipse cx="701.3" cy="292.2" rx="31.5" ry="4.8" fill="#fff" stroke="#1f1f1f" stroke-width="1.21" />
<ellipse cx="684.4" cy="292.3" rx="4.8" ry="1.1" fill="#fff" stroke="#1f1f1f" stroke-width="1.03" />
<ellipse cx="695.7" cy="289.8" rx="3.7" ry="1.2" fill="#fff" stroke="#1f1f1f" stroke-width="1.03" />
<ellipse cx="707.4" cy="289.9" rx="3" ry="1.2" fill="#fff" stroke="#1f1f1f" stroke-width="1.03" />
<ellipse cx="718.4" cy="292" rx="5.1" ry="1.2" fill="#fff" stroke="#1f1f1f" stroke-width="1.03" />
<path d="M692.8 293.5 C696 295.8 706 295.8 710.4 293.5" fill="none" stroke="#1f1f1f" stroke-width="0.92" />
<path d="M699.4 288.5 L699.4 293.5 M704.5 288.8 L704.5 293.5" fill="none" stroke="#1f1f1f" stroke-width="0.69" />
<path d="M669.8 312.5 L669.8 319.4 A31.1 4.2 0 0 0 732 319.4 L732 312.5 Z" fill="#fff" stroke="#1f1f1f" stroke-width="1.21" />
<ellipse cx="700.9" cy="312.5" rx="31.1" ry="4.2" fill="#fff" stroke="#1f1f1f" stroke-width="1.21" />
<ellipse cx="700.9" cy="312.6" rx="29.4" ry="3.2" fill="none" stroke="#1f1f1f" stroke-width="0.92" />
<line x1="713" y1="308.6" x2="713" y2="313.5" stroke="#1f1f1f" stroke-width="0.8"/>
<line x1="687.7" y1="317.5" x2="687.7" y2="323.3" stroke="#1f1f1f" stroke-width="0.8"/>
<ellipse cx="701.1" cy="328.8" rx="19" ry="3" fill="#fff" stroke="#1f1f1f" stroke-width="0.92" />
<ellipse cx="701.1" cy="328.8" rx="7" ry="1.3" fill="#8a8a8a" stroke="#1f1f1f" stroke-width="1.15" />
<ellipse cx="701.1" cy="336.8" rx="19" ry="3" fill="#fff" stroke="#1f1f1f" stroke-width="0.92" />
<ellipse cx="701.1" cy="336.8" rx="7" ry="1.3" fill="#8a8a8a" stroke="#1f1f1f" stroke-width="1.15" />
<ellipse cx="701.1" cy="344.4" rx="19" ry="3" fill="#fff" stroke="#1f1f1f" stroke-width="0.92" />
<ellipse cx="701.1" cy="344.4" rx="7" ry="1.3" fill="#8a8a8a" stroke="#1f1f1f" stroke-width="1.15" />
<ellipse cx="701.1" cy="351.4" rx="19" ry="3" fill="#fff" stroke="#1f1f1f" stroke-width="0.92" />
<ellipse cx="701.1" cy="351.4" rx="7" ry="1.3" fill="#8a8a8a" stroke="#1f1f1f" stroke-width="1.15" />
<ellipse cx="701.1" cy="357.7" rx="19" ry="3" fill="#fff" stroke="#1f1f1f" stroke-width="0.92" />
<ellipse cx="701.1" cy="357.7" rx="7" ry="1.3" fill="#8a8a8a" stroke="#1f1f1f" stroke-width="1.15" />
<path d="M688.7 366 L688.7 373.5 Q701 377.5 713.8 373.5 L713.8 366 Z" fill="#fff" stroke="#1f1f1f" stroke-width="1.03" />
<ellipse cx="701.2" cy="365.6" rx="12.5" ry="3" fill="#fff" stroke="#1f1f1f" stroke-width="1.03" />
<ellipse cx="701.2" cy="365.2" rx="8.5" ry="2" fill="#555" stroke="#1f1f1f" stroke-width="0.69" />
<line x1="701.2" y1="367" x2="701.2" y2="376.5" stroke="#1f1f1f" stroke-width="0.8"/>
<line x1="692" y1="366.5" x2="692" y2="374.5" stroke="#1f1f1f" stroke-width="0.69"/>
<ellipse cx="700.8" cy="402.2" rx="37.4" ry="7.5" fill="#d81c1f" stroke="#3c0606" stroke-width="1.3" />
<ellipse cx="701.2" cy="401.6" rx="28.7" ry="2.7" fill="#fff" stroke="#3c0606" stroke-width="1.17" />
<line x1="736.5" y1="406.7" x2="793.6" y2="440.4" stroke="#333" stroke-width="0.85"/>
<path d="M0.9 1.1 L1.9 0.25 L1.9 6.95 M6.7 0.5 L4.1 0.5 L3.8 3.35 C4.3 2.95 4.8 2.8 5.3 2.8 C6.3 2.8 7.0 3.65 7.0 4.8 C7.0 6.1 6.3 6.9 5.3 6.9 C4.6 6.9 4.0 6.5 3.75 5.85" fill="none" stroke="#111" stroke-width="1.15" stroke-linejoin="round" transform="translate(796.9 440.2) scale(1 0.96)"/>
<path d="M662.8 596 L662.8 611 A38.2 5 0 0 0 739.2 611 L739.2 596 Z" fill="#fff" stroke="#1f1f1f" stroke-width="1.21" />
<path d="M662.8 596 A38.2 5 0 0 0 739.2 596" fill="none" stroke="#1f1f1f" stroke-width="0.92" />
<path d="M664.2 589 L663.1 596 M737.8 589 L739 596" fill="none" stroke="#1f1f1f" stroke-width="0.92" />
<path d="M664 466 L664 589 A37 4.8 0 0 0 738 589 L738 466 Z" fill="#fff" stroke="#1f1f1f" stroke-width="1.21" />
<path d="M664 589 A37 4.8 0 0 0 738 589" fill="none" stroke="#1f1f1f" stroke-width="0.92" />
<line x1="734.5" y1="466" x2="734.5" y2="590" stroke="#1f1f1f" stroke-width="0.8"/>
<path d="M662.4 427 L662.8 455.5 A38.2 4.8 0 0 0 739.2 455.5 L739.6 427 Z" fill="#fff" stroke="#1f1f1f" stroke-width="1.21" />
<path d="M663 455.5 L664.5 464 A36.5 4.8 0 0 0 737.5 464 L739.3 455.5" fill="#fff" stroke="#1f1f1f" stroke-width="0.92" />
<path d="M662.6 455.5 A38.4 4.8 0 0 0 739.4 455.5" fill="none" stroke="#1f1f1f" stroke-width="0.92" />
<ellipse cx="701" cy="426.6" rx="38.6" ry="5.6" fill="#fff" stroke="#1f1f1f" stroke-width="1.15" />
<ellipse cx="701" cy="426.2" rx="35" ry="4" fill="#262626" stroke="#262626" stroke-width="0.5" />
<path d="M673 424.5 A28 2 0 0 0 729 424.5" fill="none" stroke="#8a8a8a" stroke-width="0.6" />
<path d="M668 426.5 A33 2 0 0 0 734 426.5" fill="none" stroke="#8a8a8a" stroke-width="0.6" />
<path d="M675 428.5 A26 2 0 0 0 727 428.5" fill="none" stroke="#8a8a8a" stroke-width="0.6" />
<path d="M673.5 430 L673.5 439 L698 441 L698 431" fill="none" stroke="#1f1f1f" stroke-width="1.03" />
<path d="M728.5 430 L728.5 438.5 L739 436.5" fill="none" stroke="#1f1f1f" stroke-width="1.03" />
<ellipse cx="701" cy="641.1" rx="31.8" ry="7.7" fill="#d81c1f" stroke="#3c0606" stroke-width="1.17" />
<path d="M669.4 641.3 A31.6 3.4 0 0 0 732.6 641.3" fill="none" stroke="#3c0606" stroke-width="0.91" />
<line x1="690.5" y1="639.8" x2="711.8" y2="639.8" stroke="#f0c8c8" stroke-width="1.3"/>
<line x1="731.4" y1="644.5" x2="796" y2="609.4" stroke="#333" stroke-width="0.85"/>
<path d="M0.9 1.1 L1.9 0.25 L1.9 6.95 M6.7 0.5 L4.1 0.5 L3.8 3.35 C4.3 2.95 4.8 2.8 5.3 2.8 C6.3 2.8 7.0 3.65 7.0 4.8 C7.0 6.1 6.3 6.9 5.3 6.9 C4.6 6.9 4.0 6.5 3.75 5.85" fill="none" stroke="#111" stroke-width="1.15" stroke-linejoin="round" transform="translate(806.5 603.4) scale(1 0.96)"/>
<path d="M669.9 676.5 L669.9 678 A31.4 4.2 0 0 0 732.7 678 L732.7 676.5 Z" fill="#d81c1f" stroke="#3c0606" stroke-width="1.17" />
<ellipse cx="701.3" cy="676.5" rx="31.4" ry="4.2" fill="#d81c1f" stroke="#3c0606" stroke-width="1.17" />
<path d="M672.8 667 L672.8 674 A28.5 4 0 0 0 729.8 674 L729.8 667 Z" fill="#fff" stroke="#1f1f1f" stroke-width="1.21" />
<path d="M672.8 667 L672.8 674 A28.5 4 0 0 0 729.8 674 L729.8 667 Z" fill="#d81c1f" stroke="#3c0606" stroke-width="1.17" />
<path d="M670.8 664.5 L670.8 667 A30.5 4 0 0 0 731.8 667 L731.8 664.5 Z" fill="#d81c1f" stroke="#3c0606" stroke-width="1.17" />
<ellipse cx="701.3" cy="664.5" rx="30.5" ry="4" fill="#d81c1f" stroke="#3c0606" stroke-width="1.17" />
<path d="M672.3 658 L672.3 663 A29 4.8 0 0 0 730.3 663 L730.3 658 Z" fill="#d81c1f" stroke="#3c0606" stroke-width="1.17" />
<ellipse cx="701.3" cy="658" rx="29" ry="4.8" fill="#d81c1f" stroke="#3c0606" stroke-width="1.17" />
<ellipse cx="701.3" cy="658" rx="27" ry="3.8" fill="#d81c1f" stroke="#3c0606" stroke-width="1.04" />
<ellipse cx="701.3" cy="658.4" rx="23" ry="2.6" fill="#b81414" stroke="#3c0606" stroke-width="0.78" />
<path d="M669.1 694.5 L669.1 697.2 A31.9 5.5 0 0 0 732.9 697.2 L732.9 694.5 Z" fill="#d81c1f" stroke="#3c0606" stroke-width="1.17" />
<ellipse cx="701" cy="694.5" rx="31.9" ry="5.5" fill="#d81c1f" stroke="#3c0606" stroke-width="1.17" />
<ellipse cx="701" cy="694.5" rx="27" ry="3.6" fill="#b01414" stroke="#3c0606" stroke-width="0.91" />
<ellipse cx="702" cy="694.8" rx="12" ry="1.3" fill="#caa" stroke="#3c0606" stroke-width="0.52" />
<line x1="689" y1="696" x2="689" y2="702" stroke="#3c0606" stroke-width="0.6"/>
<ellipse cx="701.5" cy="712.9" rx="6.5" ry="2.2" fill="#6a0808" stroke="#1e0202" stroke-width="1.1" />
<path d="M694 731 L694 732.5 A7.4 2.2 0 0 0 708.8 732.5 L708.8 731 Z" fill="#d81c1f" stroke="#3c0606" stroke-width="1.17" />
<ellipse cx="701.4" cy="731" rx="7.4" ry="2.2" fill="#d81c1f" stroke="#3c0606" stroke-width="1.17" />
<path d="M695.4 721.5 L695.4 730.5 A6 1.8 0 0 0 707.4 730.5 L707.4 721.5 Z" fill="#6a0808" stroke="#2a0303" stroke-width="0.9" />
<path d="M695.6 723.5 A5.8 1.4 0 0 0 707.2 723.5" fill="none" stroke="#1e0202" stroke-width="0.8" />
<path d="M695.6 726 A5.8 1.4 0 0 0 707.2 726" fill="none" stroke="#1e0202" stroke-width="0.8" />
<path d="M695.6 728.5 A5.8 1.4 0 0 0 707.2 728.5" fill="none" stroke="#1e0202" stroke-width="0.8" />
<ellipse cx="701.4" cy="721.5" rx="6" ry="1.8" fill="#8a0c0c" stroke="#2a0303" stroke-width="0.9" />
<ellipse cx="701" cy="762.4" rx="33.8" ry="7.8" fill="#d81c1f" stroke="#3c0606" stroke-width="1.17" />
<path d="M667.4 762.6 A33.6 3.6 0 0 0 734.6 762.6" fill="none" stroke="#3c0606" stroke-width="0.91" />
<line x1="687.5" y1="761" x2="713.5" y2="761" stroke="#f0c8c8" stroke-width="1.3"/>
<line x1="687.6" y1="764.5" x2="687.6" y2="769.6" stroke="#3c0606" stroke-width="0.6"/>
<path d="M670.9 824 L670.9 831.8 A30.3 4.5 0 0 0 731.5 831.8 L731.5 824 Z" fill="#fff" stroke="#1f1f1f" stroke-width="1.21" />
<path d="M668.6 820.5 L668.6 822.5 A32.7 4.2 0 0 0 734 822.5 L734 820.5 Z" fill="#fff" stroke="#1f1f1f" stroke-width="1.21" />
<ellipse cx="701.3" cy="820.5" rx="32.7" ry="4.2" fill="#fff" stroke="#1f1f1f" stroke-width="1.21" />
<path d="M673.2 813 L673.2 818 A28 3.5 0 0 0 729.2 818 L729.2 813 Z" fill="#fff" stroke="#1f1f1f" stroke-width="1.21" />
<path d="M668.6 808.5 L668.6 810.8 A32.7 5 0 0 0 734 810.8 L734 808.5 Z" fill="#fff" stroke="#1f1f1f" stroke-width="1.21" />
<ellipse cx="701.3" cy="808.5" rx="32.7" ry="5" fill="#fff" stroke="#1f1f1f" stroke-width="1.21" />
<ellipse cx="701.5" cy="807" rx="22" ry="2.5" fill="none" stroke="#1f1f1f" stroke-width="0.8" />
<line x1="688" y1="812" x2="688" y2="836" stroke="#1f1f1f" stroke-width="0.8"/>
<path d="M693 781.5 L693 806 A8.6 2 0 0 0 710.2 806 L710.2 781.5 Z" fill="#fff" stroke="#1f1f1f" stroke-width="1.21" />
<ellipse cx="701.6" cy="781.5" rx="8.6" ry="2" fill="#fff" stroke="#1f1f1f" stroke-width="1.21" />
<line x1="697.8" y1="783" x2="697.8" y2="808" stroke="#1f1f1f" stroke-width="0.8"/>
<ellipse cx="701.2" cy="849.1" rx="35.4" ry="6.8" fill="#d81c1f" stroke="#3c0606" stroke-width="1.3" />
<ellipse cx="702.7" cy="848.9" rx="24.9" ry="3" fill="#fff" stroke="#3c0606" stroke-width="1.17" />
<line x1="737.6" y1="848.9" x2="793.4" y2="878.8" stroke="#333" stroke-width="0.85"/>
<path d="M0.9 1.1 L1.9 0.25 L1.9 6.95 M6.7 0.5 L4.1 0.5 L3.8 3.35 C4.3 2.95 4.8 2.8 5.3 2.8 C6.3 2.8 7.0 3.65 7.0 4.8 C7.0 6.1 6.3 6.9 5.3 6.9 C4.6 6.9 4.0 6.5 3.75 5.85" fill="none" stroke="#111" stroke-width="1.15" stroke-linejoin="round" transform="translate(799.4 880.6) scale(1 0.96)"/>
<path d="M699.3 869 L699.3 864 A2.2 0.8 0 0 1 703.6 864 L703.6 869 Z" fill="#d81c1f" stroke="#3c0606" stroke-width="1.04" />
<path d="M696.7 871 L696.7 874 A4.8 1.4 0 0 0 706.3 874 L706.3 871 Z" fill="#d81c1f" stroke="#3c0606" stroke-width="1.04" />
<ellipse cx="701.5" cy="871" rx="4.8" ry="1.4" fill="#d81c1f" stroke="#3c0606" stroke-width="1.04" />
<path d="M697.2 876 L694.8 893 L708.5 893 L706 876 Z" fill="#d81c1f" stroke="#3c0606" stroke-width="1.04" />
<path d="M694.6 895 L694.6 901 A7 1.8 0 0 0 708.6 901 L708.6 895 Z" fill="#6a0808" stroke="#2a0303" stroke-width="1" />
<ellipse cx="701.6" cy="895" rx="7" ry="1.8" fill="#6a0808" stroke="#2a0303" stroke-width="1" />
<ellipse cx="701.6" cy="898.5" rx="6.5" ry="1.5" fill="none" stroke="#2a0303" stroke-width="0.9" />
<path d="M699.5 902 L699.5 910 L703.6 910 L703.6 902 Z" fill="#6a0808" stroke="#2a0303" stroke-width="0.9" />
<path d="M699.3 864 L699.3 869 L703.6 869 L703.6 864 Z" fill="#8a0c0c" stroke="#2a0303" stroke-width="0.8" />
<ellipse cx="701.5" cy="871" rx="4.8" ry="1.4" fill="#8a0c0c" stroke="#2a0303" stroke-width="0.8" />
<line x1="708.7" y1="903.7" x2="796.4" y2="957.5" stroke="#333" stroke-width="0.85"/>
<path d="M0.9 1.1 L1.9 0.25 L1.9 6.95 M6.7 0.5 L4.1 0.5 L3.8 3.35 C4.3 2.95 4.8 2.8 5.3 2.8 C6.3 2.8 7.0 3.65 7.0 4.8 C7.0 6.1 6.3 6.9 5.3 6.9 C4.6 6.9 4.0 6.5 3.75 5.85" fill="none" stroke="#111" stroke-width="1.15" stroke-linejoin="round" transform="translate(799.4 955.3) scale(1 0.96)"/>
<ellipse cx="701.1" cy="920.4" rx="8.9" ry="3.2" fill="#d81c1f" stroke="#3c0606" stroke-width="1.3" />
<ellipse cx="701.1" cy="920.1" rx="5" ry="1.2" fill="none" stroke="#3c0606" stroke-width="0.65" />
<line x1="712.7" y1="924.6" x2="797.4" y2="977.4" stroke="#333" stroke-width="0.85"/>
<path d="M0.9 1.1 L1.9 0.25 L1.9 6.95 M6.7 0.5 L4.1 0.5 L3.8 3.35 C4.3 2.95 4.8 2.8 5.3 2.8 C6.3 2.8 7.0 3.65 7.0 4.8 C7.0 6.1 6.3 6.9 5.3 6.9 C4.6 6.9 4.0 6.5 3.75 5.85" fill="none" stroke="#111" stroke-width="1.15" stroke-linejoin="round" transform="translate(799.4 976.1) scale(1 0.96)"/>
<path d="M693.5 945 L693.5 947.5 A7.9 2.2 0 0 0 709.3 947.5 L709.3 945 Z" fill="#d81c1f" stroke="#3c0606" stroke-width="1.17" />
<ellipse cx="701.4" cy="945" rx="7.9" ry="2.2" fill="#d81c1f" stroke="#3c0606" stroke-width="1.17" />
<path d="M695.2 934.5 L695.2 944 A6.2 1.8 0 0 0 707.6 944 L707.6 934.5 Z" fill="#5c0808" stroke="#2a0303" stroke-width="0.9" />
<path d="M695.4 937 A6 1.4 0 0 0 707.4 937" fill="none" stroke="#1e0202" stroke-width="0.9" />
<path d="M695.4 940 A6 1.4 0 0 0 707.4 940" fill="none" stroke="#1e0202" stroke-width="0.9" />
<ellipse cx="701.4" cy="934.3" rx="6.2" ry="1.8" fill="#7a0a0a" stroke="#2a0303" stroke-width="0.9" />
<line x1="708.7" y1="952.5" x2="796.4" y2="1007.3" stroke="#333" stroke-width="0.85"/>
<path d="M0.9 1.1 L1.9 0.25 L1.9 6.95 M6.7 0.5 L4.1 0.5 L3.8 3.35 C4.3 2.95 4.8 2.8 5.3 2.8 C6.3 2.8 7.0 3.65 7.0 4.8 C7.0 6.1 6.3 6.9 5.3 6.9 C4.6 6.9 4.0 6.5 3.75 5.85" fill="none" stroke="#111" stroke-width="1.15" stroke-linejoin="round" transform="translate(799.4 1007.8) scale(1 0.96)"/>
<line x1="733.8" y1="666.8" x2="794.7" y2="700.8" stroke="#333" stroke-width="0.85"/>
<line x1="733.2" y1="682" x2="794.7" y2="717.2" stroke="#333" stroke-width="0.85"/>
<path d="M0.9 1.1 L1.9 0.25 L1.9 6.95 M6.7 0.5 L4.1 0.5 L3.8 3.35 C4.3 2.95 4.8 2.8 5.3 2.8 C6.3 2.8 7.0 3.65 7.0 4.8 C7.0 6.1 6.3 6.9 5.3 6.9 C4.6 6.9 4.0 6.5 3.75 5.85" fill="none" stroke="#111" stroke-width="1.15" stroke-linejoin="round" transform="translate(807.6 718.2) scale(1 0.96)"/>
<line x1="733.8" y1="703" x2="794.7" y2="738.3" stroke="#333" stroke-width="0.85"/>
<path d="M0.9 1.1 L1.9 0.25 L1.9 6.95 M6.7 0.5 L4.1 0.5 L3.8 3.35 C4.3 2.95 4.8 2.8 5.3 2.8 C6.3 2.8 7.0 3.65 7.0 4.8 C7.0 6.1 6.3 6.9 5.3 6.9 C4.6 6.9 4.0 6.5 3.75 5.85" fill="none" stroke="#111" stroke-width="1.15" stroke-linejoin="round" transform="translate(807.6 739.3) scale(1 0.96)"/>
<line x1="709.2" y1="718.4" x2="794.7" y2="768.8" stroke="#333" stroke-width="0.85"/>
<path d="M0.9 1.1 L1.9 0.25 L1.9 6.95 M6.7 0.5 L4.1 0.5 L3.8 3.35 C4.3 2.95 4.8 2.8 5.3 2.8 C6.3 2.8 7.0 3.65 7.0 4.8 C7.0 6.1 6.3 6.9 5.3 6.9 C4.6 6.9 4.0 6.5 3.75 5.85" fill="none" stroke="#111" stroke-width="1.15" stroke-linejoin="round" transform="translate(807.6 769.8) scale(1 0.96)"/>
<line x1="709.6" y1="729" x2="794.7" y2="778.2" stroke="#333" stroke-width="0.85"/>
<path d="M0.9 1.1 L1.9 0.25 L1.9 6.95 M6.7 0.5 L4.1 0.5 L3.8 3.35 C4.3 2.95 4.8 2.8 5.3 2.8 C6.3 2.8 7.0 3.65 7.0 4.8 C7.0 6.1 6.3 6.9 5.3 6.9 C4.6 6.9 4.0 6.5 3.75 5.85" fill="none" stroke="#111" stroke-width="1.15" stroke-linejoin="round" transform="translate(807.6 779.2) scale(1 0.96)"/>
<line x1="733.8" y1="766.5" x2="796" y2="801.6" stroke="#333" stroke-width="0.85"/>
<path d="M0.9 1.1 L1.9 0.25 L1.9 6.95 M6.7 0.5 L4.1 0.5 L3.8 3.35 C4.3 2.95 4.8 2.8 5.3 2.8 C6.3 2.8 7.0 3.65 7.0 4.8 C7.0 6.1 6.3 6.9 5.3 6.9 C4.6 6.9 4.0 6.5 3.75 5.85" fill="none" stroke="#111" stroke-width="1.15" stroke-linejoin="round" transform="translate(798.3 803.8) scale(1 0.96)"/>
</g>
</svg>
</body></html>
